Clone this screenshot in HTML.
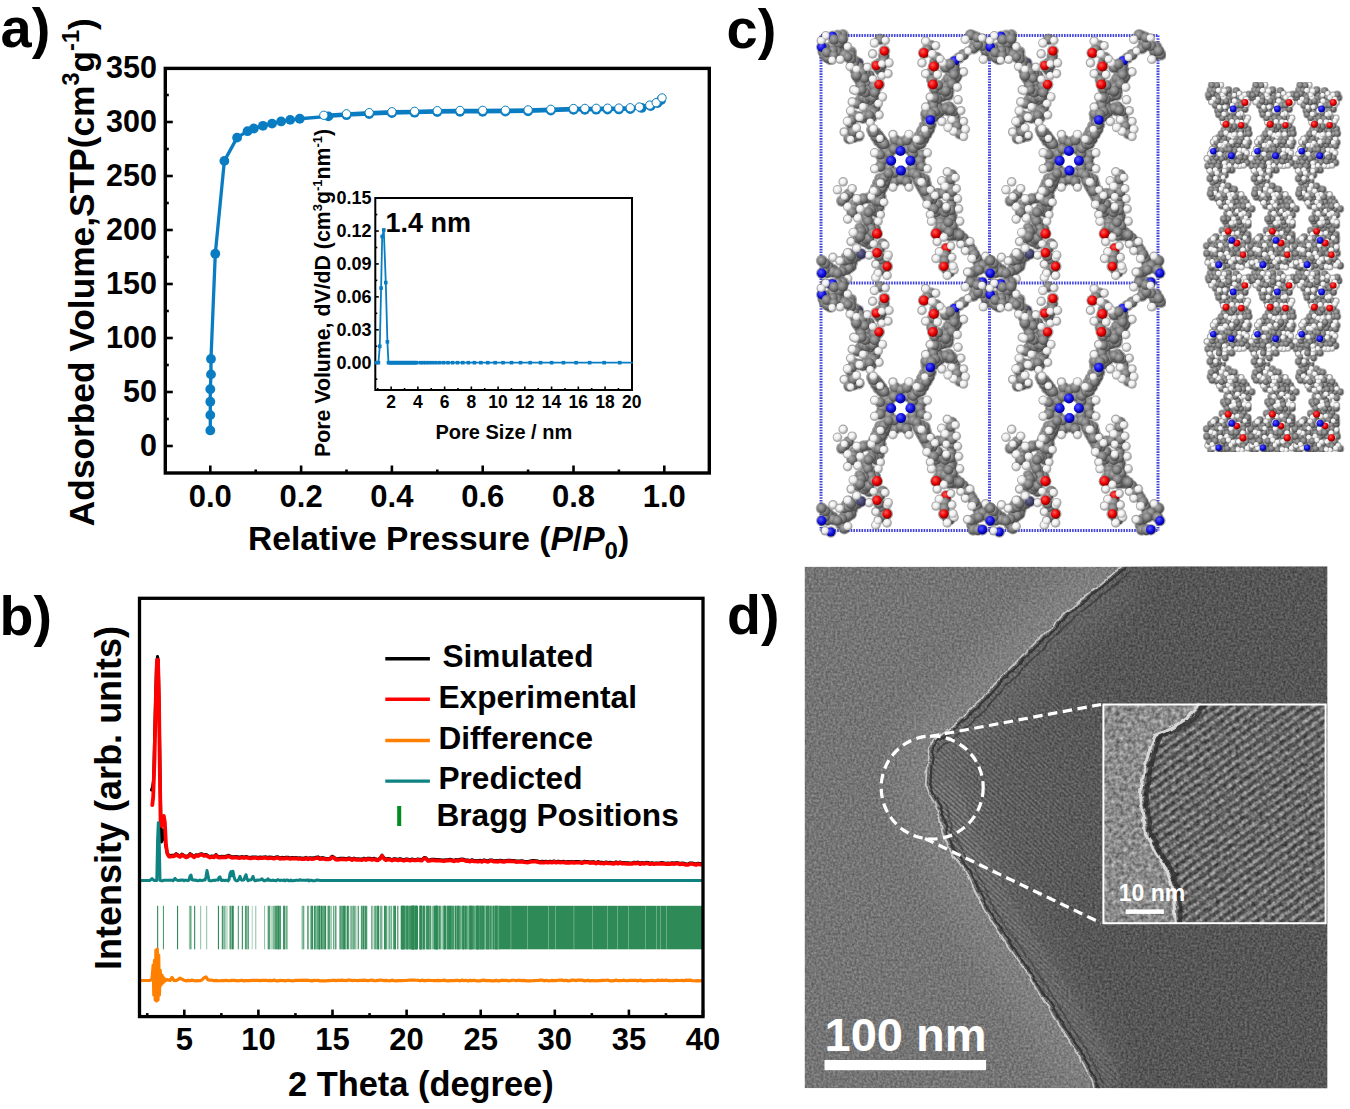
<!DOCTYPE html>
<html><head><meta charset="utf-8"><title>Figure</title>
<style>
html,body{margin:0;padding:0;background:#fff;}
body{width:1350px;height:1109px;overflow:hidden;}
svg{display:block;font-family:"Liberation Sans", sans-serif;}
</style></head>
<body>
<svg width="1350" height="1109" viewBox="0 0 1350 1109">
<rect width="1350" height="1109" fill="#fff"/>
<text x="0.5" y="47" font-size="56" font-weight="bold" text-anchor="start" fill="#000" >a)</text>
<text x="-0.5" y="635" font-size="55.5" font-weight="bold" text-anchor="start" fill="#000" >b)</text>
<text x="726.5" y="47.5" font-size="56" font-weight="bold" text-anchor="start" fill="#000" >c)</text>
<text x="727" y="634" font-size="55.5" font-weight="bold" text-anchor="start" fill="#000" >d)</text>
<line x1="210.3" y1="473" x2="210.3" y2="465.5" stroke="#000" stroke-width="2.6" />
<line x1="255.7" y1="473" x2="255.7" y2="469.5" stroke="#000" stroke-width="2.6" />
<line x1="301.1" y1="473" x2="301.1" y2="465.5" stroke="#000" stroke-width="2.6" />
<line x1="346.5" y1="473" x2="346.5" y2="469.5" stroke="#000" stroke-width="2.6" />
<line x1="391.9" y1="473" x2="391.9" y2="465.5" stroke="#000" stroke-width="2.6" />
<line x1="437.3" y1="473" x2="437.3" y2="469.5" stroke="#000" stroke-width="2.6" />
<line x1="482.7" y1="473" x2="482.7" y2="465.5" stroke="#000" stroke-width="2.6" />
<line x1="528.1" y1="473" x2="528.1" y2="469.5" stroke="#000" stroke-width="2.6" />
<line x1="573.5" y1="473" x2="573.5" y2="465.5" stroke="#000" stroke-width="2.6" />
<line x1="618.9" y1="473" x2="618.9" y2="469.5" stroke="#000" stroke-width="2.6" />
<line x1="664.3" y1="473" x2="664.3" y2="465.5" stroke="#000" stroke-width="2.6" />
<line x1="165.3" y1="446" x2="172.8" y2="446" stroke="#000" stroke-width="2.6" />
<line x1="165.3" y1="419" x2="168.8" y2="419" stroke="#000" stroke-width="2.6" />
<line x1="165.3" y1="392" x2="172.8" y2="392" stroke="#000" stroke-width="2.6" />
<line x1="165.3" y1="365" x2="168.8" y2="365" stroke="#000" stroke-width="2.6" />
<line x1="165.3" y1="338" x2="172.8" y2="338" stroke="#000" stroke-width="2.6" />
<line x1="165.3" y1="311" x2="168.8" y2="311" stroke="#000" stroke-width="2.6" />
<line x1="165.3" y1="284" x2="172.8" y2="284" stroke="#000" stroke-width="2.6" />
<line x1="165.3" y1="257" x2="168.8" y2="257" stroke="#000" stroke-width="2.6" />
<line x1="165.3" y1="230" x2="172.8" y2="230" stroke="#000" stroke-width="2.6" />
<line x1="165.3" y1="203" x2="168.8" y2="203" stroke="#000" stroke-width="2.6" />
<line x1="165.3" y1="176" x2="172.8" y2="176" stroke="#000" stroke-width="2.6" />
<line x1="165.3" y1="149" x2="168.8" y2="149" stroke="#000" stroke-width="2.6" />
<line x1="165.3" y1="122" x2="172.8" y2="122" stroke="#000" stroke-width="2.6" />
<line x1="165.3" y1="95" x2="168.8" y2="95" stroke="#000" stroke-width="2.6" />
<rect x="165.3" y="68.4" width="544.0" height="404.6" fill="none" stroke="#000" stroke-width="3.4"/>
<text x="157" y="455.8" font-size="30.5" font-weight="bold" text-anchor="end" fill="#000" >0</text>
<text x="157" y="401.8" font-size="30.5" font-weight="bold" text-anchor="end" fill="#000" >50</text>
<text x="157" y="347.8" font-size="30.5" font-weight="bold" text-anchor="end" fill="#000" >100</text>
<text x="157" y="293.8" font-size="30.5" font-weight="bold" text-anchor="end" fill="#000" >150</text>
<text x="157" y="239.8" font-size="30.5" font-weight="bold" text-anchor="end" fill="#000" >200</text>
<text x="157" y="185.8" font-size="30.5" font-weight="bold" text-anchor="end" fill="#000" >250</text>
<text x="157" y="131.8" font-size="30.5" font-weight="bold" text-anchor="end" fill="#000" >300</text>
<text x="157" y="77.8" font-size="30.5" font-weight="bold" text-anchor="end" fill="#000" >350</text>
<text x="210.3" y="507" font-size="31" font-weight="bold" text-anchor="middle" fill="#000" >0.0</text>
<text x="301.1" y="507" font-size="31" font-weight="bold" text-anchor="middle" fill="#000" >0.2</text>
<text x="391.9" y="507" font-size="31" font-weight="bold" text-anchor="middle" fill="#000" >0.4</text>
<text x="482.7" y="507" font-size="31" font-weight="bold" text-anchor="middle" fill="#000" >0.6</text>
<text x="573.5" y="507" font-size="31" font-weight="bold" text-anchor="middle" fill="#000" >0.8</text>
<text x="664.3" y="507" font-size="31" font-weight="bold" text-anchor="middle" fill="#000" >1.0</text>
<text transform="translate(93.8,272.2) rotate(-90)" x="0" y="0" font-size="35.3" font-weight="bold" text-anchor="middle">Adsorbed Volume,STP(cm<tspan font-size="23.5" dy="-15">3</tspan><tspan dy="15">g</tspan><tspan font-size="23.5" dy="-15">-1</tspan><tspan dy="15">)</tspan></text>
<text x="248" y="550" font-size="33.6" font-weight="bold">Relative Pressure (<tspan font-style="italic">P</tspan>/<tspan font-style="italic">P</tspan><tspan font-size="24" dy="9">0</tspan><tspan dy="-9">)</tspan></text>
<polyline points="210.3,430.45 210.3,415.11 210.3,401.72 210.3,389.19 210.98,374.4 210.98,358.95 215.29,253.76 224.37,160.88 237.09,137.66 247.53,131.18 253.88,128.48 262.96,125.78 272.04,123.62 281.12,121.46 290.2,119.84 299.74,118.76 328.34,116.41 346.5,115.2 369.2,114.01 391.9,113.14 414.6,112.71 437.3,112.06 460,111.85 482.7,111.74 505.4,111.63 528.1,111.31 550.8,110.66 573.5,109.9 584.85,109.8 596.2,109.69 607.55,109.58 618.9,109.47 630.25,109.15 641.6,107.97 650.68,106.11 657.49,102.98 661.12,100.05" fill="none" stroke="#0a7dc2" stroke-width="3.3" stroke-linejoin="round" stroke-linecap="round" />
<circle cx="210.3" cy="430.45" r="4.9" fill="#0a7dc2"/>
<circle cx="210.3" cy="415.11" r="4.9" fill="#0a7dc2"/>
<circle cx="210.3" cy="401.72" r="4.9" fill="#0a7dc2"/>
<circle cx="210.3" cy="389.19" r="4.9" fill="#0a7dc2"/>
<circle cx="210.98" cy="374.4" r="4.9" fill="#0a7dc2"/>
<circle cx="210.98" cy="358.95" r="4.9" fill="#0a7dc2"/>
<circle cx="215.29" cy="253.76" r="4.9" fill="#0a7dc2"/>
<circle cx="224.37" cy="160.88" r="4.9" fill="#0a7dc2"/>
<circle cx="237.09" cy="137.66" r="4.9" fill="#0a7dc2"/>
<circle cx="247.53" cy="131.18" r="4.9" fill="#0a7dc2"/>
<circle cx="253.88" cy="128.48" r="4.9" fill="#0a7dc2"/>
<circle cx="262.96" cy="125.78" r="4.9" fill="#0a7dc2"/>
<circle cx="272.04" cy="123.62" r="4.9" fill="#0a7dc2"/>
<circle cx="281.12" cy="121.46" r="4.9" fill="#0a7dc2"/>
<circle cx="290.2" cy="119.84" r="4.9" fill="#0a7dc2"/>
<circle cx="299.74" cy="118.76" r="4.9" fill="#0a7dc2"/>
<circle cx="328.34" cy="116.41" r="4.9" fill="#0a7dc2"/>
<circle cx="346.5" cy="115.2" r="4.9" fill="#0a7dc2"/>
<circle cx="369.2" cy="114.01" r="4.9" fill="#0a7dc2"/>
<circle cx="391.9" cy="113.14" r="4.9" fill="#0a7dc2"/>
<circle cx="414.6" cy="112.71" r="4.9" fill="#0a7dc2"/>
<circle cx="437.3" cy="112.06" r="4.9" fill="#0a7dc2"/>
<circle cx="460" cy="111.85" r="4.9" fill="#0a7dc2"/>
<circle cx="482.7" cy="111.74" r="4.9" fill="#0a7dc2"/>
<circle cx="505.4" cy="111.63" r="4.9" fill="#0a7dc2"/>
<circle cx="528.1" cy="111.31" r="4.9" fill="#0a7dc2"/>
<circle cx="550.8" cy="110.66" r="4.9" fill="#0a7dc2"/>
<circle cx="573.5" cy="109.9" r="4.9" fill="#0a7dc2"/>
<circle cx="584.85" cy="109.8" r="4.9" fill="#0a7dc2"/>
<circle cx="596.2" cy="109.69" r="4.9" fill="#0a7dc2"/>
<circle cx="607.55" cy="109.58" r="4.9" fill="#0a7dc2"/>
<circle cx="618.9" cy="109.47" r="4.9" fill="#0a7dc2"/>
<circle cx="630.25" cy="109.15" r="4.9" fill="#0a7dc2"/>
<circle cx="641.6" cy="107.97" r="4.9" fill="#0a7dc2"/>
<circle cx="650.68" cy="106.11" r="4.9" fill="#0a7dc2"/>
<circle cx="657.49" cy="102.98" r="4.9" fill="#0a7dc2"/>
<circle cx="661.12" cy="100.05" r="4.9" fill="#0a7dc2"/>
<polyline points="323.8,115.3 346.5,113.79 369.2,112.6 391.9,111.74 414.6,111.31 437.3,110.66 460,110.44 482.7,110.34 505.4,110.23 528.1,109.9 550.8,109.26 573.5,108.5 584.85,108.39 596.2,108.28 607.55,108.18 618.9,108.07 630.25,107.74 639.33,106.99 649.77,105.04 656.13,102.67 662.03,97.92" fill="none" stroke="#0a7dc2" stroke-width="3.3" stroke-linejoin="round" stroke-linecap="round" />
<circle cx="323.8" cy="115.3" r="4.15" fill="#fff" stroke="#0a7dc2" stroke-width="1.0"/>
<circle cx="346.5" cy="113.79" r="4.15" fill="#fff" stroke="#0a7dc2" stroke-width="1.0"/>
<circle cx="369.2" cy="112.6" r="4.15" fill="#fff" stroke="#0a7dc2" stroke-width="1.0"/>
<circle cx="391.9" cy="111.74" r="4.15" fill="#fff" stroke="#0a7dc2" stroke-width="1.0"/>
<circle cx="414.6" cy="111.31" r="4.15" fill="#fff" stroke="#0a7dc2" stroke-width="1.0"/>
<circle cx="437.3" cy="110.66" r="4.15" fill="#fff" stroke="#0a7dc2" stroke-width="1.0"/>
<circle cx="460" cy="110.44" r="4.15" fill="#fff" stroke="#0a7dc2" stroke-width="1.0"/>
<circle cx="482.7" cy="110.34" r="4.15" fill="#fff" stroke="#0a7dc2" stroke-width="1.0"/>
<circle cx="505.4" cy="110.23" r="4.15" fill="#fff" stroke="#0a7dc2" stroke-width="1.0"/>
<circle cx="528.1" cy="109.9" r="4.15" fill="#fff" stroke="#0a7dc2" stroke-width="1.0"/>
<circle cx="550.8" cy="109.26" r="4.15" fill="#fff" stroke="#0a7dc2" stroke-width="1.0"/>
<circle cx="573.5" cy="108.5" r="4.15" fill="#fff" stroke="#0a7dc2" stroke-width="1.0"/>
<circle cx="584.85" cy="108.39" r="4.15" fill="#fff" stroke="#0a7dc2" stroke-width="1.0"/>
<circle cx="596.2" cy="108.28" r="4.15" fill="#fff" stroke="#0a7dc2" stroke-width="1.0"/>
<circle cx="607.55" cy="108.18" r="4.15" fill="#fff" stroke="#0a7dc2" stroke-width="1.0"/>
<circle cx="618.9" cy="108.07" r="4.15" fill="#fff" stroke="#0a7dc2" stroke-width="1.0"/>
<circle cx="630.25" cy="107.74" r="4.15" fill="#fff" stroke="#0a7dc2" stroke-width="1.0"/>
<circle cx="639.33" cy="106.99" r="4.15" fill="#fff" stroke="#0a7dc2" stroke-width="1.0"/>
<circle cx="649.77" cy="105.04" r="4.15" fill="#fff" stroke="#0a7dc2" stroke-width="1.0"/>
<circle cx="656.13" cy="102.67" r="4.15" fill="#fff" stroke="#0a7dc2" stroke-width="1.0"/>
<circle cx="662.03" cy="97.92" r="4.15" fill="#fff" stroke="#0a7dc2" stroke-width="1.0"/>
<rect x="375.3" y="198.0" width="256.7" height="192.0" fill="#fff" stroke="none"/>
<line x1="377.77" y1="390" x2="377.77" y2="388" stroke="#000" stroke-width="1.6" />
<line x1="391.14" y1="390" x2="391.14" y2="386.5" stroke="#000" stroke-width="1.6" />
<line x1="404.51" y1="390" x2="404.51" y2="388" stroke="#000" stroke-width="1.6" />
<line x1="417.88" y1="390" x2="417.88" y2="386.5" stroke="#000" stroke-width="1.6" />
<line x1="431.25" y1="390" x2="431.25" y2="388" stroke="#000" stroke-width="1.6" />
<line x1="444.62" y1="390" x2="444.62" y2="386.5" stroke="#000" stroke-width="1.6" />
<line x1="457.99" y1="390" x2="457.99" y2="388" stroke="#000" stroke-width="1.6" />
<line x1="471.36" y1="390" x2="471.36" y2="386.5" stroke="#000" stroke-width="1.6" />
<line x1="484.73" y1="390" x2="484.73" y2="388" stroke="#000" stroke-width="1.6" />
<line x1="498.1" y1="390" x2="498.1" y2="386.5" stroke="#000" stroke-width="1.6" />
<line x1="511.47" y1="390" x2="511.47" y2="388" stroke="#000" stroke-width="1.6" />
<line x1="524.84" y1="390" x2="524.84" y2="386.5" stroke="#000" stroke-width="1.6" />
<line x1="538.21" y1="390" x2="538.21" y2="388" stroke="#000" stroke-width="1.6" />
<line x1="551.58" y1="390" x2="551.58" y2="386.5" stroke="#000" stroke-width="1.6" />
<line x1="564.95" y1="390" x2="564.95" y2="388" stroke="#000" stroke-width="1.6" />
<line x1="578.32" y1="390" x2="578.32" y2="386.5" stroke="#000" stroke-width="1.6" />
<line x1="591.69" y1="390" x2="591.69" y2="388" stroke="#000" stroke-width="1.6" />
<line x1="605.06" y1="390" x2="605.06" y2="386.5" stroke="#000" stroke-width="1.6" />
<line x1="618.43" y1="390" x2="618.43" y2="388" stroke="#000" stroke-width="1.6" />
<line x1="631.8" y1="390" x2="631.8" y2="386.5" stroke="#000" stroke-width="1.6" />
<line x1="375.3" y1="379.16" x2="377.3" y2="379.16" stroke="#000" stroke-width="1.6" />
<line x1="375.3" y1="362.7" x2="378.8" y2="362.7" stroke="#000" stroke-width="1.6" />
<line x1="375.3" y1="346.24" x2="377.3" y2="346.24" stroke="#000" stroke-width="1.6" />
<line x1="375.3" y1="329.78" x2="378.8" y2="329.78" stroke="#000" stroke-width="1.6" />
<line x1="375.3" y1="313.32" x2="377.3" y2="313.32" stroke="#000" stroke-width="1.6" />
<line x1="375.3" y1="296.86" x2="378.8" y2="296.86" stroke="#000" stroke-width="1.6" />
<line x1="375.3" y1="280.4" x2="377.3" y2="280.4" stroke="#000" stroke-width="1.6" />
<line x1="375.3" y1="263.94" x2="378.8" y2="263.94" stroke="#000" stroke-width="1.6" />
<line x1="375.3" y1="247.48" x2="377.3" y2="247.48" stroke="#000" stroke-width="1.6" />
<line x1="375.3" y1="231.02" x2="378.8" y2="231.02" stroke="#000" stroke-width="1.6" />
<line x1="375.3" y1="214.56" x2="377.3" y2="214.56" stroke="#000" stroke-width="1.6" />
<rect x="375.3" y="198.0" width="256.7" height="192.0" fill="none" stroke="#000" stroke-width="2"/>
<text x="371.5" y="368.5" font-size="18" font-weight="bold" text-anchor="end" fill="#000" >0.00</text>
<text x="371.5" y="335.58" font-size="18" font-weight="bold" text-anchor="end" fill="#000" >0.03</text>
<text x="371.5" y="302.66" font-size="18" font-weight="bold" text-anchor="end" fill="#000" >0.06</text>
<text x="371.5" y="269.74" font-size="18" font-weight="bold" text-anchor="end" fill="#000" >0.09</text>
<text x="371.5" y="236.82" font-size="18" font-weight="bold" text-anchor="end" fill="#000" >0.12</text>
<text x="371.5" y="203.91" font-size="18" font-weight="bold" text-anchor="end" fill="#000" >0.15</text>
<text x="391.14" y="407.6" font-size="17.5" font-weight="bold" text-anchor="middle" fill="#000" >2</text>
<text x="417.88" y="407.6" font-size="17.5" font-weight="bold" text-anchor="middle" fill="#000" >4</text>
<text x="444.62" y="407.6" font-size="17.5" font-weight="bold" text-anchor="middle" fill="#000" >6</text>
<text x="471.36" y="407.6" font-size="17.5" font-weight="bold" text-anchor="middle" fill="#000" >8</text>
<text x="498.1" y="407.6" font-size="17.5" font-weight="bold" text-anchor="middle" fill="#000" >10</text>
<text x="524.84" y="407.6" font-size="17.5" font-weight="bold" text-anchor="middle" fill="#000" >12</text>
<text x="551.58" y="407.6" font-size="17.5" font-weight="bold" text-anchor="middle" fill="#000" >14</text>
<text x="578.32" y="407.6" font-size="17.5" font-weight="bold" text-anchor="middle" fill="#000" >16</text>
<text x="605.06" y="407.6" font-size="17.5" font-weight="bold" text-anchor="middle" fill="#000" >18</text>
<text x="631.8" y="407.6" font-size="17.5" font-weight="bold" text-anchor="middle" fill="#000" >20</text>
<text x="435.5" y="438.9" font-size="20" font-weight="bold" text-anchor="start" fill="#000" >Pore Size / nm</text>
<text transform="translate(330,457) rotate(-90)" x="0" y="0" font-size="21.3" font-weight="bold">Pore Volume, dV/dD (cm<tspan font-size="13" dy="-8">3</tspan><tspan dy="8">g</tspan><tspan font-size="13" dy="-8">-1</tspan><tspan dy="8">nm</tspan><tspan font-size="13" dy="-8">-1</tspan><tspan dy="8">)</tspan></text>
<text x="385.5" y="231.5" font-size="27" font-weight="bold" text-anchor="start" fill="#000" >1.4 nm</text>
<polyline points="376.43,362.7 378.44,362.7 379.78,346.24 381.11,288.08 382.18,236.51 383.79,229.93 385.79,282.6 387.4,341.85 388.47,362.7 389.8,362.7 391.14,362.7 392.48,362.7 393.81,362.7 395.15,362.7 396.49,362.7 397.82,362.7 399.16,362.7 400.5,362.7 401.84,362.7 403.17,362.7 404.51,362.7 405.85,362.7 407.18,362.7 408.52,362.7 409.86,362.7 411.19,362.7 412.53,362.7 413.87,362.7 415.21,362.7 416.54,362.7 420.55,362.7 423.23,362.7 426.09,362.7 429.15,362.7 432.43,362.7 435.93,362.7 439.68,362.7 443.69,362.7 447.99,362.7 452.58,362.7 457.5,362.7 462.76,362.7 468.39,362.7 474.41,362.7 480.85,362.7 487.75,362.7 495.13,362.7 503.02,362.7 511.47,362.7 520.51,362.7 530.18,362.7 540.52,362.7 551.6,362.7 563.44,362.7 576.12,362.7 589.68,362.7 604.19,362.7 619.72,362.7 632,362.7" fill="none" stroke="#0a7dc2" stroke-width="1.8" stroke-linejoin="round" stroke-linecap="round" />
<rect x="374.63" y="360.9" width="3.6" height="3.6" fill="#0a7dc2"/>
<rect x="376.64" y="360.9" width="3.6" height="3.6" fill="#0a7dc2"/>
<rect x="377.98" y="344.44" width="3.6" height="3.6" fill="#0a7dc2"/>
<rect x="379.31" y="286.28" width="3.6" height="3.6" fill="#0a7dc2"/>
<rect x="380.38" y="234.71" width="3.6" height="3.6" fill="#0a7dc2"/>
<rect x="381.99" y="228.13" width="3.6" height="3.6" fill="#0a7dc2"/>
<rect x="383.99" y="280.8" width="3.6" height="3.6" fill="#0a7dc2"/>
<rect x="385.6" y="340.05" width="3.6" height="3.6" fill="#0a7dc2"/>
<rect x="386.67" y="360.9" width="3.6" height="3.6" fill="#0a7dc2"/>
<rect x="388" y="360.9" width="3.6" height="3.6" fill="#0a7dc2"/>
<rect x="389.34" y="360.9" width="3.6" height="3.6" fill="#0a7dc2"/>
<rect x="390.68" y="360.9" width="3.6" height="3.6" fill="#0a7dc2"/>
<rect x="392.01" y="360.9" width="3.6" height="3.6" fill="#0a7dc2"/>
<rect x="393.35" y="360.9" width="3.6" height="3.6" fill="#0a7dc2"/>
<rect x="394.69" y="360.9" width="3.6" height="3.6" fill="#0a7dc2"/>
<rect x="396.02" y="360.9" width="3.6" height="3.6" fill="#0a7dc2"/>
<rect x="397.36" y="360.9" width="3.6" height="3.6" fill="#0a7dc2"/>
<rect x="398.7" y="360.9" width="3.6" height="3.6" fill="#0a7dc2"/>
<rect x="400.04" y="360.9" width="3.6" height="3.6" fill="#0a7dc2"/>
<rect x="401.37" y="360.9" width="3.6" height="3.6" fill="#0a7dc2"/>
<rect x="402.71" y="360.9" width="3.6" height="3.6" fill="#0a7dc2"/>
<rect x="404.05" y="360.9" width="3.6" height="3.6" fill="#0a7dc2"/>
<rect x="405.38" y="360.9" width="3.6" height="3.6" fill="#0a7dc2"/>
<rect x="406.72" y="360.9" width="3.6" height="3.6" fill="#0a7dc2"/>
<rect x="408.06" y="360.9" width="3.6" height="3.6" fill="#0a7dc2"/>
<rect x="409.39" y="360.9" width="3.6" height="3.6" fill="#0a7dc2"/>
<rect x="410.73" y="360.9" width="3.6" height="3.6" fill="#0a7dc2"/>
<rect x="412.07" y="360.9" width="3.6" height="3.6" fill="#0a7dc2"/>
<rect x="413.41" y="360.9" width="3.6" height="3.6" fill="#0a7dc2"/>
<rect x="414.74" y="360.9" width="3.6" height="3.6" fill="#0a7dc2"/>
<rect x="418.75" y="360.9" width="3.6" height="3.6" fill="#0a7dc2"/>
<rect x="421.43" y="360.9" width="3.6" height="3.6" fill="#0a7dc2"/>
<rect x="424.29" y="360.9" width="3.6" height="3.6" fill="#0a7dc2"/>
<rect x="427.35" y="360.9" width="3.6" height="3.6" fill="#0a7dc2"/>
<rect x="430.63" y="360.9" width="3.6" height="3.6" fill="#0a7dc2"/>
<rect x="434.13" y="360.9" width="3.6" height="3.6" fill="#0a7dc2"/>
<rect x="437.88" y="360.9" width="3.6" height="3.6" fill="#0a7dc2"/>
<rect x="441.89" y="360.9" width="3.6" height="3.6" fill="#0a7dc2"/>
<rect x="446.19" y="360.9" width="3.6" height="3.6" fill="#0a7dc2"/>
<rect x="450.78" y="360.9" width="3.6" height="3.6" fill="#0a7dc2"/>
<rect x="455.7" y="360.9" width="3.6" height="3.6" fill="#0a7dc2"/>
<rect x="460.96" y="360.9" width="3.6" height="3.6" fill="#0a7dc2"/>
<rect x="466.59" y="360.9" width="3.6" height="3.6" fill="#0a7dc2"/>
<rect x="472.61" y="360.9" width="3.6" height="3.6" fill="#0a7dc2"/>
<rect x="479.05" y="360.9" width="3.6" height="3.6" fill="#0a7dc2"/>
<rect x="485.95" y="360.9" width="3.6" height="3.6" fill="#0a7dc2"/>
<rect x="493.33" y="360.9" width="3.6" height="3.6" fill="#0a7dc2"/>
<rect x="501.22" y="360.9" width="3.6" height="3.6" fill="#0a7dc2"/>
<rect x="509.67" y="360.9" width="3.6" height="3.6" fill="#0a7dc2"/>
<rect x="518.71" y="360.9" width="3.6" height="3.6" fill="#0a7dc2"/>
<rect x="528.38" y="360.9" width="3.6" height="3.6" fill="#0a7dc2"/>
<rect x="538.72" y="360.9" width="3.6" height="3.6" fill="#0a7dc2"/>
<rect x="549.8" y="360.9" width="3.6" height="3.6" fill="#0a7dc2"/>
<rect x="561.64" y="360.9" width="3.6" height="3.6" fill="#0a7dc2"/>
<rect x="574.32" y="360.9" width="3.6" height="3.6" fill="#0a7dc2"/>
<rect x="587.88" y="360.9" width="3.6" height="3.6" fill="#0a7dc2"/>
<rect x="602.39" y="360.9" width="3.6" height="3.6" fill="#0a7dc2"/>
<rect x="617.92" y="360.9" width="3.6" height="3.6" fill="#0a7dc2"/>
<g>
<rect x="157.1" y="905.8" width="1.1" height="43.5" fill="#2e8b57" opacity="1"/>
<rect x="162.9" y="905.8" width="1.1" height="43.5" fill="#2e8b57" opacity="0.85"/>
<rect x="177" y="905.8" width="1.1" height="43.5" fill="#2e8b57" opacity="1"/>
<rect x="188.9" y="905.8" width="1.1" height="43.5" fill="#2e8b57" opacity="0.5"/>
<rect x="190.3" y="905.8" width="1.1" height="43.5" fill="#2e8b57" opacity="1"/>
<rect x="194.1" y="905.8" width="1.1" height="43.5" fill="#2e8b57" opacity="1"/>
<rect x="200.1" y="905.8" width="1.1" height="43.5" fill="#2e8b57" opacity="0.5"/>
<rect x="206.1" y="905.8" width="1.1" height="43.5" fill="#2e8b57" opacity="0.5"/>
<rect x="217.9" y="905.8" width="1.1" height="43.5" fill="#2e8b57" opacity="1"/>
<rect x="221.8" y="905.8" width="1.1" height="43.5" fill="#2e8b57" opacity="1"/>
<rect x="223.5" y="905.8" width="1.1" height="43.5" fill="#2e8b57" opacity="1"/>
<rect x="225.2" y="905.8" width="1.1" height="43.5" fill="#2e8b57" opacity="0.5"/>
<rect x="226.6" y="905.8" width="1.1" height="43.5" fill="#2e8b57" opacity="0.35"/>
<rect x="229.1" y="905.8" width="1.1" height="43.5" fill="#2e8b57" opacity="0.5"/>
<rect x="230" y="905.8" width="1.1" height="43.5" fill="#2e8b57" opacity="0.85"/>
<rect x="231" y="905.8" width="1.1" height="43.5" fill="#2e8b57" opacity="0.5"/>
<rect x="231.9" y="905.8" width="1.1" height="43.5" fill="#2e8b57" opacity="1"/>
<rect x="232.8" y="905.8" width="1.1" height="43.5" fill="#2e8b57" opacity="0.85"/>
<rect x="237.8" y="905.8" width="1.1" height="43.5" fill="#2e8b57" opacity="0.85"/>
<rect x="241.8" y="905.8" width="1.1" height="43.5" fill="#2e8b57" opacity="1"/>
<rect x="244.9" y="905.8" width="1.1" height="43.5" fill="#2e8b57" opacity="0.85"/>
<rect x="246.3" y="905.8" width="1.1" height="43.5" fill="#2e8b57" opacity="1"/>
<rect x="247.8" y="905.8" width="1.1" height="43.5" fill="#2e8b57" opacity="0.85"/>
<rect x="251.7" y="905.8" width="1.1" height="43.5" fill="#2e8b57" opacity="0.35"/>
<rect x="255.2" y="905.8" width="1.1" height="43.5" fill="#2e8b57" opacity="0.5"/>
<rect x="264" y="905.8" width="1.1" height="43.5" fill="#2e8b57" opacity="0.5"/>
<rect x="267.7" y="905.8" width="1.1" height="43.5" fill="#2e8b57" opacity="1"/>
<rect x="268.65" y="905.8" width="1.1" height="43.5" fill="#2e8b57" opacity="0.5"/>
<rect x="269.22" y="905.8" width="1.1" height="43.5" fill="#2e8b57" opacity="0.85"/>
<rect x="271.28" y="905.8" width="1.1" height="43.5" fill="#2e8b57" opacity="0.35"/>
<rect x="271.7" y="905.8" width="1.1" height="43.5" fill="#2e8b57" opacity="0.35"/>
<rect x="273.28" y="905.8" width="1.1" height="43.5" fill="#2e8b57" opacity="0.85"/>
<rect x="274.34" y="905.8" width="1.1" height="43.5" fill="#2e8b57" opacity="0.35"/>
<rect x="274.74" y="905.8" width="1.1" height="43.5" fill="#2e8b57" opacity="1"/>
<rect x="276.22" y="905.8" width="1.1" height="43.5" fill="#2e8b57" opacity="1"/>
<rect x="276.59" y="905.8" width="1.1" height="43.5" fill="#2e8b57" opacity="1"/>
<rect x="277.83" y="905.8" width="1.1" height="43.5" fill="#2e8b57" opacity="1"/>
<rect x="278.25" y="905.8" width="1.1" height="43.5" fill="#2e8b57" opacity="1"/>
<rect x="278.71" y="905.8" width="1.1" height="43.5" fill="#2e8b57" opacity="0.85"/>
<rect x="279.93" y="905.8" width="1.1" height="43.5" fill="#2e8b57" opacity="0.85"/>
<rect x="283.16" y="905.8" width="1.1" height="43.5" fill="#2e8b57" opacity="1"/>
<rect x="283.68" y="905.8" width="1.1" height="43.5" fill="#2e8b57" opacity="1"/>
<rect x="284.4" y="905.8" width="1.1" height="43.5" fill="#2e8b57" opacity="0.85"/>
<rect x="286.34" y="905.8" width="1.1" height="43.5" fill="#2e8b57" opacity="1"/>
<rect x="301.5" y="905.8" width="1.1" height="43.5" fill="#2e8b57" opacity="0.5"/>
<rect x="302.61" y="905.8" width="1.1" height="43.5" fill="#2e8b57" opacity="0.85"/>
<rect x="303.37" y="905.8" width="1.1" height="43.5" fill="#2e8b57" opacity="0.5"/>
<rect x="307.36" y="905.8" width="1.1" height="43.5" fill="#2e8b57" opacity="1"/>
<rect x="307.65" y="905.8" width="1.1" height="43.5" fill="#2e8b57" opacity="0.35"/>
<rect x="309.86" y="905.8" width="1.1" height="43.5" fill="#2e8b57" opacity="0.35"/>
<rect x="310.45" y="905.8" width="1.1" height="43.5" fill="#2e8b57" opacity="0.35"/>
<rect x="310.86" y="905.8" width="1.1" height="43.5" fill="#2e8b57" opacity="0.5"/>
<rect x="311.23" y="905.8" width="1.1" height="43.5" fill="#2e8b57" opacity="0.85"/>
<rect x="311.85" y="905.8" width="1.1" height="43.5" fill="#2e8b57" opacity="1"/>
<rect x="313.79" y="905.8" width="1.1" height="43.5" fill="#2e8b57" opacity="0.85"/>
<rect x="314.24" y="905.8" width="1.1" height="43.5" fill="#2e8b57" opacity="1"/>
<rect x="315.37" y="905.8" width="1.1" height="43.5" fill="#2e8b57" opacity="1"/>
<rect x="316.63" y="905.8" width="1.1" height="43.5" fill="#2e8b57" opacity="0.5"/>
<rect x="317.35" y="905.8" width="1.1" height="43.5" fill="#2e8b57" opacity="1"/>
<rect x="318.39" y="905.8" width="1.1" height="43.5" fill="#2e8b57" opacity="0.85"/>
<rect x="318.71" y="905.8" width="1.1" height="43.5" fill="#2e8b57" opacity="1"/>
<rect x="319.02" y="905.8" width="1.1" height="43.5" fill="#2e8b57" opacity="1"/>
<rect x="319.5" y="905.8" width="1.1" height="43.5" fill="#2e8b57" opacity="0.85"/>
<rect x="320.89" y="905.8" width="1.1" height="43.5" fill="#2e8b57" opacity="1"/>
<rect x="321.7" y="905.8" width="1.1" height="43.5" fill="#2e8b57" opacity="0.35"/>
<rect x="322.33" y="905.8" width="1.1" height="43.5" fill="#2e8b57" opacity="1"/>
<rect x="323.46" y="905.8" width="1.1" height="43.5" fill="#2e8b57" opacity="1"/>
<rect x="324.31" y="905.8" width="1.1" height="43.5" fill="#2e8b57" opacity="0.85"/>
<rect x="324.92" y="905.8" width="1.1" height="43.5" fill="#2e8b57" opacity="1"/>
<rect x="326.75" y="905.8" width="1.1" height="43.5" fill="#2e8b57" opacity="0.5"/>
<rect x="328.2" y="905.8" width="1.1" height="43.5" fill="#2e8b57" opacity="1"/>
<rect x="328.73" y="905.8" width="1.1" height="43.5" fill="#2e8b57" opacity="0.85"/>
<rect x="329.83" y="905.8" width="1.1" height="43.5" fill="#2e8b57" opacity="0.35"/>
<rect x="330.83" y="905.8" width="1.1" height="43.5" fill="#2e8b57" opacity="0.5"/>
<rect x="333.16" y="905.8" width="1.1" height="43.5" fill="#2e8b57" opacity="0.85"/>
<rect x="334.72" y="905.8" width="1.1" height="43.5" fill="#2e8b57" opacity="0.35"/>
<rect x="335.31" y="905.8" width="1.1" height="43.5" fill="#2e8b57" opacity="1"/>
<rect x="339.48" y="905.8" width="1.1" height="43.5" fill="#2e8b57" opacity="1"/>
<rect x="339.85" y="905.8" width="1.1" height="43.5" fill="#2e8b57" opacity="0.35"/>
<rect x="340.64" y="905.8" width="1.1" height="43.5" fill="#2e8b57" opacity="1"/>
<rect x="342.31" y="905.8" width="1.1" height="43.5" fill="#2e8b57" opacity="1"/>
<rect x="342.72" y="905.8" width="1.1" height="43.5" fill="#2e8b57" opacity="1"/>
<rect x="343.64" y="905.8" width="1.1" height="43.5" fill="#2e8b57" opacity="0.85"/>
<rect x="343.93" y="905.8" width="1.1" height="43.5" fill="#2e8b57" opacity="1"/>
<rect x="345.29" y="905.8" width="1.1" height="43.5" fill="#2e8b57" opacity="1"/>
<rect x="346.98" y="905.8" width="1.1" height="43.5" fill="#2e8b57" opacity="1"/>
<rect x="348.09" y="905.8" width="1.1" height="43.5" fill="#2e8b57" opacity="0.85"/>
<rect x="350.42" y="905.8" width="1.1" height="43.5" fill="#2e8b57" opacity="0.85"/>
<rect x="351.05" y="905.8" width="1.1" height="43.5" fill="#2e8b57" opacity="0.35"/>
<rect x="352.48" y="905.8" width="1.1" height="43.5" fill="#2e8b57" opacity="1"/>
<rect x="353.64" y="905.8" width="1.1" height="43.5" fill="#2e8b57" opacity="0.85"/>
<rect x="354.75" y="905.8" width="1.1" height="43.5" fill="#2e8b57" opacity="0.5"/>
<rect x="355.61" y="905.8" width="1.1" height="43.5" fill="#2e8b57" opacity="0.35"/>
<rect x="357.69" y="905.8" width="1.1" height="43.5" fill="#2e8b57" opacity="1"/>
<rect x="360.84" y="905.8" width="1.1" height="43.5" fill="#2e8b57" opacity="0.85"/>
<rect x="361.73" y="905.8" width="1.1" height="43.5" fill="#2e8b57" opacity="0.85"/>
<rect x="363.07" y="905.8" width="1.1" height="43.5" fill="#2e8b57" opacity="1"/>
<rect x="363.39" y="905.8" width="1.1" height="43.5" fill="#2e8b57" opacity="0.85"/>
<rect x="364.84" y="905.8" width="1.1" height="43.5" fill="#2e8b57" opacity="1"/>
<rect x="366.14" y="905.8" width="1.1" height="43.5" fill="#2e8b57" opacity="1"/>
<rect x="371.36" y="905.8" width="1.1" height="43.5" fill="#2e8b57" opacity="1"/>
<rect x="373.34" y="905.8" width="1.1" height="43.5" fill="#2e8b57" opacity="0.35"/>
<rect x="373.92" y="905.8" width="1.1" height="43.5" fill="#2e8b57" opacity="0.35"/>
<rect x="374.66" y="905.8" width="1.1" height="43.5" fill="#2e8b57" opacity="1"/>
<rect x="376.01" y="905.8" width="1.1" height="43.5" fill="#2e8b57" opacity="0.35"/>
<rect x="376.29" y="905.8" width="1.1" height="43.5" fill="#2e8b57" opacity="0.5"/>
<rect x="377.16" y="905.8" width="1.1" height="43.5" fill="#2e8b57" opacity="1"/>
<rect x="377.59" y="905.8" width="1.1" height="43.5" fill="#2e8b57" opacity="0.5"/>
<rect x="377.97" y="905.8" width="1.1" height="43.5" fill="#2e8b57" opacity="1"/>
<rect x="378.28" y="905.8" width="1.1" height="43.5" fill="#2e8b57" opacity="0.5"/>
<rect x="379.99" y="905.8" width="1.1" height="43.5" fill="#2e8b57" opacity="0.5"/>
<rect x="380.38" y="905.8" width="1.1" height="43.5" fill="#2e8b57" opacity="0.35"/>
<rect x="380.91" y="905.8" width="1.1" height="43.5" fill="#2e8b57" opacity="0.5"/>
<rect x="381.66" y="905.8" width="1.1" height="43.5" fill="#2e8b57" opacity="0.35"/>
<rect x="383.96" y="905.8" width="1.1" height="43.5" fill="#2e8b57" opacity="0.85"/>
<rect x="384.29" y="905.8" width="1.1" height="43.5" fill="#2e8b57" opacity="1"/>
<rect x="385.14" y="905.8" width="1.1" height="43.5" fill="#2e8b57" opacity="1"/>
<rect x="386.19" y="905.8" width="1.1" height="43.5" fill="#2e8b57" opacity="0.85"/>
<rect x="388.58" y="905.8" width="1.1" height="43.5" fill="#2e8b57" opacity="1"/>
<rect x="390.55" y="905.8" width="1.1" height="43.5" fill="#2e8b57" opacity="1"/>
<rect x="392.79" y="905.8" width="1.1" height="43.5" fill="#2e8b57" opacity="0.5"/>
<rect x="393.37" y="905.8" width="1.1" height="43.5" fill="#2e8b57" opacity="0.85"/>
<rect x="394.15" y="905.8" width="1.1" height="43.5" fill="#2e8b57" opacity="1"/>
<rect x="394.85" y="905.8" width="1.1" height="43.5" fill="#2e8b57" opacity="1"/>
<rect x="397.25" y="905.8" width="1.1" height="43.5" fill="#2e8b57" opacity="1"/>
<rect x="400.67" y="905.8" width="1.1" height="43.5" fill="#2e8b57" opacity="1"/>
<rect x="401.08" y="905.8" width="1.1" height="43.5" fill="#2e8b57" opacity="0.85"/>
<rect x="401.52" y="905.8" width="1.1" height="43.5" fill="#2e8b57" opacity="0.5"/>
<rect x="401.73" y="905.8" width="1.1" height="43.5" fill="#2e8b57" opacity="1"/>
<rect x="401.93" y="905.8" width="1.1" height="43.5" fill="#2e8b57" opacity="1"/>
<rect x="402.28" y="905.8" width="1.1" height="43.5" fill="#2e8b57" opacity="1"/>
<rect x="402.73" y="905.8" width="1.1" height="43.5" fill="#2e8b57" opacity="0.5"/>
<rect x="402.94" y="905.8" width="1.1" height="43.5" fill="#2e8b57" opacity="0.35"/>
<rect x="403.04" y="905.8" width="1.1" height="43.5" fill="#2e8b57" opacity="0.85"/>
<rect x="403.35" y="905.8" width="1.1" height="43.5" fill="#2e8b57" opacity="0.35"/>
<rect x="403.63" y="905.8" width="1.1" height="43.5" fill="#2e8b57" opacity="1"/>
<rect x="404.05" y="905.8" width="1.1" height="43.5" fill="#2e8b57" opacity="0.85"/>
<rect x="405.33" y="905.8" width="1.1" height="43.5" fill="#2e8b57" opacity="1"/>
<rect x="405.88" y="905.8" width="1.1" height="43.5" fill="#2e8b57" opacity="0.5"/>
<rect x="406.26" y="905.8" width="1.1" height="43.5" fill="#2e8b57" opacity="1"/>
<rect x="406.73" y="905.8" width="1.1" height="43.5" fill="#2e8b57" opacity="1"/>
<rect x="407.26" y="905.8" width="1.1" height="43.5" fill="#2e8b57" opacity="0.85"/>
<rect x="407.38" y="905.8" width="1.1" height="43.5" fill="#2e8b57" opacity="0.5"/>
<rect x="408.37" y="905.8" width="1.1" height="43.5" fill="#2e8b57" opacity="1"/>
<rect x="409.05" y="905.8" width="1.1" height="43.5" fill="#2e8b57" opacity="0.85"/>
<rect x="409.95" y="905.8" width="1.1" height="43.5" fill="#2e8b57" opacity="0.85"/>
<rect x="410.66" y="905.8" width="1.1" height="43.5" fill="#2e8b57" opacity="0.85"/>
<rect x="410.95" y="905.8" width="1.1" height="43.5" fill="#2e8b57" opacity="0.35"/>
<rect x="411.25" y="905.8" width="1.1" height="43.5" fill="#2e8b57" opacity="0.85"/>
<rect x="411.39" y="905.8" width="1.1" height="43.5" fill="#2e8b57" opacity="1"/>
<rect x="411.88" y="905.8" width="1.1" height="43.5" fill="#2e8b57" opacity="1"/>
<rect x="412" y="905.8" width="1.1" height="43.5" fill="#2e8b57" opacity="0.85"/>
<rect x="412.13" y="905.8" width="1.1" height="43.5" fill="#2e8b57" opacity="1"/>
<rect x="412.32" y="905.8" width="1.1" height="43.5" fill="#2e8b57" opacity="0.85"/>
<rect x="412.49" y="905.8" width="1.1" height="43.5" fill="#2e8b57" opacity="1"/>
<rect x="412.75" y="905.8" width="1.1" height="43.5" fill="#2e8b57" opacity="1"/>
<rect x="412.87" y="905.8" width="1.1" height="43.5" fill="#2e8b57" opacity="0.85"/>
<rect x="412.97" y="905.8" width="1.1" height="43.5" fill="#2e8b57" opacity="0.5"/>
<rect x="413.13" y="905.8" width="1.1" height="43.5" fill="#2e8b57" opacity="1"/>
<rect x="413.27" y="905.8" width="1.1" height="43.5" fill="#2e8b57" opacity="0.5"/>
<rect x="413.55" y="905.8" width="1.1" height="43.5" fill="#2e8b57" opacity="0.85"/>
<rect x="413.66" y="905.8" width="1.1" height="43.5" fill="#2e8b57" opacity="0.35"/>
<rect x="414.56" y="905.8" width="1.1" height="43.5" fill="#2e8b57" opacity="1"/>
<rect x="415.02" y="905.8" width="1.1" height="43.5" fill="#2e8b57" opacity="1"/>
<rect x="415.18" y="905.8" width="1.1" height="43.5" fill="#2e8b57" opacity="0.35"/>
<rect x="415.39" y="905.8" width="1.1" height="43.5" fill="#2e8b57" opacity="1"/>
<rect x="415.66" y="905.8" width="1.1" height="43.5" fill="#2e8b57" opacity="1"/>
<rect x="415.93" y="905.8" width="1.1" height="43.5" fill="#2e8b57" opacity="0.85"/>
<rect x="416.08" y="905.8" width="1.1" height="43.5" fill="#2e8b57" opacity="1"/>
<rect x="416.91" y="905.8" width="1.1" height="43.5" fill="#2e8b57" opacity="1"/>
<rect x="418.92" y="905.8" width="1.1" height="43.5" fill="#2e8b57" opacity="0.5"/>
<rect x="419.27" y="905.8" width="1.1" height="43.5" fill="#2e8b57" opacity="0.35"/>
<rect x="419.62" y="905.8" width="1.1" height="43.5" fill="#2e8b57" opacity="1"/>
<rect x="419.75" y="905.8" width="1.1" height="43.5" fill="#2e8b57" opacity="0.5"/>
<rect x="419.9" y="905.8" width="1.1" height="43.5" fill="#2e8b57" opacity="1"/>
<rect x="420.16" y="905.8" width="1.1" height="43.5" fill="#2e8b57" opacity="0.85"/>
<rect x="420.38" y="905.8" width="1.1" height="43.5" fill="#2e8b57" opacity="0.85"/>
<rect x="421.15" y="905.8" width="1.1" height="43.5" fill="#2e8b57" opacity="1"/>
<rect x="421.32" y="905.8" width="1.1" height="43.5" fill="#2e8b57" opacity="1"/>
<rect x="421.43" y="905.8" width="1.1" height="43.5" fill="#2e8b57" opacity="0.35"/>
<rect x="422.69" y="905.8" width="1.1" height="43.5" fill="#2e8b57" opacity="0.35"/>
<rect x="423.08" y="905.8" width="1.1" height="43.5" fill="#2e8b57" opacity="1"/>
<rect x="423.24" y="905.8" width="1.1" height="43.5" fill="#2e8b57" opacity="0.35"/>
<rect x="423.64" y="905.8" width="1.1" height="43.5" fill="#2e8b57" opacity="0.5"/>
<rect x="423.75" y="905.8" width="1.1" height="43.5" fill="#2e8b57" opacity="0.85"/>
<rect x="424.14" y="905.8" width="1.1" height="43.5" fill="#2e8b57" opacity="0.5"/>
<rect x="425.72" y="905.8" width="1.1" height="43.5" fill="#2e8b57" opacity="1"/>
<rect x="426.58" y="905.8" width="1.1" height="43.5" fill="#2e8b57" opacity="0.85"/>
<rect x="427.14" y="905.8" width="1.1" height="43.5" fill="#2e8b57" opacity="0.35"/>
<rect x="427.36" y="905.8" width="1.1" height="43.5" fill="#2e8b57" opacity="1"/>
<rect x="427.63" y="905.8" width="1.1" height="43.5" fill="#2e8b57" opacity="1"/>
<rect x="427.81" y="905.8" width="1.1" height="43.5" fill="#2e8b57" opacity="0.35"/>
<rect x="428.47" y="905.8" width="1.1" height="43.5" fill="#2e8b57" opacity="0.5"/>
<rect x="428.87" y="905.8" width="1.1" height="43.5" fill="#2e8b57" opacity="0.35"/>
<rect x="429.55" y="905.8" width="1.1" height="43.5" fill="#2e8b57" opacity="1"/>
<rect x="429.8" y="905.8" width="1.1" height="43.5" fill="#2e8b57" opacity="0.35"/>
<rect x="430" y="905.8" width="1.1" height="43.5" fill="#2e8b57" opacity="0.35"/>
<rect x="430.74" y="905.8" width="1.1" height="43.5" fill="#2e8b57" opacity="0.35"/>
<rect x="432.45" y="905.8" width="1.1" height="43.5" fill="#2e8b57" opacity="1"/>
<rect x="433.29" y="905.8" width="1.1" height="43.5" fill="#2e8b57" opacity="0.35"/>
<rect x="434.02" y="905.8" width="1.1" height="43.5" fill="#2e8b57" opacity="1"/>
<rect x="434.78" y="905.8" width="1.1" height="43.5" fill="#2e8b57" opacity="1"/>
<rect x="435.39" y="905.8" width="1.1" height="43.5" fill="#2e8b57" opacity="1"/>
<rect x="435.59" y="905.8" width="1.1" height="43.5" fill="#2e8b57" opacity="1"/>
<rect x="435.97" y="905.8" width="1.1" height="43.5" fill="#2e8b57" opacity="1"/>
<rect x="436.24" y="905.8" width="1.1" height="43.5" fill="#2e8b57" opacity="0.85"/>
<rect x="436.35" y="905.8" width="1.1" height="43.5" fill="#2e8b57" opacity="1"/>
<rect x="436.46" y="905.8" width="1.1" height="43.5" fill="#2e8b57" opacity="0.5"/>
<rect x="436.69" y="905.8" width="1.1" height="43.5" fill="#2e8b57" opacity="0.5"/>
<rect x="436.91" y="905.8" width="1.1" height="43.5" fill="#2e8b57" opacity="0.35"/>
<rect x="437.46" y="905.8" width="1.1" height="43.5" fill="#2e8b57" opacity="1"/>
<rect x="438.77" y="905.8" width="1.1" height="43.5" fill="#2e8b57" opacity="1"/>
<rect x="439.09" y="905.8" width="1.1" height="43.5" fill="#2e8b57" opacity="0.35"/>
<rect x="440.26" y="905.8" width="1.1" height="43.5" fill="#2e8b57" opacity="1"/>
<rect x="442.06" y="905.8" width="1.1" height="43.5" fill="#2e8b57" opacity="0.5"/>
<rect x="443.35" y="905.8" width="1.1" height="43.5" fill="#2e8b57" opacity="0.85"/>
<rect x="443.63" y="905.8" width="1.1" height="43.5" fill="#2e8b57" opacity="1"/>
<rect x="443.82" y="905.8" width="1.1" height="43.5" fill="#2e8b57" opacity="0.5"/>
<rect x="444.02" y="905.8" width="1.1" height="43.5" fill="#2e8b57" opacity="1"/>
<rect x="444.21" y="905.8" width="1.1" height="43.5" fill="#2e8b57" opacity="0.35"/>
<rect x="444.39" y="905.8" width="1.1" height="43.5" fill="#2e8b57" opacity="0.35"/>
<rect x="444.87" y="905.8" width="1.1" height="43.5" fill="#2e8b57" opacity="1"/>
<rect x="445.86" y="905.8" width="1.1" height="43.5" fill="#2e8b57" opacity="0.35"/>
<rect x="446.66" y="905.8" width="1.1" height="43.5" fill="#2e8b57" opacity="1"/>
<rect x="447.01" y="905.8" width="1.1" height="43.5" fill="#2e8b57" opacity="0.5"/>
<rect x="447.52" y="905.8" width="1.1" height="43.5" fill="#2e8b57" opacity="0.85"/>
<rect x="448.24" y="905.8" width="1.1" height="43.5" fill="#2e8b57" opacity="1"/>
<rect x="448.37" y="905.8" width="1.1" height="43.5" fill="#2e8b57" opacity="0.85"/>
<rect x="448.89" y="905.8" width="1.1" height="43.5" fill="#2e8b57" opacity="1"/>
<rect x="449.91" y="905.8" width="1.1" height="43.5" fill="#2e8b57" opacity="1"/>
<rect x="450.6" y="905.8" width="1.1" height="43.5" fill="#2e8b57" opacity="1"/>
<rect x="451.23" y="905.8" width="1.1" height="43.5" fill="#2e8b57" opacity="0.5"/>
<rect x="451.58" y="905.8" width="1.1" height="43.5" fill="#2e8b57" opacity="0.5"/>
<rect x="451.76" y="905.8" width="1.1" height="43.5" fill="#2e8b57" opacity="0.5"/>
<rect x="452.46" y="905.8" width="1.1" height="43.5" fill="#2e8b57" opacity="1"/>
<rect x="452.71" y="905.8" width="1.1" height="43.5" fill="#2e8b57" opacity="0.5"/>
<rect x="453.43" y="905.8" width="1.1" height="43.5" fill="#2e8b57" opacity="0.85"/>
<rect x="454.9" y="905.8" width="1.1" height="43.5" fill="#2e8b57" opacity="1"/>
<rect x="455.2" y="905.8" width="1.1" height="43.5" fill="#2e8b57" opacity="0.35"/>
<rect x="455.5" y="905.8" width="1.1" height="43.5" fill="#2e8b57" opacity="1"/>
<rect x="456.72" y="905.8" width="1.1" height="43.5" fill="#2e8b57" opacity="1"/>
<rect x="457.32" y="905.8" width="1.1" height="43.5" fill="#2e8b57" opacity="0.35"/>
<rect x="457.49" y="905.8" width="1.1" height="43.5" fill="#2e8b57" opacity="1"/>
<rect x="457.64" y="905.8" width="1.1" height="43.5" fill="#2e8b57" opacity="0.85"/>
<rect x="457.81" y="905.8" width="1.1" height="43.5" fill="#2e8b57" opacity="0.85"/>
<rect x="458.81" y="905.8" width="1.1" height="43.5" fill="#2e8b57" opacity="0.85"/>
<rect x="459.54" y="905.8" width="1.1" height="43.5" fill="#2e8b57" opacity="0.35"/>
<rect x="459.7" y="905.8" width="1.1" height="43.5" fill="#2e8b57" opacity="0.35"/>
<rect x="460.48" y="905.8" width="1.1" height="43.5" fill="#2e8b57" opacity="1"/>
<rect x="462.09" y="905.8" width="1.1" height="43.5" fill="#2e8b57" opacity="1"/>
<rect x="462.6" y="905.8" width="1.1" height="43.5" fill="#2e8b57" opacity="0.5"/>
<rect x="462.87" y="905.8" width="1.1" height="43.5" fill="#2e8b57" opacity="1"/>
<rect x="463.27" y="905.8" width="1.1" height="43.5" fill="#2e8b57" opacity="0.5"/>
<rect x="463.43" y="905.8" width="1.1" height="43.5" fill="#2e8b57" opacity="0.85"/>
<rect x="463.53" y="905.8" width="1.1" height="43.5" fill="#2e8b57" opacity="1"/>
<rect x="464.99" y="905.8" width="1.1" height="43.5" fill="#2e8b57" opacity="1"/>
<rect x="465.5" y="905.8" width="1.1" height="43.5" fill="#2e8b57" opacity="0.5"/>
<rect x="465.88" y="905.8" width="1.1" height="43.5" fill="#2e8b57" opacity="0.85"/>
<rect x="467.03" y="905.8" width="1.1" height="43.5" fill="#2e8b57" opacity="0.35"/>
<rect x="467.35" y="905.8" width="1.1" height="43.5" fill="#2e8b57" opacity="0.85"/>
<rect x="468.24" y="905.8" width="1.1" height="43.5" fill="#2e8b57" opacity="0.5"/>
<rect x="469.01" y="905.8" width="1.1" height="43.5" fill="#2e8b57" opacity="0.5"/>
<rect x="469.2" y="905.8" width="1.1" height="43.5" fill="#2e8b57" opacity="0.5"/>
<rect x="469.41" y="905.8" width="1.1" height="43.5" fill="#2e8b57" opacity="1"/>
<rect x="469.64" y="905.8" width="1.1" height="43.5" fill="#2e8b57" opacity="0.35"/>
<rect x="469.85" y="905.8" width="1.1" height="43.5" fill="#2e8b57" opacity="1"/>
<rect x="470.29" y="905.8" width="1.1" height="43.5" fill="#2e8b57" opacity="0.85"/>
<rect x="470.51" y="905.8" width="1.1" height="43.5" fill="#2e8b57" opacity="1"/>
<rect x="470.81" y="905.8" width="1.1" height="43.5" fill="#2e8b57" opacity="0.5"/>
<rect x="470.97" y="905.8" width="1.1" height="43.5" fill="#2e8b57" opacity="1"/>
<rect x="471.99" y="905.8" width="1.1" height="43.5" fill="#2e8b57" opacity="0.85"/>
<rect x="472.26" y="905.8" width="1.1" height="43.5" fill="#2e8b57" opacity="0.5"/>
<rect x="472.6" y="905.8" width="1.1" height="43.5" fill="#2e8b57" opacity="1"/>
<rect x="473.03" y="905.8" width="1.1" height="43.5" fill="#2e8b57" opacity="0.35"/>
<rect x="474.04" y="905.8" width="1.1" height="43.5" fill="#2e8b57" opacity="0.5"/>
<rect x="474.35" y="905.8" width="1.1" height="43.5" fill="#2e8b57" opacity="0.85"/>
<rect x="475.41" y="905.8" width="1.1" height="43.5" fill="#2e8b57" opacity="0.5"/>
<rect x="475.78" y="905.8" width="1.1" height="43.5" fill="#2e8b57" opacity="1"/>
<rect x="476.17" y="905.8" width="1.1" height="43.5" fill="#2e8b57" opacity="1"/>
<rect x="476.55" y="905.8" width="1.1" height="43.5" fill="#2e8b57" opacity="1"/>
<rect x="476.66" y="905.8" width="1.1" height="43.5" fill="#2e8b57" opacity="0.35"/>
<rect x="476.98" y="905.8" width="1.1" height="43.5" fill="#2e8b57" opacity="1"/>
<rect x="477.16" y="905.8" width="1.1" height="43.5" fill="#2e8b57" opacity="1"/>
<rect x="477.26" y="905.8" width="1.1" height="43.5" fill="#2e8b57" opacity="0.35"/>
<rect x="477.98" y="905.8" width="1.1" height="43.5" fill="#2e8b57" opacity="0.85"/>
<rect x="478.15" y="905.8" width="1.1" height="43.5" fill="#2e8b57" opacity="0.85"/>
<rect x="478.5" y="905.8" width="1.1" height="43.5" fill="#2e8b57" opacity="1"/>
<rect x="479.1" y="905.8" width="1.1" height="43.5" fill="#2e8b57" opacity="0.35"/>
<rect x="479.51" y="905.8" width="1.1" height="43.5" fill="#2e8b57" opacity="0.35"/>
<rect x="479.76" y="905.8" width="1.1" height="43.5" fill="#2e8b57" opacity="0.85"/>
<rect x="480.14" y="905.8" width="1.1" height="43.5" fill="#2e8b57" opacity="1"/>
<rect x="480.55" y="905.8" width="1.1" height="43.5" fill="#2e8b57" opacity="0.85"/>
<rect x="481.24" y="905.8" width="1.1" height="43.5" fill="#2e8b57" opacity="1"/>
<rect x="481.39" y="905.8" width="1.1" height="43.5" fill="#2e8b57" opacity="0.5"/>
<rect x="481.8" y="905.8" width="1.1" height="43.5" fill="#2e8b57" opacity="0.5"/>
<rect x="482.01" y="905.8" width="1.1" height="43.5" fill="#2e8b57" opacity="0.5"/>
<rect x="482.24" y="905.8" width="1.1" height="43.5" fill="#2e8b57" opacity="1"/>
<rect x="482.91" y="905.8" width="1.1" height="43.5" fill="#2e8b57" opacity="1"/>
<rect x="483.28" y="905.8" width="1.1" height="43.5" fill="#2e8b57" opacity="1"/>
<rect x="483.7" y="905.8" width="1.1" height="43.5" fill="#2e8b57" opacity="0.5"/>
<rect x="484.34" y="905.8" width="1.1" height="43.5" fill="#2e8b57" opacity="0.5"/>
<rect x="485.38" y="905.8" width="1.1" height="43.5" fill="#2e8b57" opacity="0.5"/>
<rect x="485.71" y="905.8" width="1.1" height="43.5" fill="#2e8b57" opacity="0.85"/>
<rect x="486.17" y="905.8" width="1.1" height="43.5" fill="#2e8b57" opacity="1"/>
<rect x="486.54" y="905.8" width="1.1" height="43.5" fill="#2e8b57" opacity="0.5"/>
<rect x="486.92" y="905.8" width="1.1" height="43.5" fill="#2e8b57" opacity="0.85"/>
<rect x="487.47" y="905.8" width="1.1" height="43.5" fill="#2e8b57" opacity="0.5"/>
<rect x="487.8" y="905.8" width="1.1" height="43.5" fill="#2e8b57" opacity="0.85"/>
<rect x="488.2" y="905.8" width="1.1" height="43.5" fill="#2e8b57" opacity="1"/>
<rect x="488.55" y="905.8" width="1.1" height="43.5" fill="#2e8b57" opacity="0.85"/>
<rect x="489.74" y="905.8" width="1.1" height="43.5" fill="#2e8b57" opacity="1"/>
<rect x="490.3" y="905.8" width="1.1" height="43.5" fill="#2e8b57" opacity="0.85"/>
<rect x="491.21" y="905.8" width="1.1" height="43.5" fill="#2e8b57" opacity="0.85"/>
<rect x="492.4" y="905.8" width="1.1" height="43.5" fill="#2e8b57" opacity="0.5"/>
<rect x="492.62" y="905.8" width="1.1" height="43.5" fill="#2e8b57" opacity="1"/>
<rect x="493.03" y="905.8" width="1.1" height="43.5" fill="#2e8b57" opacity="1"/>
<rect x="494.24" y="905.8" width="1.1" height="43.5" fill="#2e8b57" opacity="1"/>
<rect x="495.04" y="905.8" width="1.1" height="43.5" fill="#2e8b57" opacity="0.85"/>
<rect x="495.2" y="905.8" width="1.1" height="43.5" fill="#2e8b57" opacity="0.85"/>
<rect x="495.35" y="905.8" width="1.1" height="43.5" fill="#2e8b57" opacity="0.85"/>
<rect x="495.67" y="905.8" width="1.1" height="43.5" fill="#2e8b57" opacity="1"/>
<rect x="495.8" y="905.8" width="1.1" height="43.5" fill="#2e8b57" opacity="0.5"/>
<rect x="496.01" y="905.8" width="1.1" height="43.5" fill="#2e8b57" opacity="0.5"/>
<rect x="496.14" y="905.8" width="1.1" height="43.5" fill="#2e8b57" opacity="0.35"/>
<rect x="496.66" y="905.8" width="1.1" height="43.5" fill="#2e8b57" opacity="1"/>
<rect x="497.35" y="905.8" width="1.1" height="43.5" fill="#2e8b57" opacity="0.85"/>
<rect x="498.33" y="905.8" width="1.1" height="43.5" fill="#2e8b57" opacity="0.5"/>
<rect x="498.49" y="905.8" width="1.1" height="43.5" fill="#2e8b57" opacity="0.85"/>
<rect x="499.07" y="905.8" width="1.1" height="43.5" fill="#2e8b57" opacity="1"/>
<rect x="500" y="905.8" width="203.0" height="43.5" fill="#2e8b57"/>
<rect x="510.5" y="905.8" width="0.8" height="43.5" fill="#fff" opacity="0.35"/>
<rect x="527" y="905.8" width="0.8" height="43.5" fill="#fff" opacity="0.35"/>
<rect x="548" y="905.8" width="0.8" height="43.5" fill="#fff" opacity="0.35"/>
<rect x="555" y="905.8" width="0.8" height="43.5" fill="#fff" opacity="0.35"/>
<rect x="573.5" y="905.8" width="0.8" height="43.5" fill="#fff" opacity="0.35"/>
<rect x="592" y="905.8" width="0.8" height="43.5" fill="#fff" opacity="0.35"/>
<rect x="607" y="905.8" width="0.8" height="43.5" fill="#fff" opacity="0.35"/>
<rect x="617" y="905.8" width="0.8" height="43.5" fill="#fff" opacity="0.35"/>
<rect x="628" y="905.8" width="0.8" height="43.5" fill="#fff" opacity="0.35"/>
<rect x="645" y="905.8" width="0.8" height="43.5" fill="#fff" opacity="0.35"/>
<rect x="656" y="905.8" width="0.8" height="43.5" fill="#fff" opacity="0.35"/>
<rect x="660" y="905.8" width="0.8" height="43.5" fill="#fff" opacity="0.35"/>
<rect x="666" y="905.8" width="0.8" height="43.5" fill="#fff" opacity="0.35"/>
</g>
<polyline points="151.5,790 152.5,787 153.6,780 155,720 156.5,665 157.5,656.5 158.3,660 159.3,720 160.5,800 161.4,842 162.5,838 164,830 165.5,845 167.5,854 170,856" fill="none" stroke="#000" stroke-width="3.0" stroke-linejoin="round" stroke-linecap="round" />
<polyline points="170,855.34 172,855.07 174,855.12 176,853.35 178,854.55 180,855.71 182,853.7 184,855 186,856.13 188,855.48 190,853.3 192,854.62 194,856.12 196,854.39 198,854.8 200,853.77 202,853.49 204,854.67 206,854.14 208,855.32 210,856.3 212,855.76 214,856.1 216,854.25 218,856.21 220,856.37 222,855.96 224,856.28 226,856.06 228,855.04 230,855.65 232,856.59 234,856.41 236,856.24 238,856.56 240,856.82 242,856.19 244,856.84 246,856.19 248,856.73 250,857.13 252,856.85 254,856.76 256,856.64 258,857.18 260,856.82 262,856.99 264,856.65 266,856.6 268,857.09 270,856.83 272,856.92 274,857.48 276,856.78 278,856.59 280,857.64 282,857.08 284,857.55 286,856.93 288,857.03 290,857.64 292,857.36 294,857.48 296,857.26 298,857.68 300,857.52 302,857.86 304,857.96 306,857.08 308,858.07 310,857.49 312,857.83 314,857.59 316,857.05 318,856.62 320,857.9 322,857.34 324,857.74 326,858.17 328,858.24 330,857.9 332,855.93 334,856.88 336,858.5 338,858.55 340,858.09 342,858.05 344,858.06 346,858.49 348,857.84 350,857.79 352,858.8 354,857.79 356,858.68 358,858.56 360,858.77 362,858.85 364,857.91 366,858.77 368,857.87 370,858.05 372,858.61 374,858 376,858.84 378,859.14 380,857.63 382,854.7 384,857.46 386,859.01 388,858.27 390,858.54 392,859.35 394,858.47 396,858.58 398,859.25 400,858.33 402,859 404,859.58 406,858.75 408,858.82 410,859.48 412,858.79 414,859.16 416,859.22 418,858.62 420,859.11 422,859.3 424,857.27 426,857.47 428,859.67 430,859.54 432,858.89 434,859.09 436,859.36 438,859.32 440,859.5 442,859.77 444,859.83 446,859.43 448,859.5 450,859.06 452,859.43 454,860.12 456,859.22 458,859.75 460,859 462,858.65 464,859.05 466,859.83 468,859.63 470,860.41 472,859.5 474,860.15 476,860.16 478,860.53 480,860.07 482,860.61 484,859.61 486,860.29 488,860.71 490,859.7 492,859.69 494,860.4 496,860.22 498,860.6 500,860 502,860.34 504,860.69 506,860.24 508,860.03 510,860.02 512,860.15 514,860.21 516,860.79 518,860.67 520,860.63 522,860.47 524,860.99 526,861.16 528,861.36 530,860.74 532,860.37 534,860.36 536,860.39 538,860.83 540,861.42 542,861.06 544,861.32 546,860.9 548,861.39 550,860.87 552,861.49 554,860.66 556,861.43 558,860.85 560,861.29 562,861.21 564,861.09 566,861.62 568,861.33 570,861.55 572,861.12 574,861.6 576,861.36 578,861.36 580,861.49 582,861.93 584,861.07 586,861.25 588,861.13 590,861.81 592,861.54 594,861.54 596,862.31 598,861.25 600,862.12 602,862.08 604,862.39 606,861.67 608,862.21 610,862.08 612,862.36 614,862.56 616,861.53 618,862.48 620,861.64 622,862.4 624,862.13 626,862.53 628,862.58 630,862.75 632,862.66 634,861.88 636,862.34 638,861.78 640,862.92 642,862.2 644,862.69 646,862.07 648,862.2 650,862.98 652,862.53 654,862.95 656,862.75 658,862.68 660,862.56 662,862.31 664,862.64 666,862.96 668,862.79 670,862.89 672,862.46 674,862.81 676,862.45 678,862.44 680,863.13 682,862.66 684,862.94 686,863.65 688,863.66 690,862.73 692,862.71 694,863.14 696,863.68 698,862.92 700,863.32 702,863.3" fill="none" stroke="#000" stroke-width="2.5" stroke-linejoin="round" stroke-linecap="round" />
<polyline points="152.3,805 153.2,797 154.5,760 155.8,700 157,660 158,660 159,700 159.8,770 160.6,822 161.6,826 162.8,818 163.8,816 164.8,822 166,845 167.3,853.5 169,856.5 170,856.54 172,856.27 174,856.32 176,854.55 178,855.75 180,856.91 182,854.9 184,856.2 186,857.33 188,856.68 190,854.5 192,855.82 194,857.32 196,855.59 198,856 200,854.97 202,854.69 204,855.87 206,855.34 208,856.52 210,857.5 212,856.96 214,857.3 216,855.45 218,857.41 220,857.57 222,857.16 224,857.48 226,857.26 228,856.24 230,856.85 232,857.79 234,857.61 236,857.44 238,857.76 240,858.02 242,857.39 244,858.04 246,857.39 248,857.93 250,858.33 252,858.05 254,857.96 256,857.84 258,858.38 260,858.02 262,858.19 264,857.85 266,857.8 268,858.29 270,858.03 272,858.12 274,858.68 276,857.98 278,857.79 280,858.84 282,858.28 284,858.75 286,858.13 288,858.23 290,858.84 292,858.56 294,858.68 296,858.46 298,858.88 300,858.72 302,859.06 304,859.16 306,858.28 308,859.27 310,858.69 312,859.03 314,858.79 316,858.25 318,857.82 320,859.1 322,858.54 324,858.94 326,859.37 328,859.44 330,859.1 332,857.13 334,858.08 336,859.7 338,859.75 340,859.29 342,859.25 344,859.26 346,859.69 348,859.04 350,858.99 352,860 354,858.99 356,859.88 358,859.76 360,859.97 362,860.05 364,859.11 366,859.97 368,859.07 370,859.25 372,859.81 374,859.2 376,860.04 378,860.34 380,858.83 382,855.9 384,858.66 386,860.21 388,859.47 390,859.74 392,860.55 394,859.67 396,859.78 398,860.45 400,859.53 402,860.2 404,860.78 406,859.95 408,860.02 410,860.68 412,859.99 414,860.36 416,860.42 418,859.82 420,860.31 422,860.5 424,858.47 426,858.67 428,860.87 430,860.74 432,860.09 434,860.29 436,860.56 438,860.52 440,860.7 442,860.97 444,861.03 446,860.63 448,860.7 450,860.26 452,860.63 454,861.32 456,860.42 458,860.95 460,860.2 462,859.85 464,860.25 466,861.03 468,860.83 470,861.61 472,860.7 474,861.35 476,861.36 478,861.73 480,861.27 482,861.81 484,860.81 486,861.49 488,861.91 490,860.9 492,860.89 494,861.6 496,861.42 498,861.8 500,861.2 502,861.54 504,861.89 506,861.44 508,861.23 510,861.22 512,861.35 514,861.41 516,861.99 518,861.87 520,861.83 522,861.67 524,862.19 526,862.36 528,862.56 530,861.94 532,861.57 534,861.56 536,861.59 538,862.03 540,862.62 542,862.26 544,862.52 546,862.1 548,862.59 550,862.07 552,862.69 554,861.86 556,862.63 558,862.05 560,862.49 562,862.41 564,862.29 566,862.82 568,862.53 570,862.75 572,862.32 574,862.8 576,862.56 578,862.56 580,862.69 582,863.13 584,862.27 586,862.45 588,862.33 590,863.01 592,862.74 594,862.74 596,863.51 598,862.45 600,863.32 602,863.28 604,863.59 606,862.87 608,863.41 610,863.28 612,863.56 614,863.76 616,862.73 618,863.68 620,862.84 622,863.6 624,863.33 626,863.73 628,863.78 630,863.95 632,863.86 634,863.08 636,863.54 638,862.98 640,864.12 642,863.4 644,863.89 646,863.27 648,863.4 650,864.18 652,863.73 654,864.15 656,863.95 658,863.88 660,863.76 662,863.51 664,863.84 666,864.16 668,863.99 670,864.09 672,863.66 674,864.01 676,863.65 678,863.64 680,864.33 682,863.86 684,864.14 686,864.85 688,864.86 690,863.93 692,863.91 694,864.34 696,864.88 698,864.12 700,864.52 702,864.5" fill="none" stroke="#ff0000" stroke-width="3.8" stroke-linejoin="round" stroke-linecap="round" />
<polyline points="141,880.4 150,880.4 152,878.5 154,880.4 156.8,880.4 157.6,840 158.3,822.8 159.2,840 160,880.4 161,880.67 162,880.66 163,880.68 164,880.19 165,880.18 166,880.17 167,880.15 168,880.16 169,880.34 170,880.09 171,880.14 172,880.18 173,880.78 174,879.54 175,878.46 176,879.6 177,880.12 178,880.43 179,880.55 180,880 181,880.36 182,879.94 183,879.9 184,880.78 185,880.13 186,880.35 187,880.27 188,880.77 189,879.8 190,876.27 191,875.02 192,879.62 193,880.06 194,879.98 195,880.41 196,880.08 197,880.5 198,880.67 199,880.56 200,879.91 201,880.54 202,880.61 203,880.25 204,879.94 205,880.11 206,876.81 207,870.5 208,875.27 209,880.35 210,880.81 211,880.71 212,880.72 213,880.31 214,880.27 215,880.52 216,879.98 217,879.93 218,880.09 219,877.59 220,876.9 221,880.13 222,880.55 223,880.05 224,880.43 225,880.55 226,880.3 227,880.17 228,880.88 229,879.83 230,873.69 231,871.68 232,875.81 233,871.25 234,876.82 235,879.74 236,880.67 237,880.7 238,880.47 239,878.82 240,876.3 241,879.37 242,880.26 243,880.05 244,879.78 245,876.83 246,874.71 247,878.84 248,880.63 249,880.03 250,879.95 251,879.89 252,878.6 253,876.45 254,879.53 255,880.8 256,880.64 257,880.07 258,880.25 259,880.06 260,880.04 261,879.42 262,878.78 263,880.1 264,880.66 265,880.7 266,880.18 267,880.3 268,878.74 269,880.37 270,880.19 271,880.51 272,880.54 273,879.99 274,880.61 275,880.59 276,880.77 277,880.17 278,879.76 279,880.15 280,880.5 281,880.1 282,880.37 283,880.47 284,879.94 285,880.84 286,880.06 287,880.26 288,880.05 289,880.87 290,880.72 291,880.09 292,880.78 293,880.74 294,880.57 295,880.57 296,880.22 297,880.29 298,880.34 299,880.38 300,879.68 301,880.18 302,880.19 303,880.15 304,880.29 305,880.27 306,880.4 307,880.08 308,879.9 309,880.89 310,880.37 311,880.35 312,880.52 313,880.72 314,880.74 315,880.71 316,880.3 317,879.97 318,880.26 319,880.27 320,880.4 324,880.4 328,880.4 332,880.4 336,880.4 340,880.4 344,880.4 348,880.4 352,880.4 356,880.4 360,880.4 364,880.4 368,880.4 372,880.4 376,880.4 380,880.4 384,880.4 388,880.4 392,880.4 396,880.4 400,880.4 404,880.4 408,880.4 412,880.4 416,880.4 420,880.4 424,880.4 428,880.4 432,880.4 436,880.4 440,880.4 444,880.4 448,880.4 452,880.4 456,880.4 460,880.4 464,880.4 468,880.4 472,880.4 476,880.4 480,880.4 484,880.4 488,880.4 492,880.4 496,880.4 500,880.4 504,880.4 508,880.4 512,880.4 516,880.4 520,880.4 524,880.4 528,880.4 532,880.4 536,880.4 540,880.4 544,880.4 548,880.4 552,880.4 556,880.4 560,880.4 564,880.4 568,880.4 572,880.4 576,880.4 580,880.4 584,880.4 588,880.4 592,880.4 596,880.4 600,880.4 604,880.4 608,880.4 612,880.4 616,880.4 620,880.4 624,880.4 628,880.4 632,880.4 636,880.4 640,880.4 644,880.4 648,880.4 652,880.4 656,880.4 660,880.4 664,880.4 668,880.4 672,880.4 676,880.4 680,880.4 684,880.4 688,880.4 692,880.4 696,880.4 700,880.4 702,880.4" fill="none" stroke="#0f8282" stroke-width="3.0" stroke-linejoin="round" stroke-linecap="round" />
<polyline points="141,980.5 150,980.5 152,979 153.2,965 153.8,995 154.5,960 155.2,1000 155.9,950 156.6,1001 157.3,949 158,1000 158.7,955 159.4,995 160.2,970 161,985 162,975 163,983 164,978 165,981 167,979.5 170,980.5 172,977.5 174,980.5 176,980.7 178,979.58 180,978.13 182,979.21 184,980.16 186,980.84 188,980.35 190,980.68 192,980.16 194,980.7 196,980.82 198,980.62 200,980.73 202,979.93 204,977.87 206,976.83 208,979.82 210,980.16 212,980.21 214,980.81 216,980.33 218,980.75 220,980.74 222,980.65 224,980.68 226,980.28 228,980.77 230,980.59 232,980.3 234,980.36 236,980.59 238,980.82 240,980.47 242,980.3 244,980.87 246,980.48 248,980.57 250,980.59 252,980.29 254,980.4 256,980.26 258,980.42 260,980.61 262,980.32 264,980.36 266,980.4 268,980.73 270,980.31 272,980.71 274,980.14 276,980.79 278,980.87 280,980.46 282,980.52 284,980.65 286,980.82 288,980.3 290,980.53 292,980.79 294,980.69 296,980.4 298,980.4 300,980.4 302,980.22 304,980.36 306,980.17 308,980.28 310,980.59 312,980.87 314,980.34 316,980.51 318,980.35 320,980.87 322,980.8 324,980.84 326,980.82 328,980.69 330,980.7 332,980.28 334,980.33 336,980.6 338,980.43 340,980.39 342,980.14 344,980.49 346,980.59 348,980.14 350,980.14 352,980.55 354,980.34 356,980.52 358,980.53 360,980.43 362,980.34 364,980.21 366,980.39 368,980.76 370,980.23 372,980.11 374,980.74 376,980.67 378,980.46 380,980.15 382,980.22 384,980.63 386,980.32 388,980.75 390,980.87 392,980.14 394,980.76 396,980.81 398,980.58 400,980.56 402,980.58 404,980.51 406,980.49 408,980.23 410,980.1 412,980.15 414,980.12 416,980.25 418,980.23 420,980.83 422,980.18 424,980.59 426,980.63 428,980.26 430,980.43 432,980.51 434,980.61 436,980.62 438,980.43 440,980.59 442,980.51 444,980.15 446,980.6 448,980.9 450,980.68 452,980.48 454,980.53 456,980.4 458,980.45 460,980.83 462,980.16 464,980.62 466,980.24 468,980.9 470,980.31 472,980.62 474,980.2 476,980.81 478,980.84 480,980.85 482,980.31 484,980.14 486,980.61 488,980.64 490,980.65 492,980.83 494,980.88 496,980.34 498,980.84 500,980.82 502,980.17 504,980.51 506,980.24 508,980.82 510,980.77 512,980.26 514,980.23 516,980.83 518,980.25 520,980.41 522,980.58 524,980.4 526,980.78 528,980.84 530,980.89 532,980.77 534,980.53 536,980.48 538,980.52 540,980.11 542,980.12 544,980.86 546,980.29 548,980.81 550,980.73 552,980.41 554,980.57 556,980.55 558,980.24 560,980.13 562,980.19 564,980.6 566,980.23 568,980.88 570,980.66 572,980.12 574,980.21 576,980.61 578,980.13 580,980.15 582,980.14 584,980.79 586,980.71 588,980.26 590,980.86 592,980.53 594,980.63 596,980.8 598,980.7 600,980.67 602,980.41 604,980.3 606,980.26 608,980.13 610,980.86 612,980.83 614,980.7 616,980.17 618,980.7 620,980.61 622,980.48 624,980.21 626,980.73 628,980.62 630,980.34 632,980.37 634,980.31 636,980.38 638,980.84 640,980.14 642,980.71 644,980.83 646,980.72 648,980.58 650,980.48 652,980.33 654,980.7 656,980.73 658,980.12 660,980.51 662,980.18 664,980.48 666,980.14 668,980.55 670,980.67 672,980.76 674,980.56 676,980.33 678,980.45 680,980.52 682,980.33 684,980.7 686,980.14 688,980.38 690,980.18 692,980.66 694,980.76 696,980.87 698,980.57 700,980.87 702,980.5" fill="none" stroke="#ff8000" stroke-width="3.2" stroke-linejoin="round" stroke-linecap="round" />
<line x1="147.25" y1="1016.6" x2="147.25" y2="1013.1" stroke="#000" stroke-width="2.6" />
<line x1="184.3" y1="1016.6" x2="184.3" y2="1009.6" stroke="#000" stroke-width="2.6" />
<line x1="221.35" y1="1016.6" x2="221.35" y2="1013.1" stroke="#000" stroke-width="2.6" />
<line x1="258.4" y1="1016.6" x2="258.4" y2="1009.6" stroke="#000" stroke-width="2.6" />
<line x1="295.45" y1="1016.6" x2="295.45" y2="1013.1" stroke="#000" stroke-width="2.6" />
<line x1="332.5" y1="1016.6" x2="332.5" y2="1009.6" stroke="#000" stroke-width="2.6" />
<line x1="369.55" y1="1016.6" x2="369.55" y2="1013.1" stroke="#000" stroke-width="2.6" />
<line x1="406.6" y1="1016.6" x2="406.6" y2="1009.6" stroke="#000" stroke-width="2.6" />
<line x1="443.65" y1="1016.6" x2="443.65" y2="1013.1" stroke="#000" stroke-width="2.6" />
<line x1="480.7" y1="1016.6" x2="480.7" y2="1009.6" stroke="#000" stroke-width="2.6" />
<line x1="517.75" y1="1016.6" x2="517.75" y2="1013.1" stroke="#000" stroke-width="2.6" />
<line x1="554.8" y1="1016.6" x2="554.8" y2="1009.6" stroke="#000" stroke-width="2.6" />
<line x1="591.85" y1="1016.6" x2="591.85" y2="1013.1" stroke="#000" stroke-width="2.6" />
<line x1="628.9" y1="1016.6" x2="628.9" y2="1009.6" stroke="#000" stroke-width="2.6" />
<line x1="665.95" y1="1016.6" x2="665.95" y2="1013.1" stroke="#000" stroke-width="2.6" />
<line x1="703" y1="1016.6" x2="703" y2="1009.6" stroke="#000" stroke-width="2.6" />
<rect x="139.5" y="598.3" width="563.5" height="418.30000000000007" fill="none" stroke="#000" stroke-width="3.3"/>
<text x="184.3" y="1050.3" font-size="31" font-weight="bold" text-anchor="middle" fill="#000" >5</text>
<text x="258.4" y="1050.3" font-size="31" font-weight="bold" text-anchor="middle" fill="#000" >10</text>
<text x="332.5" y="1050.3" font-size="31" font-weight="bold" text-anchor="middle" fill="#000" >15</text>
<text x="406.6" y="1050.3" font-size="31" font-weight="bold" text-anchor="middle" fill="#000" >20</text>
<text x="480.7" y="1050.3" font-size="31" font-weight="bold" text-anchor="middle" fill="#000" >25</text>
<text x="554.8" y="1050.3" font-size="31" font-weight="bold" text-anchor="middle" fill="#000" >30</text>
<text x="628.9" y="1050.3" font-size="31" font-weight="bold" text-anchor="middle" fill="#000" >35</text>
<text x="703" y="1050.3" font-size="31" font-weight="bold" text-anchor="middle" fill="#000" >40</text>
<text x="288" y="1096" font-size="34.4" font-weight="bold" text-anchor="start" fill="#000" >2 Theta (degree)</text>
<text transform="translate(121.2,797.9) rotate(-90)" x="0" y="0" font-size="36" font-weight="bold" text-anchor="middle">Intensity (arb. units)</text>
<line x1="385.3" y1="658.7" x2="429.9" y2="658.7" stroke="#000" stroke-width="3.4" />
<line x1="385.3" y1="699.2" x2="429.9" y2="699.2" stroke="#ff0000" stroke-width="3.4" />
<line x1="385.3" y1="740.5" x2="429.9" y2="740.5" stroke="#ff8000" stroke-width="3.4" />
<line x1="385.3" y1="781.1" x2="429.9" y2="781.1" stroke="#0f8282" stroke-width="3.4" />
<rect x="397.2" y="806" width="4" height="20" fill="#008c1e"/>
<text x="442.5" y="666.7" font-size="31.6" font-weight="bold" text-anchor="start" fill="#000" >Simulated</text>
<text x="438.5" y="707.5" font-size="31.6" font-weight="bold" text-anchor="start" fill="#000" >Experimental</text>
<text x="438.5" y="748.5" font-size="31.6" font-weight="bold" text-anchor="start" fill="#000" >Difference</text>
<text x="438.5" y="789.3" font-size="31.6" font-weight="bold" text-anchor="start" fill="#000" >Predicted</text>
<text x="436.5" y="825.9" font-size="31.6" font-weight="bold" text-anchor="start" fill="#000" >Bragg Positions</text>
<defs>
<radialGradient id="gC" cx="0.38" cy="0.35" r="0.65"><stop offset="0" stop-color="#ababab"/><stop offset="0.5" stop-color="#828282"/><stop offset="1" stop-color="#474747"/></radialGradient>
<radialGradient id="gH" cx="0.38" cy="0.35" r="0.65"><stop offset="0" stop-color="#ffffff"/><stop offset="0.6" stop-color="#ececec"/><stop offset="1" stop-color="#a8a8a8"/></radialGradient>
<radialGradient id="gO" cx="0.38" cy="0.35" r="0.65"><stop offset="0" stop-color="#ff5a5a"/><stop offset="0.6" stop-color="#e80000"/><stop offset="1" stop-color="#8a0000"/></radialGradient>
<radialGradient id="gD" cx="0.38" cy="0.35" r="0.65"><stop offset="0" stop-color="#6a6a9a"/><stop offset="1" stop-color="#2a2a4a"/></radialGradient>
<radialGradient id="gN" cx="0.38" cy="0.35" r="0.65"><stop offset="0" stop-color="#5a5aff"/><stop offset="0.6" stop-color="#1010e0"/><stop offset="1" stop-color="#00008a"/></radialGradient>
<clipPath id="clipC"><rect x="814" y="26" width="352" height="512"/></clipPath>
<clipPath id="clipS"><rect x="1196" y="82" width="154" height="370"/></clipPath>
</defs>
<g opacity="0.85"><line x1="821.0" y1="35.5" x2="821.0" y2="530.5" stroke="#2424d8" stroke-width="3" stroke-dasharray="1.6 1.1"/><line x1="989.5" y1="35.5" x2="989.5" y2="530.5" stroke="#2424d8" stroke-width="3" stroke-dasharray="1.6 1.1"/><line x1="1158.0" y1="35.5" x2="1158.0" y2="530.5" stroke="#2424d8" stroke-width="3" stroke-dasharray="1.6 1.1"/><line x1="821.0" y1="35.5" x2="1158.0" y2="35.5" stroke="#2424d8" stroke-width="3" stroke-dasharray="1.6 1.1"/><line x1="821.0" y1="283.0" x2="1158.0" y2="283.0" stroke="#2424d8" stroke-width="3" stroke-dasharray="1.6 1.1"/><line x1="821.0" y1="530.5" x2="1158.0" y2="530.5" stroke="#2424d8" stroke-width="3" stroke-dasharray="1.6 1.1"/></g>
<defs><g id="cellC"><g fill="#606060" opacity="0.55"><circle cx="28.9" cy="32.5" r="6"/><circle cx="-71.6" cy="-106.5" r="6"/><circle cx="-5.9" cy="20.7" r="6"/><circle cx="-21.8" cy="46.4" r="6"/><circle cx="29.3" cy="41.9" r="6"/><circle cx="-24.2" cy="-73.6" r="6"/><circle cx="22.5" cy="-21.8" r="6"/><circle cx="22.5" cy="-21.8" r="6"/><circle cx="64.4" cy="80.2" r="6"/><circle cx="-28.6" cy="-65.7" r="6"/><circle cx="-40.9" cy="-79.9" r="6"/><circle cx="26.8" cy="-35.1" r="6"/><circle cx="-23" cy="-22.8" r="6"/><circle cx="40.7" cy="47" r="6"/><circle cx="-17" cy="-17" r="6"/><circle cx="24.2" cy="-30.4" r="6"/><circle cx="20.1" cy="-20.7" r="6"/><circle cx="18.5" cy="-24.8" r="6"/><circle cx="32.7" cy="-43.6" r="6"/><circle cx="-27" cy="-28.2" r="6"/><circle cx="-35.8" cy="-69" r="6"/><circle cx="-29.4" cy="-69" r="6"/><circle cx="62.1" cy="77.4" r="6"/><circle cx="53.9" cy="-44" r="6"/><circle cx="33.9" cy="45.9" r="6"/><circle cx="45.8" cy="-51" r="6"/><circle cx="-35.3" cy="53.8" r="6"/><circle cx="48.1" cy="-72.7" r="6"/><circle cx="-73.6" cy="111.8" r="6"/><circle cx="84.2" cy="-114.2" r="6"/><circle cx="86" cy="-106" r="6"/><circle cx="26" cy="26.7" r="6"/><circle cx="16.6" cy="16.6" r="6"/><circle cx="-38.5" cy="-66.2" r="6"/><circle cx="-17.1" cy="-104.8" r="6"/><circle cx="-21.1" cy="-97.5" r="6"/><circle cx="-16.7" cy="102.2" r="6"/><circle cx="36.8" cy="32.9" r="6"/><circle cx="29.9" cy="36.2" r="6"/><circle cx="-21" cy="24.2" r="6"/><circle cx="21" cy="-29.5" r="6"/><circle cx="-16.8" cy="-14.6" r="6"/><circle cx="77.9" cy="103.4" r="6"/><circle cx="-32.4" cy="-67" r="6"/><circle cx="-34" cy="-47.5" r="6"/><circle cx="76.6" cy="-119.6" r="6"/><circle cx="-40.9" cy="-60.1" r="6"/><circle cx="-23.9" cy="35.6" r="6"/><circle cx="-42.7" cy="-82.6" r="6"/><circle cx="-46.6" cy="43.6" r="6"/><circle cx="-25.9" cy="-53.2" r="6"/><circle cx="-19.6" cy="23.1" r="6"/><circle cx="-5.9" cy="-20.7" r="6"/><circle cx="23" cy="-28" r="6"/><circle cx="-35.2" cy="-65" r="6"/><circle cx="23" cy="23.8" r="6"/><circle cx="7.1" cy="11.8" r="6"/><circle cx="50.8" cy="40.3" r="6"/><circle cx="86.5" cy="-109.9" r="6"/><circle cx="13.6" cy="-16.8" r="6"/><circle cx="-12.4" cy="-12.4" r="6"/><circle cx="17.4" cy="-16.2" r="6"/><circle cx="87.5" cy="102.8" r="6"/><circle cx="44.1" cy="-65.1" r="6"/><circle cx="-28.3" cy="-56.9" r="6"/><circle cx="26" cy="-39" r="6"/><circle cx="71.1" cy="116.9" r="6"/><circle cx="44.5" cy="-52.8" r="6"/><circle cx="-49.1" cy="-32.9" r="6"/><circle cx="-60.1" cy="116.3" r="6"/><circle cx="40.2" cy="52.1" r="6"/><circle cx="-27.4" cy="63.9" r="6"/><circle cx="23.5" cy="-34.2" r="6"/><circle cx="-24" cy="34.6" r="6"/><circle cx="-23" cy="-24" r="6"/><circle cx="-21" cy="18" r="6"/><circle cx="53.1" cy="-95.7" r="6"/><circle cx="-16.1" cy="23.4" r="6"/><circle cx="15.6" cy="-15.2" r="6"/><circle cx="22" cy="28.5" r="6"/><circle cx="50.9" cy="54.9" r="6"/><circle cx="37.4" cy="54.3" r="6"/><circle cx="-38.6" cy="-66.9" r="6"/><circle cx="25.5" cy="32.6" r="6"/><circle cx="48.6" cy="23.4" r="6"/><circle cx="45.2" cy="27.9" r="6"/><circle cx="30" cy="-36" r="6"/><circle cx="-20.6" cy="25.4" r="6"/><circle cx="34.1" cy="-98.8" r="6"/><circle cx="73.9" cy="110.7" r="6"/><circle cx="26.8" cy="-35.1" r="6"/><circle cx="25.5" cy="-42.9" r="6"/><circle cx="-28.9" cy="-69.1" r="6"/><circle cx="31.9" cy="37.8" r="6"/><circle cx="-20" cy="-21.1" r="6"/><circle cx="-35.3" cy="72.9" r="6"/><circle cx="-68" cy="109" r="6"/><circle cx="-72.5" cy="-111.5" r="6"/><circle cx="45.8" cy="108.4" r="6"/><circle cx="48.6" cy="52.6" r="6"/><circle cx="-52.2" cy="33.5" r="6"/><circle cx="-48.8" cy="101.6" r="6"/><circle cx="-43.2" cy="-92.5" r="6"/><circle cx="62.5" cy="-106" r="6"/><circle cx="47.7" cy="-69.1" r="6"/><circle cx="-27.4" cy="44.6" r="6"/><circle cx="-61.2" cy="-113.3" r="6"/><circle cx="-30.8" cy="-60.5" r="6"/><circle cx="16" cy="18" r="6"/><circle cx="35.5" cy="-67.3" r="6"/><circle cx="-22.9" cy="31.2" r="6"/><circle cx="-61.6" cy="-121.9" r="6"/><circle cx="26.5" cy="-28.8" r="6"/><circle cx="21.8" cy="-25.6" r="6"/><circle cx="39.6" cy="57.2" r="6"/><circle cx="-49.9" cy="105.6" r="6"/><circle cx="-23" cy="22.8" r="6"/><circle cx="-21.2" cy="38.3" r="6"/><circle cx="87.8" cy="-110.1" r="6"/><circle cx="-18.5" cy="0" r="6"/><circle cx="-24" cy="31.4" r="6"/><circle cx="27.5" cy="34.1" r="6"/><circle cx="-18.6" cy="-18.4" r="6"/><circle cx="-53.3" cy="102.8" r="6"/><circle cx="43.6" cy="56.6" r="6"/><circle cx="49.9" cy="-86.7" r="6"/><circle cx="25" cy="33.8" r="6"/><circle cx="29" cy="36.8" r="6"/><circle cx="17.9" cy="17.6" r="6"/><circle cx="-25.7" cy="68.4" r="6"/><circle cx="26.6" cy="-29" r="6"/><circle cx="72.2" cy="121.4" r="6"/><circle cx="-34.1" cy="76.3" r="6"/><circle cx="-55.6" cy="36.9" r="6"/><circle cx="-70.2" cy="108.4" r="6"/><circle cx="20.5" cy="25.9" r="6"/><circle cx="25.4" cy="-26.6" r="6"/><circle cx="-22" cy="26.6" r="6"/><circle cx="50.4" cy="-51.5" r="6"/><circle cx="11.8" cy="7.1" r="6"/><circle cx="-59.9" cy="-107.4" r="6"/><circle cx="32.8" cy="-51.8" r="6"/><circle cx="-54.5" cy="96.6" r="6"/><circle cx="40.9" cy="-51.9" r="6"/><circle cx="-30.2" cy="62.2" r="6"/><circle cx="-43.8" cy="95.4" r="6"/><circle cx="7.1" cy="-11.8" r="6"/><circle cx="-19" cy="-19.8" r="6"/><circle cx="24.2" cy="-30.4" r="6"/><circle cx="-19" cy="-19.8" r="6"/><circle cx="11.1" cy="-13.5" r="6"/><circle cx="36.4" cy="-55.1" r="6"/><circle cx="-17.7" cy="23.8" r="6"/><circle cx="-25.9" cy="34.1" r="6"/><circle cx="-20" cy="21.9" r="6"/><circle cx="-29.9" cy="-50.4" r="6"/><circle cx="53.5" cy="-80.8" r="6"/><circle cx="14.7" cy="-15.3" r="6"/><circle cx="-72.5" cy="105.6" r="6"/><circle cx="-48.6" cy="-98.8" r="6"/><circle cx="85.8" cy="105.6" r="6"/><circle cx="-32.4" cy="66.1" r="6"/><circle cx="-20" cy="-19.9" r="6"/><circle cx="24.7" cy="-26.1" r="6"/><circle cx="-18.9" cy="103.9" r="6"/><circle cx="48.6" cy="111.3" r="6"/><circle cx="41.8" cy="-69.6" r="6"/><circle cx="-31.9" cy="83.1" r="6"/><circle cx="-38.1" cy="-62.9" r="6"/><circle cx="30.1" cy="-85.3" r="6"/><circle cx="85.1" cy="-110.1" r="6"/><circle cx="-42.1" cy="40.8" r="6"/><circle cx="91.4" cy="-106" r="6"/><circle cx="28.8" cy="-36.2" r="6"/><circle cx="68.9" cy="86.4" r="6"/><circle cx="-27" cy="32.2" r="6"/><circle cx="50.8" cy="35.7" r="6"/><circle cx="24.5" cy="28.9" r="6"/><circle cx="26" cy="31.5" r="6"/><circle cx="-19.6" cy="-18.5" r="6"/><circle cx="-29.2" cy="-43.5" r="6"/><circle cx="30.5" cy="39.4" r="6"/><circle cx="-39.8" cy="79.1" r="6"/><circle cx="27.4" cy="29.9" r="6"/><circle cx="-54.4" cy="109" r="6"/><circle cx="-21" cy="30.5" r="6"/><circle cx="-20.7" cy="24.7" r="6"/><circle cx="-27" cy="32.2" r="6"/><circle cx="-65.3" cy="-117.8" r="6"/><circle cx="-68" cy="111.3" r="6"/><circle cx="-33.7" cy="-43.1" r="6"/><circle cx="-34.4" cy="-61.7" r="6"/><circle cx="38.2" cy="-66" r="6"/><circle cx="24.1" cy="-30.2" r="6"/><circle cx="47.2" cy="-50.3" r="6"/><circle cx="22.4" cy="-23.4" r="6"/><circle cx="76.8" cy="100.5" r="6"/><circle cx="25.5" cy="-32.8" r="6"/><circle cx="-31.9" cy="-85.3" r="6"/><circle cx="-19.5" cy="98.9" r="6"/><circle cx="81.8" cy="107.3" r="6"/><circle cx="19.5" cy="22.1" r="6"/><circle cx="-22" cy="-22.6" r="6"/><circle cx="19" cy="23.2" r="6"/><circle cx="72.9" cy="-124.6" r="6"/><circle cx="-23" cy="35.2" r="6"/><circle cx="-33.2" cy="37.5" r="6"/><circle cx="-75.9" cy="109" r="6"/><circle cx="-38.9" cy="-69.4" r="6"/><circle cx="-24" cy="51.5" r="6"/><circle cx="23.4" cy="22.5" r="6"/><circle cx="-18.6" cy="20.7" r="6"/><circle cx="57.1" cy="-87.1" r="6"/><circle cx="39.6" cy="61.7" r="6"/><circle cx="48.1" cy="-53.7" r="6"/><circle cx="-49.9" cy="-108.8" r="6"/><circle cx="-22.9" cy="27" r="6"/><circle cx="32.8" cy="40.3" r="6"/><circle cx="28.9" cy="-49.3" r="6"/><circle cx="75.6" cy="97.7" r="6"/><circle cx="-70.7" cy="-101.5" r="6"/><circle cx="49.8" cy="63.9" r="6"/><circle cx="-42.7" cy="-97.9" r="5.9"/><circle cx="-64.4" cy="-113.3" r="6"/><circle cx="0" cy="18.5" r="6"/><circle cx="-26.5" cy="-70.9" r="6"/><circle cx="-22" cy="-23.9" r="6"/><circle cx="-23" cy="-25.2" r="6"/><circle cx="-21" cy="-121.4" r="6"/><circle cx="38.9" cy="-48.9" r="6"/><circle cx="-25" cy="27.5" r="6"/><circle cx="52" cy="60.5" r="6"/><circle cx="22.6" cy="-23.6" r="6"/><circle cx="-47.1" cy="-23.6" r="6"/><circle cx="30.6" cy="44.8" r="6"/><circle cx="47.7" cy="-77.2" r="6"/><circle cx="-21.7" cy="27.1" r="6"/><circle cx="76.8" cy="121.4" r="6"/><circle cx="33.6" cy="46.8" r="6"/><circle cx="35.1" cy="51.5" r="6"/><circle cx="-40" cy="-84.4" r="6"/><circle cx="48.6" cy="-92.5" r="6"/><circle cx="-49.9" cy="-25.6" r="6"/><circle cx="29.8" cy="40.8" r="6"/><circle cx="-19.5" cy="-17.1" r="6"/><circle cx="-75.9" cy="102.8" r="6"/><circle cx="66.6" cy="83.1" r="6"/><circle cx="-37.6" cy="77.4" r="6"/><circle cx="80.6" cy="-115.1" r="6"/><circle cx="25" cy="-26.5" r="6"/><circle cx="28.9" cy="30.1" r="6"/><circle cx="21" cy="24.8" r="6"/><circle cx="-43.8" cy="-57.3" r="6"/><circle cx="-26.9" cy="50.4" r="6"/><circle cx="45" cy="-78.1" r="6"/><circle cx="-21" cy="30.5" r="6"/><circle cx="-34.1" cy="57.1" r="6"/><circle cx="-26" cy="-26.9" r="6"/><circle cx="-55.6" cy="104.5" r="6"/><circle cx="-26" cy="36.1" r="6"/><circle cx="89.2" cy="100" r="6"/><circle cx="-40.9" cy="-93.4" r="6"/><circle cx="40.9" cy="-64.6" r="6"/><circle cx="-20.9" cy="28.5" r="6"/><circle cx="-58" cy="-125.9" r="6"/><circle cx="-18.6" cy="26.9" r="6"/><circle cx="53.7" cy="74.6" r="6"/><circle cx="-31.9" cy="71.8" r="6"/><circle cx="-68.9" cy="-114.7" r="6"/><circle cx="28.4" cy="33.6" r="6"/><circle cx="-23.1" cy="34.2" r="6"/><circle cx="-41.8" cy="-87.1" r="6"/><circle cx="-35.4" cy="-71.1" r="6"/><circle cx="36.8" cy="-51.9" r="6"/><circle cx="-23" cy="22.8" r="6"/><circle cx="54.9" cy="-89.4" r="6"/><circle cx="55.4" cy="71.8" r="6"/><circle cx="-31.6" cy="-63.8" r="6"/><circle cx="-16.2" cy="-14.2" r="6"/><circle cx="37.4" cy="69.5" r="6"/><circle cx="46.3" cy="31.8" r="6"/><circle cx="-22" cy="26.6" r="6"/><circle cx="-25" cy="27.5" r="6"/><circle cx="55.3" cy="-38.8" r="6"/><circle cx="16.6" cy="-20" r="6"/><circle cx="52.6" cy="-49.2" r="6"/><circle cx="30.1" cy="-115.1" r="6"/><circle cx="-22" cy="-22.6" r="6"/><circle cx="-23" cy="-25.2" r="6"/><circle cx="-29.7" cy="49.3" r="6"/><circle cx="41.8" cy="-51.4" r="6"/><circle cx="20" cy="21" r="6"/><circle cx="-77.7" cy="-109.4" r="6"/><circle cx="39.1" cy="-70.9" r="6"/><circle cx="-35.5" cy="-87.1" r="6"/><circle cx="23.5" cy="-34.2" r="6"/><circle cx="33.7" cy="-71.8" r="6"/><circle cx="26.5" cy="-111.5" r="6"/><circle cx="20.7" cy="-5.9" r="6"/><circle cx="-42.1" cy="72.3" r="6"/><circle cx="47.5" cy="56" r="6"/><circle cx="-46.3" cy="-99.7" r="6"/><circle cx="-40" cy="-75.4" r="6"/><circle cx="-18.4" cy="19.7" r="6"/><circle cx="-19.9" cy="-18.5" r="6"/><circle cx="-17" cy="21" r="6"/><circle cx="-40.9" cy="-83.5" r="6"/><circle cx="20.5" cy="-23.2" r="6"/><circle cx="-47" cy="-45.1" r="6"/><circle cx="77.9" cy="106.2" r="6"/><circle cx="-26" cy="36.1" r="6"/><circle cx="37.3" cy="-51.6" r="6"/><circle cx="22.4" cy="-21.6" r="6"/><circle cx="42.7" cy="-74.5" r="6"/><circle cx="-36.4" cy="80.8" r="6"/><circle cx="-37.3" cy="-81.7" r="6"/><circle cx="21.4" cy="21" r="6"/><circle cx="-36.9" cy="63.9" r="6"/><circle cx="-47.7" cy="47.5" r="6"/><circle cx="70" cy="112.4" r="6"/><circle cx="36.4" cy="-61.5" r="6"/><circle cx="-27.6" cy="-28" r="6"/><circle cx="-33" cy="60.5" r="6"/><circle cx="-29.2" cy="-71.8" r="6"/><circle cx="-53.1" cy="-107.4" r="6"/><circle cx="31.7" cy="33.5" r="6"/><circle cx="50.3" cy="72.4" r="6"/><circle cx="-47.7" cy="97.7" r="6"/><circle cx="-75.9" cy="-112.6" r="6"/><circle cx="31.9" cy="-58.3" r="6"/><circle cx="21" cy="-29.5" r="6"/><circle cx="-59" cy="-117.8" r="6"/><circle cx="27.4" cy="-31.1" r="6"/><circle cx="-18.4" cy="109" r="6"/><circle cx="24.9" cy="22.7" r="6"/><circle cx="38.4" cy="-49.1" r="6"/><circle cx="27" cy="35.2" r="6"/><circle cx="22.5" cy="25" r="6"/><circle cx="-26" cy="-28.1" r="6"/><circle cx="32" cy="42" r="6"/><circle cx="-34.6" cy="-83.5" r="6"/><circle cx="-76.1" cy="-105.1" r="6"/><circle cx="36.4" cy="44.5" r="6"/><circle cx="47.5" cy="67.3" r="6"/><circle cx="74.2" cy="-117.8" r="6"/><circle cx="-32.5" cy="51.5" r="6"/><circle cx="47.2" cy="-81.7" r="6"/><circle cx="19.8" cy="16.5" r="6"/><circle cx="49.8" cy="58.2" r="6"/><circle cx="-15" cy="20" r="6"/><circle cx="-62.1" cy="-117.8" r="6"/><circle cx="20.4" cy="-23.1" r="6"/><circle cx="52" cy="69.6" r="6"/><circle cx="-63.2" cy="-125.2" r="6"/><circle cx="87" cy="-113.8" r="6"/><circle cx="-18.4" cy="83.1" r="6"/><circle cx="18.5" cy="0" r="6"/><circle cx="21.8" cy="-25.6" r="6"/><circle cx="18.6" cy="-18.5" r="6"/><circle cx="50.2" cy="44.8" r="6"/><circle cx="-38.2" cy="-85.3" r="6"/><circle cx="-47.2" cy="-96.1" r="6"/><circle cx="-22.7" cy="-19.9" r="6"/><circle cx="-23" cy="29" r="6"/><circle cx="74.7" cy="-114.2" r="6"/><circle cx="-38.7" cy="74.1" r="6"/><circle cx="27.2" cy="-43.8" r="6"/><circle cx="32.2" cy="36.9" r="6"/><circle cx="-29.6" cy="67.8" r="6"/><circle cx="-11.8" cy="7.1" r="6"/><circle cx="-38.1" cy="-42.7" r="6"/><circle cx="35.7" cy="45.9" r="6"/><circle cx="37.9" cy="49.2" r="6"/><circle cx="-50.3" cy="-37" r="6"/><circle cx="-36.1" cy="-45.1" r="6"/><circle cx="12.4" cy="12.4" r="6"/><circle cx="-7.1" cy="11.8" r="6"/><circle cx="52.2" cy="-84.4" r="6"/><circle cx="-52.1" cy="107.3" r="6"/><circle cx="50.9" cy="70.7" r="6"/><circle cx="55.3" cy="-84" r="6"/><circle cx="25.9" cy="-32.9" r="6"/><circle cx="-38.2" cy="-76.3" r="6"/><circle cx="-23" cy="-22.8" r="6"/><circle cx="44.1" cy="51.5" r="6"/><circle cx="-59" cy="40.3" r="6"/><circle cx="32.3" cy="-55.1" r="6"/><circle cx="-25.1" cy="38" r="6"/><circle cx="26.9" cy="31" r="6"/><circle cx="25.5" cy="30.2" r="6"/><circle cx="23.8" cy="18.8" r="6"/><circle cx="-63.5" cy="-108.8" r="6"/><circle cx="81.8" cy="104.5" r="6"/><circle cx="-29.2" cy="-66.2" r="6"/><circle cx="19.9" cy="18.4" r="6"/><circle cx="77.9" cy="109" r="6"/><circle cx="25" cy="-46.8" r="6"/><circle cx="-0" cy="-18.5" r="6"/><circle cx="-26" cy="-65.4" r="6"/><circle cx="-56.7" cy="100" r="6"/><circle cx="28.9" cy="37" r="6"/><circle cx="-39.1" cy="-88.9" r="6"/><circle cx="24.6" cy="-30.5" r="6"/><circle cx="-20.6" cy="28.9" r="6"/><circle cx="-19" cy="25.8" r="6"/><circle cx="-15.8" cy="-13.2" r="6"/><circle cx="88" cy="109" r="6"/><circle cx="44.7" cy="91" r="6"/><circle cx="23.5" cy="31.1" r="6"/><circle cx="-73.4" cy="-103.3" r="6"/><circle cx="-79.2" cy="-113.7" r="5.8"/><circle cx="27.1" cy="-35.2" r="6"/><circle cx="23" cy="26.2" r="6"/><circle cx="-24" cy="-25.4" r="6"/><circle cx="-36.4" cy="69.5" r="6"/><circle cx="-26.1" cy="35.1" r="6"/><circle cx="-23" cy="35.2" r="6"/><circle cx="54.2" cy="74.1" r="6"/><circle cx="-68" cy="-110.2" r="6"/><circle cx="-45.9" cy="-90.7" r="6"/><circle cx="-52.2" cy="93.2" r="6"/><circle cx="-18.6" cy="-17.1" r="6"/><circle cx="58" cy="-102.9" r="6"/><circle cx="-25.1" cy="32.8" r="6"/><circle cx="-48.6" cy="-41.1" r="6"/><circle cx="57.1" cy="-30.6" r="6"/><circle cx="-16.1" cy="107.3" r="6"/><circle cx="53.5" cy="-99.7" r="5.8"/><circle cx="-14.6" cy="-9.4" r="6"/><circle cx="-11.8" cy="-7.1" r="6"/><circle cx="-13.9" cy="16.6" r="6"/><circle cx="-68.4" cy="-124.5" r="5.8"/><circle cx="50.8" cy="14.3" r="6"/><circle cx="31.4" cy="-89.8" r="6"/><circle cx="-20" cy="21.9" r="6"/><circle cx="-16.1" cy="21.6" r="6"/><circle cx="-49.9" cy="-105.2" r="6"/><circle cx="82" cy="-114.9" r="6"/><circle cx="-37.5" cy="38" r="6"/><circle cx="-21" cy="-20" r="6"/><circle cx="-25" cy="-25.5" r="6"/><circle cx="-25" cy="-25.5" r="6"/><circle cx="52.6" cy="-91.6" r="6"/><circle cx="-27.6" cy="-48.4" r="6"/><circle cx="17.4" cy="-18" r="6"/><circle cx="-25.3" cy="-25.4" r="6"/><circle cx="-25" cy="33.8" r="6"/><circle cx="45.2" cy="87.6" r="6"/><circle cx="47.2" cy="-65.5" r="6"/><circle cx="-29" cy="37" r="6"/><circle cx="-45.1" cy="-26.8" r="6"/><circle cx="-49.9" cy="-101.5" r="6"/><circle cx="-24" cy="-25.4" r="6"/><circle cx="58.2" cy="75.7" r="6"/><circle cx="56.2" cy="-34.7" r="6"/><circle cx="-24.2" cy="39.2" r="6"/><circle cx="36.8" cy="43.6" r="6"/><circle cx="21.5" cy="23.6" r="6"/><circle cx="-40.9" cy="67.3" r="6"/><circle cx="-22.3" cy="39.7" r="6"/><circle cx="-42.2" cy="-24.8" r="6"/><circle cx="-22.7" cy="29.5" r="6"/><circle cx="-52.2" cy="98.8" r="6"/><circle cx="49.7" cy="27.3" r="6"/><circle cx="71.1" cy="89.8" r="6"/><circle cx="-16.6" cy="16.6" r="6"/><circle cx="36" cy="-46.3" r="6"/><circle cx="-39.8" cy="70.7" r="6"/><circle cx="44.1" cy="94.4" r="6"/><circle cx="59" cy="-27" r="6"/><circle cx="11.8" cy="-7.1" r="6"/><circle cx="31" cy="-80.8" r="6"/><circle cx="-18.4" cy="26.7" r="6"/><circle cx="50.8" cy="31.2" r="6"/><circle cx="-35.3" cy="78.6" r="6"/><circle cx="45.4" cy="-51.2" r="6"/><circle cx="-7.1" cy="-11.8" r="6"/><circle cx="-42.6" cy="-43.9" r="6"/><circle cx="-20.7" cy="31" r="6"/><circle cx="-31.9" cy="-72.7" r="6"/><circle cx="89.2" cy="-109.9" r="6"/><circle cx="-31.9" cy="77.4" r="6"/><circle cx="-34.6" cy="-77.2" r="6"/><circle cx="22.5" cy="27.4" r="6"/><circle cx="-20.2" cy="35.9" r="6"/><circle cx="-56.7" cy="120.3" r="6"/><circle cx="-25.2" cy="-24" r="6"/><circle cx="31.2" cy="39.1" r="6"/><circle cx="22.9" cy="23.6" r="6"/><circle cx="35.5" cy="-103.3" r="6"/><circle cx="49.7" cy="18.8" r="6"/><circle cx="45.4" cy="-73.6" r="6"/><circle cx="19.2" cy="-20.9" r="6"/><circle cx="-35.5" cy="-71.8" r="6"/><circle cx="12.4" cy="-12.4" r="6"/><circle cx="-23.9" cy="-22.7" r="6"/><circle cx="-28.4" cy="-63" r="6"/><circle cx="-16.4" cy="21.2" r="6"/><circle cx="-39.8" cy="93.2" r="5.9"/><circle cx="39.6" cy="66.2" r="6"/><circle cx="-25" cy="40" r="6"/><circle cx="72.4" cy="-112.4" r="6"/><circle cx="5.9" cy="20.7" r="6"/><circle cx="-19" cy="25.8" r="6"/><circle cx="-74.3" cy="-108.3" r="6"/><circle cx="44.5" cy="-68.7" r="6"/><circle cx="-21.2" cy="36.3" r="6"/><circle cx="-17.6" cy="-17" r="6"/><circle cx="44.9" cy="-52.6" r="6"/><circle cx="-17.4" cy="17.3" r="6"/><circle cx="49.7" cy="49.3" r="6"/><circle cx="-51.9" cy="-22.4" r="6"/><circle cx="-19.5" cy="27.3" r="6"/><circle cx="16" cy="-20" r="6"/><circle cx="-47.9" cy="-28.8" r="6"/><circle cx="-19.5" cy="41.4" r="6"/><circle cx="5.9" cy="-20.7" r="6"/><circle cx="-21" cy="-90.8" r="6"/><circle cx="16.6" cy="-16.6" r="6"/><circle cx="-25" cy="-28" r="6"/><circle cx="-58.9" cy="110.7" r="6"/><circle cx="51.4" cy="74.6" r="6"/><circle cx="-24.3" cy="-25.2" r="6"/><circle cx="-67.1" cy="-105.2" r="6"/><circle cx="-43.2" cy="77.4" r="6"/><circle cx="34.4" cy="-49.1" r="6"/><circle cx="-39.9" cy="-74.7" r="6"/><circle cx="77" cy="-116" r="6"/><circle cx="52" cy="65" r="6"/><circle cx="-50" cy="95.4" r="6"/><circle cx="-21.8" cy="95.5" r="6"/><circle cx="28.5" cy="37.9" r="6"/><circle cx="-24" cy="31.4" r="6"/><circle cx="-32.1" cy="-69.9" r="6"/><circle cx="-21.2" cy="87.6" r="6"/><circle cx="-35.6" cy="-68.2" r="6"/><circle cx="-24" cy="-24.1" r="6"/><circle cx="-19.7" cy="22.3" r="6"/><circle cx="69.7" cy="-125.9" r="6"/><circle cx="17.4" cy="18.8" r="6"/><circle cx="30.5" cy="-46.6" r="6"/><circle cx="27.5" cy="-31.2" r="6"/><circle cx="-29" cy="-31" r="6"/><circle cx="48.6" cy="75.2" r="6"/><circle cx="15.9" cy="14.3" r="6"/><circle cx="73.4" cy="93.7" r="6"/><circle cx="-56.2" cy="-106" r="6"/><circle cx="18.5" cy="-24.8" r="6"/><circle cx="20.7" cy="5.9" r="6"/><circle cx="58.7" cy="74.1" r="6"/><circle cx="-20.7" cy="-5.9" r="6"/><circle cx="-12.4" cy="12.4" r="6"/><circle cx="32.9" cy="48.1" r="6"/><circle cx="45" cy="-70" r="6"/><circle cx="33.7" cy="-62.8" r="6"/><circle cx="-20.7" cy="5.9" r="6"/><circle cx="50.4" cy="-81.3" r="6"/><circle cx="-17.5" cy="-99.8" r="6"/><circle cx="-21" cy="-22.5" r="6"/><circle cx="-27.9" cy="72.3" r="6"/><circle cx="45.2" cy="48.1" r="6"/><circle cx="-19.2" cy="-95.3" r="6"/><circle cx="43.5" cy="100" r="6"/><circle cx="-16.6" cy="-16.6" r="6"/><circle cx="43.6" cy="66.7" r="6"/><circle cx="-26.9" cy="-74.5" r="6"/><circle cx="-23.9" cy="-24" r="6"/><circle cx="-48.8" cy="51.5" r="6"/><circle cx="53.1" cy="-86.2" r="6"/><circle cx="20.6" cy="-25.1" r="6"/><circle cx="-36.4" cy="-82.6" r="6"/><circle cx="49.9" cy="-50.5" r="6"/><circle cx="47.5" cy="61.6" r="6"/><circle cx="-26.2" cy="-68.2" r="6"/><circle cx="17.5" cy="20.6" r="6"/><circle cx="-44.5" cy="-85.3" r="6"/><circle cx="-39.1" cy="-70.9" r="6"/><circle cx="27.5" cy="31.7" r="6"/><circle cx="-63.5" cy="112.4" r="6"/><circle cx="37.3" cy="-75.4" r="6"/><circle cx="-24.3" cy="-24" r="6"/><circle cx="-41" cy="75.7" r="6"/><circle cx="26.5" cy="36.4" r="6"/><circle cx="21.6" cy="-25.4" r="6"/><circle cx="41.8" cy="32.4" r="6"/><circle cx="44.5" cy="-93.4" r="6"/><circle cx="26.1" cy="-28.7" r="6"/><circle cx="-22.2" cy="40.7" r="6"/><circle cx="27.5" cy="-31.2" r="6"/><circle cx="-79.2" cy="112.4" r="5.8"/><circle cx="31.9" cy="-76.3" r="6"/><circle cx="29.4" cy="35.9" r="6"/><circle cx="-21" cy="-22.5" r="6"/><circle cx="76.1" cy="-123.2" r="6"/><circle cx="20" cy="-17" r="6"/><circle cx="-24.9" cy="-24.1" r="6"/><circle cx="-79.2" cy="100" r="6"/><circle cx="-27" cy="-28.2" r="6"/><circle cx="24" cy="30" r="6"/><circle cx="19.2" cy="-20.9" r="6"/><circle cx="28.3" cy="-31.5" r="6"/><circle cx="25" cy="-26.5" r="6"/><circle cx="26.4" cy="-37.5" r="6"/><circle cx="49" cy="-96.6" r="6"/><circle cx="-31.6" cy="-45.5" r="6"/><circle cx="28" cy="39" r="6"/><circle cx="50.8" cy="-76.8" r="6"/><circle cx="-24" cy="92.1" r="6"/><circle cx="-66.8" cy="-121.2" r="6"/><circle cx="-53.1" cy="-103.8" r="6"/><circle cx="48.1" cy="71.2" r="6"/><circle cx="28.4" cy="-36" r="6"/><circle cx="-22.9" cy="-93" r="6"/><circle cx="-58.5" cy="-121.9" r="6"/><circle cx="29.4" cy="-40.8" r="5.8"/><circle cx="22.9" cy="-107.8" r="6"/><circle cx="42.9" cy="105.6" r="6"/><circle cx="35.1" cy="72.9" r="6"/><circle cx="-70.2" cy="123.7" r="5.8"/><circle cx="-24.7" cy="-95.2" r="6"/><circle cx="-16.6" cy="-109.7" r="6"/><circle cx="32.8" cy="-94.3" r="6"/><circle cx="90.3" cy="112.4" r="5.8"/><circle cx="26" cy="43.6" r="4.8"/><circle cx="-22" cy="-76.3" r="6"/><circle cx="33.9" cy="34.6" r="4.8"/><circle cx="-24" cy="72.9" r="6"/><circle cx="71.1" cy="97.7" r="4.8"/><circle cx="24.7" cy="-87.1" r="4.8"/><circle cx="40.7" cy="20" r="4.8"/><circle cx="59.9" cy="83.1" r="4.8"/><circle cx="-50.3" cy="-50" r="4.8"/><circle cx="-19.3" cy="-85.3" r="4.8"/><circle cx="54.2" cy="16.6" r="4.8"/><circle cx="-15.7" cy="-120.5" r="4.8"/><circle cx="84.6" cy="95.5" r="4.8"/><circle cx="-41.4" cy="-25.6" r="4.8"/><circle cx="-13.9" cy="105.6" r="6"/><circle cx="46.3" cy="11" r="4.8"/><circle cx="-47.2" cy="-70.9" r="4.8"/><circle cx="-13" cy="-87.1" r="4.8"/><circle cx="-41.4" cy="-43.5" r="4.8"/><circle cx="-21.9" cy="-45.9" r="4.8"/><circle cx="-79.7" cy="-120" r="4.8"/><circle cx="-56.8" cy="-28.8" r="4.8"/><circle cx="-28.3" cy="-106.9" r="4.8"/><circle cx="-28.3" cy="-81.7" r="4.8"/><circle cx="64.3" cy="-121.4" r="4.8"/><circle cx="56.5" cy="38" r="4.8"/><circle cx="81.3" cy="121.4" r="5.8"/><circle cx="64.4" cy="89.8" r="4.8"/><circle cx="-22.7" cy="-57.3" r="4.8"/><circle cx="52.6" cy="-29.7" r="4.8"/><circle cx="-30.8" cy="-38.6" r="4.8"/><circle cx="57.6" cy="48.1" r="4.8"/><circle cx="-50.8" cy="-94.3" r="4.8"/><circle cx="-25.1" cy="116.9" r="4.8"/><circle cx="-53.3" cy="92.1" r="4.8"/><circle cx="-50.3" cy="-21.5" r="4.8"/><circle cx="-49.9" cy="80.8" r="4.8"/><circle cx="-22.9" cy="60.5" r="4.8"/><circle cx="66.6" cy="111.3" r="4.8"/><circle cx="-63.5" cy="29" r="4.8"/><circle cx="58.9" cy="-103.3" r="4.8"/><circle cx="56.2" cy="-73.6" r="4.8"/><circle cx="-75.2" cy="-125" r="4.8"/><circle cx="-44.3" cy="38" r="4.8"/><circle cx="-13.9" cy="114.6" r="4.8"/><circle cx="36.4" cy="-86.2" r="4.8"/><circle cx="-26.5" cy="-117.8" r="4.8"/><circle cx="-13.9" cy="96.6" r="4.8"/><circle cx="-53.3" cy="118" r="4.8"/><circle cx="53.1" cy="109" r="4.8"/><circle cx="-44.3" cy="87.6" r="4.8"/><circle cx="-60.8" cy="-101.5" r="4.8"/><circle cx="35.1" cy="97.7" r="4.8"/><circle cx="-29.7" cy="35.8" r="4.8"/><circle cx="62.5" cy="-39.3" r="4.8"/><circle cx="44.1" cy="25.6" r="4.8"/><circle cx="-56.7" cy="35.8" r="4.8"/><circle cx="62.5" cy="-24.3" r="4.8"/><circle cx="-21" cy="-22.4" r="4.8"/><circle cx="47.2" cy="-33.3" r="4.8"/><circle cx="-48.7" cy="-58.9" r="4.8"/><circle cx="-22.9" cy="112.4" r="4.8"/><circle cx="-45.4" cy="-70.2" r="4.8"/><circle cx="8" cy="-26.3" r="4.8"/><circle cx="-44.6" cy="-32.9" r="4.8"/><circle cx="8" cy="26.3" r="4.8"/><circle cx="41.8" cy="-97.9" r="4.8"/><circle cx="50.8" cy="96.6" r="4.8"/><circle cx="34.6" cy="-115.1" r="4.8"/><circle cx="31" cy="-106.9" r="4.8"/><circle cx="81" cy="-122.8" r="4.8"/><circle cx="62.5" cy="-88.9" r="4.8"/><circle cx="-27.4" cy="30.1" r="4.8"/><circle cx="-18.6" cy="-63.8" r="4.8"/><circle cx="-53.3" cy="45.9" r="4.8"/><circle cx="-48.8" cy="27.9" r="4.8"/><circle cx="-25.1" cy="103.4" r="4.8"/><circle cx="-12" cy="-97.9" r="4.8"/><circle cx="57.1" cy="-61" r="4.8"/><circle cx="39.1" cy="-101.5" r="4.8"/><circle cx="46.3" cy="114.6" r="4.8"/><circle cx="-40.9" cy="48.1" r="4.8"/><circle cx="40.9" cy="-39.3" r="4.8"/><circle cx="42.9" cy="76.3" r="4.8"/><circle cx="68.9" cy="80.8" r="4.8"/><circle cx="30.6" cy="60.5" r="4.8"/><circle cx="-61.2" cy="100" r="4.8"/><circle cx="-53.3" cy="58.3" r="4.8"/><circle cx="26.3" cy="8" r="4.8"/><circle cx="67" cy="-109.7" r="4.8"/><circle cx="24.7" cy="-53.7" r="4.8"/><circle cx="24.7" cy="-119.6" r="4.8"/><circle cx="58.7" cy="60.5" r="4.8"/><circle cx="45.2" cy="45.9" r="4.8"/><circle cx="-8" cy="-26.3" r="4.8"/><circle cx="82.4" cy="-101.5" r="4.8"/><circle cx="52" cy="105.6" r="4.8"/><circle cx="49.7" cy="85.3" r="4.8"/><circle cx="-44.5" cy="-91.6" r="4.8"/><circle cx="23.8" cy="-31.5" r="4.8"/><circle cx="-12.8" cy="94.4" r="4.8"/><circle cx="29.2" cy="-63.7" r="4.8"/><circle cx="-19.3" cy="-97" r="4.8"/><circle cx="-20.6" cy="22.2" r="4.8"/><circle cx="-26.3" cy="8" r="4.8"/><circle cx="-38.1" cy="-54" r="4.8"/><circle cx="29.4" cy="29" r="4.8"/><circle cx="21" cy="-97.9" r="4.8"/><circle cx="-8" cy="26.3" r="4.8"/><circle cx="-27.6" cy="-32.1" r="4.8"/><circle cx="55.3" cy="27.9" r="4.8"/><circle cx="-27.4" cy="83.1" r="4.8"/><circle cx="20.4" cy="21.1" r="4.8"/><circle cx="29.4" cy="53.8" r="4.8"/><circle cx="36.2" cy="80.8" r="4.8"/><circle cx="-20.6" cy="53.8" r="4.8"/><circle cx="-16.1" cy="84.2" r="4.8"/><circle cx="15.6" cy="-21.6" r="4.8"/><circle cx="64.3" cy="-31.5" r="4.8"/><circle cx="-17.3" cy="41.4" r="4.8"/><circle cx="50.8" cy="-41.1" r="4.8"/><circle cx="-75.9" cy="122.5" r="4.8"/><circle cx="-31.9" cy="94.4" r="4.8"/><circle cx="-47.7" cy="71.8" r="4.8"/><circle cx="-43.2" cy="57.2" r="4.8"/><circle cx="26.3" cy="-8" r="4.8"/><circle cx="-57.8" cy="21.1" r="4.8"/><circle cx="45.2" cy="35.8" r="4.8"/><circle cx="-68.9" cy="-100.6" r="4.8"/><circle cx="-68" cy="96.6" r="4.8"/><circle cx="-53.5" cy="-39.4" r="4.8"/><circle cx="-33.7" cy="-93.4" r="4.8"/><circle cx="-53.5" cy="-114.2" r="4.8"/><circle cx="59.8" cy="-50.1" r="4.8"/><circle cx="-26.3" cy="-8" r="4.8"/><circle cx="38.4" cy="91" r="4.8"/></g><circle cx="28.9" cy="32.5" r="4.9" fill="url(#gC)"/><circle cx="-71.6" cy="-106.5" r="4.8" fill="url(#gC)"/><circle cx="-5.9" cy="20.7" r="4.7" fill="url(#gC)"/><circle cx="-21.8" cy="46.4" r="4.8" fill="url(#gC)"/><circle cx="29.3" cy="41.9" r="5" fill="url(#gC)"/><circle cx="-24.2" cy="-73.6" r="4.7" fill="url(#gC)"/><circle cx="22.5" cy="-21.8" r="5.2" fill="url(#gC)"/><circle cx="22.5" cy="-21.8" r="5.1" fill="url(#gC)"/><circle cx="64.4" cy="80.2" r="4.9" fill="url(#gC)"/><circle cx="-28.6" cy="-65.7" r="4.6" fill="url(#gC)"/><circle cx="-40.9" cy="-79.9" r="5.1" fill="url(#gC)"/><circle cx="26.8" cy="-35.1" r="5.1" fill="url(#gC)"/><circle cx="-23" cy="-22.8" r="5" fill="url(#gC)"/><circle cx="40.7" cy="47" r="4.6" fill="url(#gC)"/><circle cx="-17" cy="-17" r="5.2" fill="url(#gC)"/><circle cx="24.2" cy="-30.4" r="5" fill="url(#gC)"/><circle cx="20.1" cy="-20.7" r="4.8" fill="url(#gC)"/><circle cx="18.5" cy="-24.8" r="4.7" fill="url(#gC)"/><circle cx="32.7" cy="-43.6" r="5.1" fill="url(#gC)"/><circle cx="-27" cy="-28.2" r="4.8" fill="url(#gC)"/><circle cx="-35.8" cy="-69" r="5.1" fill="url(#gC)"/><circle cx="-29.4" cy="-69" r="4.8" fill="url(#gC)"/><circle cx="62.1" cy="77.4" r="5.1" fill="url(#gC)"/><circle cx="53.9" cy="-44" r="4.7" fill="url(#gC)"/><circle cx="33.9" cy="45.9" r="4.9" fill="url(#gC)"/><circle cx="45.8" cy="-51" r="4.9" fill="url(#gC)"/><circle cx="-35.3" cy="53.8" r="5.2" fill="url(#gC)"/><circle cx="48.1" cy="-72.7" r="4.8" fill="url(#gC)"/><circle cx="-73.6" cy="111.8" r="5.1" fill="url(#gC)"/><circle cx="84.2" cy="-114.2" r="4.7" fill="url(#gC)"/><circle cx="86" cy="-106" r="5.2" fill="url(#gC)"/><circle cx="26" cy="26.7" r="4.7" fill="url(#gC)"/><circle cx="16.6" cy="16.6" r="5.1" fill="url(#gC)"/><circle cx="-38.5" cy="-66.2" r="4.8" fill="url(#gC)"/><circle cx="-17.1" cy="-104.8" r="5.1" fill="url(#gC)"/><circle cx="-21.1" cy="-97.5" r="4.9" fill="url(#gC)"/><circle cx="-16.7" cy="102.2" r="5.1" fill="url(#gC)"/><circle cx="36.8" cy="32.9" r="5.2" fill="url(#gC)"/><circle cx="29.9" cy="36.2" r="5.1" fill="url(#gC)"/><circle cx="-21" cy="24.2" r="4.9" fill="url(#gC)"/><circle cx="21" cy="-29.5" r="4.8" fill="url(#gC)"/><circle cx="-16.8" cy="-14.6" r="5.2" fill="url(#gC)"/><circle cx="77.9" cy="103.4" r="4.8" fill="url(#gC)"/><circle cx="-32.4" cy="-67" r="5.2" fill="url(#gC)"/><circle cx="-34" cy="-47.5" r="5.2" fill="url(#gC)"/><circle cx="76.6" cy="-119.6" r="4.7" fill="url(#gC)"/><circle cx="-40.9" cy="-60.1" r="5.2" fill="url(#gC)"/><circle cx="-23.9" cy="35.6" r="5.2" fill="url(#gC)"/><circle cx="-42.7" cy="-82.6" r="4.8" fill="url(#gC)"/><circle cx="-46.6" cy="43.6" r="4.8" fill="url(#gC)"/><circle cx="-25.9" cy="-53.2" r="5.2" fill="url(#gC)"/><circle cx="-19.6" cy="23.1" r="4.8" fill="url(#gC)"/><circle cx="-5.9" cy="-20.7" r="5.1" fill="url(#gC)"/><circle cx="23" cy="-28" r="5.2" fill="url(#gC)"/><circle cx="-35.2" cy="-65" r="4.6" fill="url(#gC)"/><circle cx="23" cy="23.8" r="4.6" fill="url(#gC)"/><circle cx="7.1" cy="11.8" r="4.8" fill="url(#gC)"/><circle cx="50.8" cy="40.3" r="4.8" fill="url(#gC)"/><circle cx="86.5" cy="-109.9" r="4.8" fill="url(#gC)"/><circle cx="13.6" cy="-16.8" r="5.1" fill="url(#gC)"/><circle cx="-12.4" cy="-12.4" r="5.2" fill="url(#gC)"/><circle cx="17.4" cy="-16.2" r="5" fill="url(#gC)"/><circle cx="87.5" cy="102.8" r="4.8" fill="url(#gC)"/><circle cx="44.1" cy="-65.1" r="4.8" fill="url(#gC)"/><circle cx="-28.3" cy="-56.9" r="5.2" fill="url(#gC)"/><circle cx="26" cy="-39" r="4.6" fill="url(#gC)"/><circle cx="71.1" cy="116.9" r="5.1" fill="url(#gC)"/><circle cx="44.5" cy="-52.8" r="4.7" fill="url(#gC)"/><circle cx="-49.1" cy="-32.9" r="4.6" fill="url(#gC)"/><circle cx="-60.1" cy="116.3" r="4.6" fill="url(#gC)"/><circle cx="40.2" cy="52.1" r="5" fill="url(#gC)"/><circle cx="-27.4" cy="63.9" r="5" fill="url(#gC)"/><circle cx="23.5" cy="-34.2" r="4.6" fill="url(#gC)"/><circle cx="-24" cy="34.6" r="4.6" fill="url(#gC)"/><circle cx="-23" cy="-24" r="4.9" fill="url(#gC)"/><circle cx="-21" cy="18" r="4.9" fill="url(#gC)"/><circle cx="53.1" cy="-95.7" r="5.2" fill="url(#gC)"/><circle cx="-16.1" cy="23.4" r="4.9" fill="url(#gC)"/><circle cx="15.6" cy="-15.2" r="5.1" fill="url(#gC)"/><circle cx="22" cy="28.5" r="5" fill="url(#gC)"/><circle cx="50.9" cy="54.9" r="4.8" fill="url(#gC)"/><circle cx="37.4" cy="54.3" r="4.9" fill="url(#gC)"/><circle cx="-38.6" cy="-66.9" r="4.9" fill="url(#gC)"/><circle cx="25.5" cy="32.6" r="4.6" fill="url(#gC)"/><circle cx="48.6" cy="23.4" r="5" fill="url(#gC)"/><circle cx="45.2" cy="27.9" r="4.8" fill="url(#gC)"/><circle cx="30" cy="-36" r="4.8" fill="url(#gC)"/><circle cx="-20.6" cy="25.4" r="4.7" fill="url(#gC)"/><circle cx="34.1" cy="-98.8" r="4.9" fill="url(#gC)"/><circle cx="73.9" cy="110.7" r="5.2" fill="url(#gC)"/><circle cx="26.8" cy="-35.1" r="5.2" fill="url(#gC)"/><circle cx="25.5" cy="-42.9" r="4.6" fill="url(#gC)"/><circle cx="-28.9" cy="-69.1" r="5" fill="url(#gC)"/><circle cx="31.9" cy="37.8" r="5.2" fill="url(#gC)"/><circle cx="-20" cy="-21.1" r="5.1" fill="url(#gC)"/><circle cx="-35.3" cy="72.9" r="4.7" fill="url(#gC)"/><circle cx="-68" cy="109" r="5.1" fill="url(#gC)"/><circle cx="-72.5" cy="-111.5" r="5.2" fill="url(#gC)"/><circle cx="45.8" cy="108.4" r="5" fill="url(#gC)"/><circle cx="48.6" cy="52.6" r="5.1" fill="url(#gC)"/><circle cx="-52.2" cy="33.5" r="4.8" fill="url(#gC)"/><circle cx="-48.8" cy="101.6" r="4.7" fill="url(#gC)"/><circle cx="-43.2" cy="-92.5" r="4.6" fill="url(#gC)"/><circle cx="62.5" cy="-106" r="5.1" fill="url(#gC)"/><circle cx="47.7" cy="-69.1" r="4.7" fill="url(#gC)"/><circle cx="-27.4" cy="44.6" r="4.9" fill="url(#gC)"/><circle cx="-61.2" cy="-113.3" r="4.7" fill="url(#gC)"/><circle cx="-30.8" cy="-60.5" r="4.7" fill="url(#gC)"/><circle cx="16" cy="18" r="4.7" fill="url(#gC)"/><circle cx="35.5" cy="-67.3" r="4.8" fill="url(#gC)"/><circle cx="-22.9" cy="31.2" r="5" fill="url(#gC)"/><circle cx="-61.6" cy="-121.9" r="5.1" fill="url(#gC)"/><circle cx="26.5" cy="-28.8" r="4.8" fill="url(#gC)"/><circle cx="21.8" cy="-25.6" r="4.9" fill="url(#gC)"/><circle cx="39.6" cy="57.2" r="4.8" fill="url(#gC)"/><circle cx="-49.9" cy="105.6" r="5" fill="url(#gC)"/><circle cx="-23" cy="22.8" r="4.9" fill="url(#gC)"/><circle cx="-21.2" cy="38.3" r="5" fill="url(#gC)"/><circle cx="87.8" cy="-110.1" r="4.8" fill="url(#gC)"/><circle cx="-18.5" cy="0" r="5.1" fill="url(#gC)"/><circle cx="-24" cy="31.4" r="5.2" fill="url(#gC)"/><circle cx="27.5" cy="34.1" r="5.1" fill="url(#gC)"/><circle cx="-18.6" cy="-18.4" r="5.2" fill="url(#gC)"/><circle cx="-53.3" cy="102.8" r="5.2" fill="url(#gC)"/><circle cx="43.6" cy="56.6" r="5.1" fill="url(#gC)"/><circle cx="49.9" cy="-86.7" r="5.2" fill="url(#gC)"/><circle cx="25" cy="33.8" r="4.8" fill="url(#gC)"/><circle cx="29" cy="36.8" r="5.2" fill="url(#gC)"/><circle cx="17.9" cy="17.6" r="4.9" fill="url(#gC)"/><circle cx="-25.7" cy="68.4" r="5" fill="url(#gC)"/><circle cx="26.6" cy="-29" r="4.6" fill="url(#gC)"/><circle cx="72.2" cy="121.4" r="5" fill="url(#gC)"/><circle cx="-34.1" cy="76.3" r="4.9" fill="url(#gC)"/><circle cx="-55.6" cy="36.9" r="4.9" fill="url(#gC)"/><circle cx="-70.2" cy="108.4" r="4.8" fill="url(#gC)"/><circle cx="20.5" cy="25.9" r="4.9" fill="url(#gC)"/><circle cx="25.4" cy="-26.6" r="5.1" fill="url(#gC)"/><circle cx="-22" cy="26.6" r="5.1" fill="url(#gC)"/><circle cx="50.4" cy="-51.5" r="4.8" fill="url(#gC)"/><circle cx="11.8" cy="7.1" r="5" fill="url(#gC)"/><circle cx="-59.9" cy="-107.4" r="4.8" fill="url(#gC)"/><circle cx="32.8" cy="-51.8" r="5" fill="url(#gC)"/><circle cx="-54.5" cy="96.6" r="4.7" fill="url(#gC)"/><circle cx="40.9" cy="-51.9" r="5.2" fill="url(#gC)"/><circle cx="-30.2" cy="62.2" r="4.7" fill="url(#gC)"/><circle cx="-43.8" cy="95.4" r="5" fill="url(#gC)"/><circle cx="7.1" cy="-11.8" r="4.7" fill="url(#gC)"/><circle cx="-19" cy="-19.8" r="5.2" fill="url(#gC)"/><circle cx="24.2" cy="-30.4" r="5" fill="url(#gC)"/><circle cx="-19" cy="-19.8" r="4.7" fill="url(#gC)"/><circle cx="11.1" cy="-13.5" r="5.1" fill="url(#gC)"/><circle cx="36.4" cy="-55.1" r="4.8" fill="url(#gC)"/><circle cx="-17.7" cy="23.8" r="4.7" fill="url(#gC)"/><circle cx="-25.9" cy="34.1" r="4.7" fill="url(#gC)"/><circle cx="-20" cy="21.9" r="5" fill="url(#gC)"/><circle cx="-29.9" cy="-50.4" r="4.8" fill="url(#gC)"/><circle cx="53.5" cy="-80.8" r="5" fill="url(#gC)"/><circle cx="14.7" cy="-15.3" r="5.2" fill="url(#gC)"/><circle cx="-72.5" cy="105.6" r="4.9" fill="url(#gC)"/><circle cx="-48.6" cy="-98.8" r="5.1" fill="url(#gC)"/><circle cx="85.8" cy="105.6" r="5.1" fill="url(#gC)"/><circle cx="-32.4" cy="66.1" r="5.2" fill="url(#gC)"/><circle cx="-20" cy="-19.9" r="4.8" fill="url(#gC)"/><circle cx="24.7" cy="-26.1" r="4.8" fill="url(#gC)"/><circle cx="-18.9" cy="103.9" r="4.8" fill="url(#gC)"/><circle cx="48.6" cy="111.3" r="5" fill="url(#gC)"/><circle cx="41.8" cy="-69.6" r="4.9" fill="url(#gC)"/><circle cx="-31.9" cy="83.1" r="5" fill="url(#gC)"/><circle cx="-38.1" cy="-62.9" r="4.7" fill="url(#gC)"/><circle cx="30.1" cy="-85.3" r="4.7" fill="url(#gC)"/><circle cx="85.1" cy="-110.1" r="5.2" fill="url(#gC)"/><circle cx="-42.1" cy="40.8" r="5.2" fill="url(#gC)"/><circle cx="91.4" cy="-106" r="4.7" fill="url(#gC)"/><circle cx="28.8" cy="-36.2" r="4.8" fill="url(#gC)"/><circle cx="68.9" cy="86.4" r="5" fill="url(#gC)"/><circle cx="-27" cy="32.2" r="5.1" fill="url(#gC)"/><circle cx="50.8" cy="35.7" r="4.9" fill="url(#gC)"/><circle cx="24.5" cy="28.9" r="5.2" fill="url(#gC)"/><circle cx="26" cy="31.5" r="5.1" fill="url(#gC)"/><circle cx="-19.6" cy="-18.5" r="5.2" fill="url(#gC)"/><circle cx="-29.2" cy="-43.5" r="4.7" fill="url(#gC)"/><circle cx="30.5" cy="39.4" r="4.6" fill="url(#gC)"/><circle cx="-39.8" cy="79.1" r="4.9" fill="url(#gC)"/><circle cx="27.4" cy="29.9" r="5.2" fill="url(#gC)"/><circle cx="-54.4" cy="109" r="5" fill="url(#gC)"/><circle cx="-21" cy="30.5" r="4.7" fill="url(#gC)"/><circle cx="-20.7" cy="24.7" r="5.1" fill="url(#gC)"/><circle cx="-27" cy="32.2" r="4.9" fill="url(#gC)"/><circle cx="-65.3" cy="-117.8" r="4.7" fill="url(#gC)"/><circle cx="-68" cy="111.3" r="5" fill="url(#gC)"/><circle cx="-33.7" cy="-43.1" r="5" fill="url(#gC)"/><circle cx="-34.4" cy="-61.7" r="4.7" fill="url(#gC)"/><circle cx="38.2" cy="-66" r="4.8" fill="url(#gC)"/><circle cx="24.1" cy="-30.2" r="5.2" fill="url(#gC)"/><circle cx="47.2" cy="-50.3" r="4.9" fill="url(#gC)"/><circle cx="22.4" cy="-23.4" r="5.1" fill="url(#gC)"/><circle cx="76.8" cy="100.5" r="5" fill="url(#gC)"/><circle cx="25.5" cy="-32.8" r="5.2" fill="url(#gC)"/><circle cx="-31.9" cy="-85.3" r="5.2" fill="url(#gC)"/><circle cx="-19.5" cy="98.9" r="4.9" fill="url(#gC)"/><circle cx="81.8" cy="107.3" r="4.7" fill="url(#gC)"/><circle cx="19.5" cy="22.1" r="5.2" fill="url(#gC)"/><circle cx="-22" cy="-22.6" r="4.8" fill="url(#gC)"/><circle cx="19" cy="23.2" r="5" fill="url(#gC)"/><circle cx="72.9" cy="-124.6" r="4.8" fill="url(#gC)"/><circle cx="-23" cy="35.2" r="4.9" fill="url(#gC)"/><circle cx="-33.2" cy="37.5" r="4.8" fill="url(#gC)"/><circle cx="-75.9" cy="109" r="4.7" fill="url(#gC)"/><circle cx="-38.9" cy="-69.4" r="4.7" fill="url(#gC)"/><circle cx="-24" cy="51.5" r="5" fill="url(#gC)"/><circle cx="23.4" cy="22.5" r="5" fill="url(#gC)"/><circle cx="-18.6" cy="20.7" r="4.7" fill="url(#gC)"/><circle cx="57.1" cy="-87.1" r="4.6" fill="url(#gC)"/><circle cx="39.6" cy="61.7" r="5.1" fill="url(#gC)"/><circle cx="48.1" cy="-53.7" r="5" fill="url(#gC)"/><circle cx="-49.9" cy="-108.8" r="4.6" fill="url(#gC)"/><circle cx="-22.9" cy="27" r="4.8" fill="url(#gC)"/><circle cx="32.8" cy="40.3" r="4.7" fill="url(#gC)"/><circle cx="28.9" cy="-49.3" r="5.1" fill="url(#gC)"/><circle cx="75.6" cy="97.7" r="5.2" fill="url(#gC)"/><circle cx="-70.7" cy="-101.5" r="4.9" fill="url(#gC)"/><circle cx="49.8" cy="63.9" r="4.6" fill="url(#gC)"/><circle cx="-42.7" cy="-97.9" r="4.7" fill="url(#gD)"/><circle cx="-64.4" cy="-113.3" r="5" fill="url(#gC)"/><circle cx="0" cy="18.5" r="5" fill="url(#gC)"/><circle cx="-26.5" cy="-70.9" r="4.7" fill="url(#gC)"/><circle cx="-22" cy="-23.9" r="5" fill="url(#gC)"/><circle cx="-23" cy="-25.2" r="5.1" fill="url(#gC)"/><circle cx="-21" cy="-121.4" r="4.8" fill="url(#gC)"/><circle cx="38.9" cy="-48.9" r="4.7" fill="url(#gC)"/><circle cx="-25" cy="27.5" r="4.8" fill="url(#gC)"/><circle cx="52" cy="60.5" r="4.8" fill="url(#gC)"/><circle cx="22.6" cy="-23.6" r="5.1" fill="url(#gC)"/><circle cx="-47.1" cy="-23.6" r="5" fill="url(#gC)"/><circle cx="30.6" cy="44.8" r="5.2" fill="url(#gC)"/><circle cx="47.7" cy="-77.2" r="4.6" fill="url(#gC)"/><circle cx="-21.7" cy="27.1" r="5.2" fill="url(#gC)"/><circle cx="76.8" cy="121.4" r="5.2" fill="url(#gC)"/><circle cx="33.6" cy="46.8" r="5" fill="url(#gC)"/><circle cx="35.1" cy="51.5" r="5" fill="url(#gC)"/><circle cx="-40" cy="-84.4" r="4.8" fill="url(#gC)"/><circle cx="48.6" cy="-92.5" r="4.6" fill="url(#gC)"/><circle cx="-49.9" cy="-25.6" r="5" fill="url(#gC)"/><circle cx="29.8" cy="40.8" r="4.6" fill="url(#gC)"/><circle cx="-19.5" cy="-17.1" r="4.9" fill="url(#gC)"/><circle cx="-75.9" cy="102.8" r="5.2" fill="url(#gC)"/><circle cx="66.6" cy="83.1" r="4.6" fill="url(#gC)"/><circle cx="-37.6" cy="77.4" r="4.8" fill="url(#gC)"/><circle cx="80.6" cy="-115.1" r="5.1" fill="url(#gC)"/><circle cx="25" cy="-26.5" r="4.8" fill="url(#gC)"/><circle cx="28.9" cy="30.1" r="4.8" fill="url(#gC)"/><circle cx="21" cy="24.8" r="5.2" fill="url(#gC)"/><circle cx="-43.8" cy="-57.3" r="4.9" fill="url(#gC)"/><circle cx="-26.9" cy="50.4" r="4.8" fill="url(#gC)"/><circle cx="45" cy="-78.1" r="4.9" fill="url(#gC)"/><circle cx="-21" cy="30.5" r="5" fill="url(#gC)"/><circle cx="-34.1" cy="57.1" r="5.1" fill="url(#gC)"/><circle cx="-26" cy="-26.9" r="5.1" fill="url(#gC)"/><circle cx="-55.6" cy="104.5" r="5.2" fill="url(#gC)"/><circle cx="-26" cy="36.1" r="4.9" fill="url(#gC)"/><circle cx="89.2" cy="100" r="5.1" fill="url(#gC)"/><circle cx="-40.9" cy="-93.4" r="4.9" fill="url(#gC)"/><circle cx="40.9" cy="-64.6" r="5.2" fill="url(#gC)"/><circle cx="-20.9" cy="28.5" r="5" fill="url(#gC)"/><circle cx="-58" cy="-125.9" r="4.6" fill="url(#gC)"/><circle cx="-18.6" cy="26.9" r="4.7" fill="url(#gC)"/><circle cx="53.7" cy="74.6" r="4.8" fill="url(#gC)"/><circle cx="-31.9" cy="71.8" r="5.1" fill="url(#gC)"/><circle cx="-68.9" cy="-114.7" r="4.9" fill="url(#gC)"/><circle cx="28.4" cy="33.6" r="4.8" fill="url(#gC)"/><circle cx="-23.1" cy="34.2" r="5.2" fill="url(#gC)"/><circle cx="-41.8" cy="-87.1" r="5" fill="url(#gC)"/><circle cx="-35.4" cy="-71.1" r="4.9" fill="url(#gC)"/><circle cx="36.8" cy="-51.9" r="4.8" fill="url(#gC)"/><circle cx="-23" cy="22.8" r="4.6" fill="url(#gC)"/><circle cx="54.9" cy="-89.4" r="5" fill="url(#gC)"/><circle cx="55.4" cy="71.8" r="5" fill="url(#gC)"/><circle cx="-31.6" cy="-63.8" r="4.8" fill="url(#gC)"/><circle cx="-16.2" cy="-14.2" r="4.7" fill="url(#gC)"/><circle cx="37.4" cy="69.5" r="4.7" fill="url(#gC)"/><circle cx="46.3" cy="31.8" r="4.6" fill="url(#gC)"/><circle cx="-22" cy="26.6" r="4.7" fill="url(#gC)"/><circle cx="-25" cy="27.5" r="4.8" fill="url(#gC)"/><circle cx="55.3" cy="-38.8" r="4.7" fill="url(#gC)"/><circle cx="16.6" cy="-20" r="4.8" fill="url(#gC)"/><circle cx="52.6" cy="-49.2" r="4.7" fill="url(#gC)"/><circle cx="30.1" cy="-115.1" r="4.8" fill="url(#gC)"/><circle cx="-22" cy="-22.6" r="4.7" fill="url(#gC)"/><circle cx="-23" cy="-25.2" r="4.6" fill="url(#gC)"/><circle cx="-29.7" cy="49.3" r="4.9" fill="url(#gC)"/><circle cx="41.8" cy="-51.4" r="4.6" fill="url(#gC)"/><circle cx="20" cy="21" r="4.7" fill="url(#gC)"/><circle cx="-77.7" cy="-109.4" r="5.2" fill="url(#gC)"/><circle cx="39.1" cy="-70.9" r="5.1" fill="url(#gC)"/><circle cx="-35.5" cy="-87.1" r="5.1" fill="url(#gC)"/><circle cx="23.5" cy="-34.2" r="4.6" fill="url(#gC)"/><circle cx="33.7" cy="-71.8" r="4.7" fill="url(#gC)"/><circle cx="26.5" cy="-111.5" r="4.6" fill="url(#gC)"/><circle cx="20.7" cy="-5.9" r="5" fill="url(#gC)"/><circle cx="-42.1" cy="72.3" r="5" fill="url(#gC)"/><circle cx="47.5" cy="56" r="4.8" fill="url(#gC)"/><circle cx="-46.3" cy="-99.7" r="4.9" fill="url(#gC)"/><circle cx="-40" cy="-75.4" r="5.2" fill="url(#gC)"/><circle cx="-18.4" cy="19.7" r="4.9" fill="url(#gC)"/><circle cx="-19.9" cy="-18.5" r="5.1" fill="url(#gC)"/><circle cx="-17" cy="21" r="5.2" fill="url(#gC)"/><circle cx="-40.9" cy="-83.5" r="5.1" fill="url(#gC)"/><circle cx="20.5" cy="-23.2" r="4.6" fill="url(#gC)"/><circle cx="-47" cy="-45.1" r="4.9" fill="url(#gC)"/><circle cx="77.9" cy="106.2" r="5.2" fill="url(#gC)"/><circle cx="-26" cy="36.1" r="5.2" fill="url(#gC)"/><circle cx="37.3" cy="-51.6" r="5.1" fill="url(#gC)"/><circle cx="22.4" cy="-21.6" r="4.9" fill="url(#gC)"/><circle cx="42.7" cy="-74.5" r="4.6" fill="url(#gC)"/><circle cx="-36.4" cy="80.8" r="5.1" fill="url(#gC)"/><circle cx="-37.3" cy="-81.7" r="5" fill="url(#gC)"/><circle cx="21.4" cy="21" r="5.2" fill="url(#gC)"/><circle cx="-36.9" cy="63.9" r="4.6" fill="url(#gC)"/><circle cx="-47.7" cy="47.5" r="5" fill="url(#gC)"/><circle cx="70" cy="112.4" r="4.8" fill="url(#gC)"/><circle cx="36.4" cy="-61.5" r="4.9" fill="url(#gC)"/><circle cx="-27.6" cy="-28" r="5.1" fill="url(#gC)"/><circle cx="-33" cy="60.5" r="4.9" fill="url(#gC)"/><circle cx="-29.2" cy="-71.8" r="5.2" fill="url(#gC)"/><circle cx="-53.1" cy="-107.4" r="5.2" fill="url(#gC)"/><circle cx="31.7" cy="33.5" r="4.7" fill="url(#gC)"/><circle cx="50.3" cy="72.4" r="5.1" fill="url(#gC)"/><circle cx="-47.7" cy="97.7" r="5.1" fill="url(#gC)"/><circle cx="-75.9" cy="-112.6" r="4.9" fill="url(#gC)"/><circle cx="31.9" cy="-58.3" r="4.9" fill="url(#gC)"/><circle cx="21" cy="-29.5" r="5.1" fill="url(#gC)"/><circle cx="-59" cy="-117.8" r="4.9" fill="url(#gC)"/><circle cx="27.4" cy="-31.1" r="4.8" fill="url(#gC)"/><circle cx="-18.4" cy="109" r="5" fill="url(#gC)"/><circle cx="24.9" cy="22.7" r="4.6" fill="url(#gC)"/><circle cx="38.4" cy="-49.1" r="5.2" fill="url(#gC)"/><circle cx="27" cy="35.2" r="4.9" fill="url(#gC)"/><circle cx="22.5" cy="25" r="4.9" fill="url(#gC)"/><circle cx="-26" cy="-28.1" r="4.8" fill="url(#gC)"/><circle cx="32" cy="42" r="4.6" fill="url(#gC)"/><circle cx="-34.6" cy="-83.5" r="4.6" fill="url(#gC)"/><circle cx="-76.1" cy="-105.1" r="4.8" fill="url(#gC)"/><circle cx="36.4" cy="44.5" r="4.9" fill="url(#gC)"/><circle cx="47.5" cy="67.3" r="4.8" fill="url(#gC)"/><circle cx="74.2" cy="-117.8" r="4.8" fill="url(#gC)"/><circle cx="-32.5" cy="51.5" r="5" fill="url(#gC)"/><circle cx="47.2" cy="-81.7" r="4.7" fill="url(#gC)"/><circle cx="19.8" cy="16.5" r="4.9" fill="url(#gC)"/><circle cx="49.8" cy="58.2" r="5" fill="url(#gC)"/><circle cx="-15" cy="20" r="4.6" fill="url(#gC)"/><circle cx="-62.1" cy="-117.8" r="5.2" fill="url(#gC)"/><circle cx="20.4" cy="-23.1" r="5.1" fill="url(#gC)"/><circle cx="52" cy="69.6" r="5.2" fill="url(#gC)"/><circle cx="-63.2" cy="-125.2" r="4.7" fill="url(#gC)"/><circle cx="87" cy="-113.8" r="4.7" fill="url(#gC)"/><circle cx="-18.4" cy="83.1" r="5.2" fill="url(#gC)"/><circle cx="18.5" cy="0" r="5.1" fill="url(#gC)"/><circle cx="21.8" cy="-25.6" r="4.7" fill="url(#gC)"/><circle cx="18.6" cy="-18.5" r="4.7" fill="url(#gC)"/><circle cx="50.2" cy="44.8" r="4.7" fill="url(#gC)"/><circle cx="-38.2" cy="-85.3" r="4.8" fill="url(#gC)"/><circle cx="-47.2" cy="-96.1" r="4.8" fill="url(#gC)"/><circle cx="-22.7" cy="-19.9" r="4.7" fill="url(#gC)"/><circle cx="-23" cy="29" r="4.6" fill="url(#gC)"/><circle cx="74.7" cy="-114.2" r="4.8" fill="url(#gC)"/><circle cx="-38.7" cy="74.1" r="4.9" fill="url(#gC)"/><circle cx="27.2" cy="-43.8" r="4.8" fill="url(#gC)"/><circle cx="32.2" cy="36.9" r="4.7" fill="url(#gC)"/><circle cx="-29.6" cy="67.8" r="4.6" fill="url(#gC)"/><circle cx="-11.8" cy="7.1" r="4.9" fill="url(#gC)"/><circle cx="-38.1" cy="-42.7" r="4.9" fill="url(#gC)"/><circle cx="35.7" cy="45.9" r="5.2" fill="url(#gC)"/><circle cx="37.9" cy="49.2" r="4.8" fill="url(#gC)"/><circle cx="-50.3" cy="-37" r="4.7" fill="url(#gC)"/><circle cx="-36.1" cy="-45.1" r="4.9" fill="url(#gC)"/><circle cx="12.4" cy="12.4" r="5.1" fill="url(#gC)"/><circle cx="-7.1" cy="11.8" r="5.2" fill="url(#gC)"/><circle cx="52.2" cy="-84.4" r="4.6" fill="url(#gC)"/><circle cx="-52.1" cy="107.3" r="4.9" fill="url(#gC)"/><circle cx="50.9" cy="70.7" r="4.6" fill="url(#gC)"/><circle cx="55.3" cy="-84" r="5.2" fill="url(#gC)"/><circle cx="25.9" cy="-32.9" r="5.2" fill="url(#gC)"/><circle cx="-38.2" cy="-76.3" r="4.6" fill="url(#gC)"/><circle cx="-23" cy="-22.8" r="5.2" fill="url(#gC)"/><circle cx="44.1" cy="51.5" r="5.1" fill="url(#gC)"/><circle cx="-59" cy="40.3" r="4.7" fill="url(#gC)"/><circle cx="32.3" cy="-55.1" r="4.8" fill="url(#gC)"/><circle cx="-25.1" cy="38" r="5.2" fill="url(#gC)"/><circle cx="26.9" cy="31" r="5.2" fill="url(#gC)"/><circle cx="25.5" cy="30.2" r="4.7" fill="url(#gC)"/><circle cx="23.8" cy="18.8" r="4.8" fill="url(#gC)"/><circle cx="-63.5" cy="-108.8" r="4.9" fill="url(#gC)"/><circle cx="81.8" cy="104.5" r="5" fill="url(#gC)"/><circle cx="-29.2" cy="-66.2" r="4.6" fill="url(#gC)"/><circle cx="19.9" cy="18.4" r="5" fill="url(#gC)"/><circle cx="77.9" cy="109" r="4.9" fill="url(#gC)"/><circle cx="25" cy="-46.8" r="4.9" fill="url(#gC)"/><circle cx="-0" cy="-18.5" r="4.7" fill="url(#gC)"/><circle cx="-26" cy="-65.4" r="5" fill="url(#gC)"/><circle cx="-56.7" cy="100" r="4.9" fill="url(#gC)"/><circle cx="28.9" cy="37" r="4.8" fill="url(#gC)"/><circle cx="-39.1" cy="-88.9" r="5.2" fill="url(#gC)"/><circle cx="24.6" cy="-30.5" r="5.2" fill="url(#gC)"/><circle cx="-20.6" cy="28.9" r="5" fill="url(#gC)"/><circle cx="-19" cy="25.8" r="5.2" fill="url(#gC)"/><circle cx="-15.8" cy="-13.2" r="4.8" fill="url(#gC)"/><circle cx="88" cy="109" r="5.1" fill="url(#gC)"/><circle cx="44.7" cy="91" r="5.1" fill="url(#gC)"/><circle cx="23.5" cy="31.1" r="5.1" fill="url(#gC)"/><circle cx="-73.4" cy="-103.3" r="5.2" fill="url(#gC)"/><circle cx="-79.2" cy="-113.7" r="4.8" fill="url(#gN)"/><circle cx="27.1" cy="-35.2" r="4.7" fill="url(#gC)"/><circle cx="23" cy="26.2" r="4.7" fill="url(#gC)"/><circle cx="-24" cy="-25.4" r="5.1" fill="url(#gC)"/><circle cx="-36.4" cy="69.5" r="4.7" fill="url(#gC)"/><circle cx="-26.1" cy="35.1" r="5" fill="url(#gC)"/><circle cx="-23" cy="35.2" r="4.6" fill="url(#gC)"/><circle cx="54.2" cy="74.1" r="4.8" fill="url(#gC)"/><circle cx="-68" cy="-110.2" r="4.8" fill="url(#gC)"/><circle cx="-45.9" cy="-90.7" r="4.8" fill="url(#gC)"/><circle cx="-52.2" cy="93.2" r="5" fill="url(#gC)"/><circle cx="-18.6" cy="-17.1" r="4.8" fill="url(#gC)"/><circle cx="58" cy="-102.9" r="4.6" fill="url(#gC)"/><circle cx="-25.1" cy="32.8" r="4.6" fill="url(#gC)"/><circle cx="-48.6" cy="-41.1" r="4.7" fill="url(#gC)"/><circle cx="57.1" cy="-30.6" r="5.1" fill="url(#gC)"/><circle cx="-16.1" cy="107.3" r="5.2" fill="url(#gC)"/><circle cx="53.5" cy="-99.7" r="4.9" fill="url(#gN)"/><circle cx="-14.6" cy="-9.4" r="4.7" fill="url(#gC)"/><circle cx="-11.8" cy="-7.1" r="4.6" fill="url(#gC)"/><circle cx="-13.9" cy="16.6" r="4.8" fill="url(#gC)"/><circle cx="-68.4" cy="-124.5" r="4.6" fill="url(#gN)"/><circle cx="50.8" cy="14.3" r="5" fill="url(#gC)"/><circle cx="31.4" cy="-89.8" r="4.8" fill="url(#gC)"/><circle cx="-20" cy="21.9" r="4.7" fill="url(#gC)"/><circle cx="-16.1" cy="21.6" r="4.7" fill="url(#gC)"/><circle cx="-49.9" cy="-105.2" r="4.7" fill="url(#gC)"/><circle cx="82" cy="-114.9" r="4.9" fill="url(#gC)"/><circle cx="-37.5" cy="38" r="4.9" fill="url(#gC)"/><circle cx="-21" cy="-20" r="4.9" fill="url(#gC)"/><circle cx="-25" cy="-25.5" r="4.7" fill="url(#gC)"/><circle cx="-25" cy="-25.5" r="4.7" fill="url(#gC)"/><circle cx="52.6" cy="-91.6" r="5.2" fill="url(#gC)"/><circle cx="-27.6" cy="-48.4" r="5.2" fill="url(#gC)"/><circle cx="17.4" cy="-18" r="4.7" fill="url(#gC)"/><circle cx="-25.3" cy="-25.4" r="5" fill="url(#gC)"/><circle cx="-25" cy="33.8" r="4.7" fill="url(#gC)"/><circle cx="45.2" cy="87.6" r="4.9" fill="url(#gO)"/><circle cx="47.2" cy="-65.5" r="4.7" fill="url(#gC)"/><circle cx="-29" cy="37" r="4.9" fill="url(#gC)"/><circle cx="-45.1" cy="-26.8" r="4.7" fill="url(#gC)"/><circle cx="-49.9" cy="-101.5" r="5" fill="url(#gC)"/><circle cx="-24" cy="-25.4" r="4.8" fill="url(#gC)"/><circle cx="58.2" cy="75.7" r="4.8" fill="url(#gC)"/><circle cx="56.2" cy="-34.7" r="5" fill="url(#gC)"/><circle cx="-24.2" cy="39.2" r="5" fill="url(#gC)"/><circle cx="36.8" cy="43.6" r="4.8" fill="url(#gC)"/><circle cx="21.5" cy="23.6" r="5" fill="url(#gC)"/><circle cx="-40.9" cy="67.3" r="4.6" fill="url(#gC)"/><circle cx="-22.3" cy="39.7" r="5" fill="url(#gC)"/><circle cx="-42.2" cy="-24.8" r="4.6" fill="url(#gC)"/><circle cx="-22.7" cy="29.5" r="4.8" fill="url(#gC)"/><circle cx="-52.2" cy="98.8" r="5" fill="url(#gC)"/><circle cx="49.7" cy="27.3" r="5.2" fill="url(#gC)"/><circle cx="71.1" cy="89.8" r="4.9" fill="url(#gC)"/><circle cx="-16.6" cy="16.6" r="4.8" fill="url(#gC)"/><circle cx="36" cy="-46.3" r="4.7" fill="url(#gC)"/><circle cx="-39.8" cy="70.7" r="5.2" fill="url(#gC)"/><circle cx="44.1" cy="94.4" r="5.1" fill="url(#gC)"/><circle cx="59" cy="-27" r="4.7" fill="url(#gC)"/><circle cx="11.8" cy="-7.1" r="5" fill="url(#gC)"/><circle cx="31" cy="-80.8" r="4.9" fill="url(#gC)"/><circle cx="-18.4" cy="26.7" r="4.7" fill="url(#gC)"/><circle cx="50.8" cy="31.2" r="5.1" fill="url(#gC)"/><circle cx="-35.3" cy="78.6" r="4.6" fill="url(#gC)"/><circle cx="45.4" cy="-51.2" r="4.6" fill="url(#gC)"/><circle cx="-7.1" cy="-11.8" r="5" fill="url(#gC)"/><circle cx="-42.6" cy="-43.9" r="5.1" fill="url(#gC)"/><circle cx="-20.7" cy="31" r="5.2" fill="url(#gC)"/><circle cx="-31.9" cy="-72.7" r="5.1" fill="url(#gC)"/><circle cx="89.2" cy="-109.9" r="5.2" fill="url(#gC)"/><circle cx="-31.9" cy="77.4" r="5" fill="url(#gC)"/><circle cx="-34.6" cy="-77.2" r="4.7" fill="url(#gC)"/><circle cx="22.5" cy="27.4" r="4.6" fill="url(#gC)"/><circle cx="-20.2" cy="35.9" r="4.7" fill="url(#gC)"/><circle cx="-56.7" cy="120.3" r="4.9" fill="url(#gC)"/><circle cx="-25.2" cy="-24" r="4.9" fill="url(#gC)"/><circle cx="31.2" cy="39.1" r="5" fill="url(#gC)"/><circle cx="22.9" cy="23.6" r="4.6" fill="url(#gC)"/><circle cx="35.5" cy="-103.3" r="4.7" fill="url(#gC)"/><circle cx="49.7" cy="18.8" r="4.6" fill="url(#gC)"/><circle cx="45.4" cy="-73.6" r="5.1" fill="url(#gC)"/><circle cx="19.2" cy="-20.9" r="4.9" fill="url(#gC)"/><circle cx="-35.5" cy="-71.8" r="4.7" fill="url(#gC)"/><circle cx="12.4" cy="-12.4" r="5" fill="url(#gC)"/><circle cx="-23.9" cy="-22.7" r="4.7" fill="url(#gC)"/><circle cx="-28.4" cy="-63" r="4.6" fill="url(#gC)"/><circle cx="-16.4" cy="21.2" r="5.2" fill="url(#gC)"/><circle cx="-39.8" cy="93.2" r="4.9" fill="url(#gD)"/><circle cx="39.6" cy="66.2" r="5.1" fill="url(#gC)"/><circle cx="-25" cy="40" r="5.2" fill="url(#gC)"/><circle cx="72.4" cy="-112.4" r="4.9" fill="url(#gC)"/><circle cx="5.9" cy="20.7" r="5" fill="url(#gC)"/><circle cx="-19" cy="25.8" r="4.9" fill="url(#gC)"/><circle cx="-74.3" cy="-108.3" r="5.1" fill="url(#gC)"/><circle cx="44.5" cy="-68.7" r="4.9" fill="url(#gC)"/><circle cx="-21.2" cy="36.3" r="4.7" fill="url(#gC)"/><circle cx="-17.6" cy="-17" r="5.1" fill="url(#gC)"/><circle cx="44.9" cy="-52.6" r="4.6" fill="url(#gC)"/><circle cx="-17.4" cy="17.3" r="5.2" fill="url(#gC)"/><circle cx="49.7" cy="49.3" r="5.1" fill="url(#gC)"/><circle cx="-51.9" cy="-22.4" r="5.1" fill="url(#gC)"/><circle cx="-19.5" cy="27.3" r="5.2" fill="url(#gC)"/><circle cx="16" cy="-20" r="5" fill="url(#gC)"/><circle cx="-47.9" cy="-28.8" r="5.2" fill="url(#gC)"/><circle cx="-19.5" cy="41.4" r="4.9" fill="url(#gC)"/><circle cx="5.9" cy="-20.7" r="5.2" fill="url(#gC)"/><circle cx="-21" cy="-90.8" r="4.9" fill="url(#gC)"/><circle cx="16.6" cy="-16.6" r="4.7" fill="url(#gC)"/><circle cx="-25" cy="-28" r="4.8" fill="url(#gC)"/><circle cx="-58.9" cy="110.7" r="4.8" fill="url(#gC)"/><circle cx="51.4" cy="74.6" r="5.1" fill="url(#gC)"/><circle cx="-24.3" cy="-25.2" r="5.2" fill="url(#gC)"/><circle cx="-67.1" cy="-105.2" r="4.7" fill="url(#gC)"/><circle cx="-43.2" cy="77.4" r="4.9" fill="url(#gC)"/><circle cx="34.4" cy="-49.1" r="5" fill="url(#gC)"/><circle cx="-39.9" cy="-74.7" r="5.2" fill="url(#gC)"/><circle cx="77" cy="-116" r="5.1" fill="url(#gC)"/><circle cx="52" cy="65" r="4.7" fill="url(#gC)"/><circle cx="-50" cy="95.4" r="5.2" fill="url(#gC)"/><circle cx="-21.8" cy="95.5" r="5" fill="url(#gC)"/><circle cx="28.5" cy="37.9" r="4.6" fill="url(#gC)"/><circle cx="-24" cy="31.4" r="4.8" fill="url(#gC)"/><circle cx="-32.1" cy="-69.9" r="5" fill="url(#gC)"/><circle cx="-21.2" cy="87.6" r="4.9" fill="url(#gC)"/><circle cx="-35.6" cy="-68.2" r="4.8" fill="url(#gC)"/><circle cx="-24" cy="-24.1" r="4.8" fill="url(#gC)"/><circle cx="-19.7" cy="22.3" r="4.8" fill="url(#gC)"/><circle cx="69.7" cy="-125.9" r="5" fill="url(#gC)"/><circle cx="17.4" cy="18.8" r="4.9" fill="url(#gC)"/><circle cx="30.5" cy="-46.6" r="5.2" fill="url(#gC)"/><circle cx="27.5" cy="-31.2" r="5" fill="url(#gC)"/><circle cx="-29" cy="-31" r="4.7" fill="url(#gC)"/><circle cx="48.6" cy="75.2" r="4.7" fill="url(#gC)"/><circle cx="15.9" cy="14.3" r="4.7" fill="url(#gC)"/><circle cx="73.4" cy="93.7" r="5.2" fill="url(#gC)"/><circle cx="-56.2" cy="-106" r="5.1" fill="url(#gC)"/><circle cx="18.5" cy="-24.8" r="4.9" fill="url(#gC)"/><circle cx="20.7" cy="5.9" r="4.7" fill="url(#gC)"/><circle cx="58.7" cy="74.1" r="5" fill="url(#gC)"/><circle cx="-20.7" cy="-5.9" r="4.7" fill="url(#gC)"/><circle cx="-12.4" cy="12.4" r="5" fill="url(#gC)"/><circle cx="32.9" cy="48.1" r="5.2" fill="url(#gC)"/><circle cx="45" cy="-70" r="5.1" fill="url(#gC)"/><circle cx="33.7" cy="-62.8" r="4.7" fill="url(#gC)"/><circle cx="-20.7" cy="5.9" r="5.1" fill="url(#gC)"/><circle cx="50.4" cy="-81.3" r="4.7" fill="url(#gC)"/><circle cx="-17.5" cy="-99.8" r="5.1" fill="url(#gC)"/><circle cx="-21" cy="-22.5" r="4.7" fill="url(#gC)"/><circle cx="-27.9" cy="72.3" r="5.1" fill="url(#gC)"/><circle cx="45.2" cy="48.1" r="4.8" fill="url(#gC)"/><circle cx="-19.2" cy="-95.3" r="4.8" fill="url(#gC)"/><circle cx="43.5" cy="100" r="5" fill="url(#gC)"/><circle cx="-16.6" cy="-16.6" r="4.9" fill="url(#gC)"/><circle cx="43.6" cy="66.7" r="4.9" fill="url(#gC)"/><circle cx="-26.9" cy="-74.5" r="5.2" fill="url(#gC)"/><circle cx="-23.9" cy="-24" r="5" fill="url(#gC)"/><circle cx="-48.8" cy="51.5" r="5.1" fill="url(#gC)"/><circle cx="53.1" cy="-86.2" r="5.1" fill="url(#gC)"/><circle cx="20.6" cy="-25.1" r="4.9" fill="url(#gC)"/><circle cx="-36.4" cy="-82.6" r="4.8" fill="url(#gC)"/><circle cx="49.9" cy="-50.5" r="4.7" fill="url(#gC)"/><circle cx="47.5" cy="61.6" r="4.9" fill="url(#gC)"/><circle cx="-26.2" cy="-68.2" r="5" fill="url(#gC)"/><circle cx="17.5" cy="20.6" r="4.9" fill="url(#gC)"/><circle cx="-44.5" cy="-85.3" r="5.2" fill="url(#gC)"/><circle cx="-39.1" cy="-70.9" r="4.7" fill="url(#gC)"/><circle cx="27.5" cy="31.7" r="5.2" fill="url(#gC)"/><circle cx="-63.5" cy="112.4" r="5" fill="url(#gC)"/><circle cx="37.3" cy="-75.4" r="4.7" fill="url(#gC)"/><circle cx="-24.3" cy="-24" r="5.2" fill="url(#gC)"/><circle cx="-41" cy="75.7" r="5.2" fill="url(#gC)"/><circle cx="26.5" cy="36.4" r="4.7" fill="url(#gC)"/><circle cx="21.6" cy="-25.4" r="5" fill="url(#gC)"/><circle cx="41.8" cy="32.4" r="4.8" fill="url(#gC)"/><circle cx="44.5" cy="-93.4" r="5" fill="url(#gC)"/><circle cx="26.1" cy="-28.7" r="4.7" fill="url(#gC)"/><circle cx="-22.2" cy="40.7" r="4.7" fill="url(#gC)"/><circle cx="27.5" cy="-31.2" r="5.1" fill="url(#gC)"/><circle cx="-79.2" cy="112.4" r="4.7" fill="url(#gN)"/><circle cx="31.9" cy="-76.3" r="5" fill="url(#gO)"/><circle cx="29.4" cy="35.9" r="4.8" fill="url(#gC)"/><circle cx="-21" cy="-22.5" r="4.7" fill="url(#gC)"/><circle cx="76.1" cy="-123.2" r="4.8" fill="url(#gC)"/><circle cx="20" cy="-17" r="4.9" fill="url(#gC)"/><circle cx="-24.9" cy="-24.1" r="4.7" fill="url(#gC)"/><circle cx="-79.2" cy="100" r="4.8" fill="url(#gC)"/><circle cx="-27" cy="-28.2" r="4.8" fill="url(#gC)"/><circle cx="24" cy="30" r="5.1" fill="url(#gC)"/><circle cx="19.2" cy="-20.9" r="5" fill="url(#gC)"/><circle cx="28.3" cy="-31.5" r="5.1" fill="url(#gC)"/><circle cx="25" cy="-26.5" r="4.6" fill="url(#gC)"/><circle cx="26.4" cy="-37.5" r="4.8" fill="url(#gC)"/><circle cx="49" cy="-96.6" r="5.2" fill="url(#gC)"/><circle cx="-31.6" cy="-45.5" r="4.9" fill="url(#gC)"/><circle cx="28" cy="39" r="4.9" fill="url(#gC)"/><circle cx="50.8" cy="-76.8" r="5.1" fill="url(#gC)"/><circle cx="-24" cy="92.1" r="4.8" fill="url(#gO)"/><circle cx="-66.8" cy="-121.2" r="5" fill="url(#gC)"/><circle cx="-53.1" cy="-103.8" r="4.7" fill="url(#gC)"/><circle cx="48.1" cy="71.2" r="5" fill="url(#gC)"/><circle cx="28.4" cy="-36" r="4.8" fill="url(#gC)"/><circle cx="-22.9" cy="-93" r="4.8" fill="url(#gC)"/><circle cx="-58.5" cy="-121.9" r="5.2" fill="url(#gC)"/><circle cx="29.4" cy="-40.8" r="4.8" fill="url(#gN)"/><circle cx="22.9" cy="-107.8" r="5.1" fill="url(#gO)"/><circle cx="42.9" cy="105.6" r="4.7" fill="url(#gO)"/><circle cx="35.1" cy="72.9" r="5.1" fill="url(#gO)"/><circle cx="-70.2" cy="123.7" r="4.5" fill="url(#gN)"/><circle cx="-24.7" cy="-95.2" r="4.7" fill="url(#gO)"/><circle cx="-16.6" cy="-109.7" r="4.7" fill="url(#gO)"/><circle cx="32.8" cy="-94.3" r="5.1" fill="url(#gO)"/><circle cx="90.3" cy="112.4" r="4.6" fill="url(#gN)"/><circle cx="26" cy="43.6" r="3.9" fill="url(#gH)"/><circle cx="-22" cy="-76.3" r="4.7" fill="url(#gO)"/><circle cx="33.9" cy="34.6" r="3.8" fill="url(#gH)"/><circle cx="-24" cy="72.9" r="5.1" fill="url(#gO)"/><circle cx="71.1" cy="97.7" r="4" fill="url(#gH)"/><circle cx="24.7" cy="-87.1" r="3.8" fill="url(#gH)"/><circle cx="40.7" cy="20" r="3.7" fill="url(#gH)"/><circle cx="59.9" cy="83.1" r="3.5" fill="url(#gH)"/><circle cx="-50.3" cy="-50" r="3.8" fill="url(#gH)"/><circle cx="-19.3" cy="-85.3" r="3.5" fill="url(#gH)"/><circle cx="54.2" cy="16.6" r="3.7" fill="url(#gH)"/><circle cx="-15.7" cy="-120.5" r="3.6" fill="url(#gH)"/><circle cx="84.6" cy="95.5" r="3.6" fill="url(#gH)"/><circle cx="-41.4" cy="-25.6" r="3.5" fill="url(#gH)"/><circle cx="-13.9" cy="105.6" r="4.7" fill="url(#gO)"/><circle cx="46.3" cy="11" r="3.6" fill="url(#gH)"/><circle cx="-47.2" cy="-70.9" r="3.6" fill="url(#gH)"/><circle cx="-13" cy="-87.1" r="3.6" fill="url(#gH)"/><circle cx="-41.4" cy="-43.5" r="4" fill="url(#gH)"/><circle cx="-21.9" cy="-45.9" r="3.7" fill="url(#gH)"/><circle cx="-79.7" cy="-120" r="3.7" fill="url(#gH)"/><circle cx="-56.8" cy="-28.8" r="3.5" fill="url(#gH)"/><circle cx="-28.3" cy="-106.9" r="3.6" fill="url(#gH)"/><circle cx="-28.3" cy="-81.7" r="3.7" fill="url(#gH)"/><circle cx="64.3" cy="-121.4" r="3.9" fill="url(#gH)"/><circle cx="56.5" cy="38" r="3.8" fill="url(#gH)"/><circle cx="81.3" cy="121.4" r="4.8" fill="url(#gN)"/><circle cx="64.4" cy="89.8" r="3.6" fill="url(#gH)"/><circle cx="-22.7" cy="-57.3" r="3.8" fill="url(#gH)"/><circle cx="52.6" cy="-29.7" r="3.9" fill="url(#gH)"/><circle cx="-30.8" cy="-38.6" r="3.7" fill="url(#gH)"/><circle cx="57.6" cy="48.1" r="3.7" fill="url(#gH)"/><circle cx="-50.8" cy="-94.3" r="3.8" fill="url(#gH)"/><circle cx="-25.1" cy="116.9" r="3.9" fill="url(#gH)"/><circle cx="-53.3" cy="92.1" r="3.9" fill="url(#gH)"/><circle cx="-50.3" cy="-21.5" r="3.6" fill="url(#gH)"/><circle cx="-49.9" cy="80.8" r="3.5" fill="url(#gH)"/><circle cx="-22.9" cy="60.5" r="3.8" fill="url(#gH)"/><circle cx="66.6" cy="111.3" r="3.6" fill="url(#gH)"/><circle cx="-63.5" cy="29" r="3.9" fill="url(#gH)"/><circle cx="58.9" cy="-103.3" r="3.8" fill="url(#gH)"/><circle cx="56.2" cy="-73.6" r="3.9" fill="url(#gH)"/><circle cx="-75.2" cy="-125" r="3.7" fill="url(#gH)"/><circle cx="-44.3" cy="38" r="3.9" fill="url(#gH)"/><circle cx="-13.9" cy="114.6" r="3.9" fill="url(#gH)"/><circle cx="36.4" cy="-86.2" r="3.9" fill="url(#gH)"/><circle cx="-26.5" cy="-117.8" r="4" fill="url(#gH)"/><circle cx="-13.9" cy="96.6" r="3.7" fill="url(#gH)"/><circle cx="-53.3" cy="118" r="3.9" fill="url(#gH)"/><circle cx="53.1" cy="109" r="3.8" fill="url(#gH)"/><circle cx="-44.3" cy="87.6" r="3.8" fill="url(#gH)"/><circle cx="-60.8" cy="-101.5" r="3.7" fill="url(#gH)"/><circle cx="35.1" cy="97.7" r="3.8" fill="url(#gH)"/><circle cx="-29.7" cy="35.8" r="3.8" fill="url(#gH)"/><circle cx="62.5" cy="-39.3" r="3.6" fill="url(#gH)"/><circle cx="44.1" cy="25.6" r="3.9" fill="url(#gH)"/><circle cx="-56.7" cy="35.8" r="3.5" fill="url(#gH)"/><circle cx="62.5" cy="-24.3" r="3.7" fill="url(#gH)"/><circle cx="-21" cy="-22.4" r="3.6" fill="url(#gH)"/><circle cx="47.2" cy="-33.3" r="4" fill="url(#gH)"/><circle cx="-48.7" cy="-58.9" r="3.6" fill="url(#gH)"/><circle cx="-22.9" cy="112.4" r="3.6" fill="url(#gH)"/><circle cx="-45.4" cy="-70.2" r="3.7" fill="url(#gH)"/><circle cx="8" cy="-26.3" r="3.9" fill="url(#gH)"/><circle cx="-44.6" cy="-32.9" r="4" fill="url(#gH)"/><circle cx="8" cy="26.3" r="3.6" fill="url(#gH)"/><circle cx="41.8" cy="-97.9" r="3.8" fill="url(#gH)"/><circle cx="50.8" cy="96.6" r="3.7" fill="url(#gH)"/><circle cx="34.6" cy="-115.1" r="3.7" fill="url(#gH)"/><circle cx="31" cy="-106.9" r="3.9" fill="url(#gH)"/><circle cx="81" cy="-122.8" r="3.7" fill="url(#gH)"/><circle cx="62.5" cy="-88.9" r="3.7" fill="url(#gH)"/><circle cx="-27.4" cy="30.1" r="3.8" fill="url(#gH)"/><circle cx="-18.6" cy="-63.8" r="3.9" fill="url(#gH)"/><circle cx="-53.3" cy="45.9" r="3.9" fill="url(#gH)"/><circle cx="-48.8" cy="27.9" r="3.7" fill="url(#gH)"/><circle cx="-25.1" cy="103.4" r="3.5" fill="url(#gH)"/><circle cx="-12" cy="-97.9" r="3.9" fill="url(#gH)"/><circle cx="57.1" cy="-61" r="3.8" fill="url(#gH)"/><circle cx="39.1" cy="-101.5" r="3.7" fill="url(#gH)"/><circle cx="46.3" cy="114.6" r="3.9" fill="url(#gH)"/><circle cx="-40.9" cy="48.1" r="3.8" fill="url(#gH)"/><circle cx="40.9" cy="-39.3" r="3.7" fill="url(#gH)"/><circle cx="42.9" cy="76.3" r="3.8" fill="url(#gH)"/><circle cx="68.9" cy="80.8" r="3.7" fill="url(#gH)"/><circle cx="30.6" cy="60.5" r="3.9" fill="url(#gH)"/><circle cx="-61.2" cy="100" r="3.6" fill="url(#gH)"/><circle cx="-53.3" cy="58.3" r="3.8" fill="url(#gH)"/><circle cx="26.3" cy="8" r="3.7" fill="url(#gH)"/><circle cx="67" cy="-109.7" r="3.5" fill="url(#gH)"/><circle cx="24.7" cy="-53.7" r="3.7" fill="url(#gH)"/><circle cx="24.7" cy="-119.6" r="3.8" fill="url(#gH)"/><circle cx="58.7" cy="60.5" r="3.7" fill="url(#gH)"/><circle cx="45.2" cy="45.9" r="3.7" fill="url(#gH)"/><circle cx="-8" cy="-26.3" r="3.5" fill="url(#gH)"/><circle cx="82.4" cy="-101.5" r="4" fill="url(#gH)"/><circle cx="52" cy="105.6" r="3.9" fill="url(#gH)"/><circle cx="49.7" cy="85.3" r="3.6" fill="url(#gH)"/><circle cx="-44.5" cy="-91.6" r="3.6" fill="url(#gH)"/><circle cx="23.8" cy="-31.5" r="3.6" fill="url(#gH)"/><circle cx="-12.8" cy="94.4" r="3.9" fill="url(#gH)"/><circle cx="29.2" cy="-63.7" r="3.5" fill="url(#gH)"/><circle cx="-19.3" cy="-97" r="3.6" fill="url(#gH)"/><circle cx="-20.6" cy="22.2" r="3.7" fill="url(#gH)"/><circle cx="-26.3" cy="8" r="3.8" fill="url(#gH)"/><circle cx="-38.1" cy="-54" r="3.7" fill="url(#gH)"/><circle cx="29.4" cy="29" r="3.6" fill="url(#gH)"/><circle cx="21" cy="-97.9" r="3.6" fill="url(#gH)"/><circle cx="-8" cy="26.3" r="3.8" fill="url(#gH)"/><circle cx="-27.6" cy="-32.1" r="3.8" fill="url(#gH)"/><circle cx="55.3" cy="27.9" r="3.7" fill="url(#gH)"/><circle cx="-27.4" cy="83.1" r="3.6" fill="url(#gH)"/><circle cx="20.4" cy="21.1" r="4" fill="url(#gH)"/><circle cx="29.4" cy="53.8" r="3.7" fill="url(#gH)"/><circle cx="36.2" cy="80.8" r="3.6" fill="url(#gH)"/><circle cx="-20.6" cy="53.8" r="3.7" fill="url(#gH)"/><circle cx="-16.1" cy="84.2" r="3.7" fill="url(#gH)"/><circle cx="15.6" cy="-21.6" r="3.7" fill="url(#gH)"/><circle cx="64.3" cy="-31.5" r="4" fill="url(#gH)"/><circle cx="-17.3" cy="41.4" r="3.7" fill="url(#gH)"/><circle cx="50.8" cy="-41.1" r="3.6" fill="url(#gH)"/><circle cx="-75.9" cy="122.5" r="3.6" fill="url(#gH)"/><circle cx="-31.9" cy="94.4" r="3.6" fill="url(#gH)"/><circle cx="-47.7" cy="71.8" r="4" fill="url(#gH)"/><circle cx="-43.2" cy="57.2" r="3.9" fill="url(#gH)"/><circle cx="26.3" cy="-8" r="3.9" fill="url(#gH)"/><circle cx="-57.8" cy="21.1" r="3.7" fill="url(#gH)"/><circle cx="45.2" cy="35.8" r="3.6" fill="url(#gH)"/><circle cx="-68.9" cy="-100.6" r="3.6" fill="url(#gH)"/><circle cx="-68" cy="96.6" r="3.6" fill="url(#gH)"/><circle cx="-53.5" cy="-39.4" r="4" fill="url(#gH)"/><circle cx="-33.7" cy="-93.4" r="3.7" fill="url(#gH)"/><circle cx="-53.5" cy="-114.2" r="3.7" fill="url(#gH)"/><circle cx="59.8" cy="-50.1" r="3.5" fill="url(#gH)"/><circle cx="-26.3" cy="-8" r="3.9" fill="url(#gH)"/><circle cx="38.4" cy="91" r="3.9" fill="url(#gH)"/><path d="M0,-7 L2.5,-2.5 L7,0 L2.5,2.5 L0,7 L-2.5,2.5 L-7,0 L-2.5,-2.5Z" fill="#fff"/><circle cx="-0.5" cy="-9.8" r="5" fill="url(#gN)"/><circle cx="-9.8" cy="0" r="5" fill="url(#gN)"/><circle cx="9.4" cy="0" r="5" fill="url(#gN)"/><circle cx="0" cy="9.8" r="5" fill="url(#gN)"/></g><g id="colS"><g fill="#5a5a5a" opacity="0.55"><circle cx="39.7" cy="199.1" r="4.1"/><circle cx="11.7" cy="437.2" r="4.1"/><circle cx="32.7" cy="225.5" r="4.1"/><circle cx="24.3" cy="139.1" r="4.1"/><circle cx="7.9" cy="85.2" r="4.1"/><circle cx="23.5" cy="345.2" r="4.1"/><circle cx="12.7" cy="325.3" r="4.1"/><circle cx="19.2" cy="450" r="4.1"/><circle cx="44.4" cy="325.6" r="4.1"/><circle cx="22.7" cy="427.9" r="4.1"/><circle cx="8.3" cy="436.7" r="4.1"/><circle cx="22.3" cy="301.9" r="4.1"/><circle cx="42.1" cy="385.5" r="4.1"/><circle cx="36.2" cy="308.9" r="4.1"/><circle cx="28.2" cy="209.9" r="4.1"/><circle cx="24.6" cy="416.5" r="4.1"/><circle cx="23.8" cy="352.7" r="4.1"/><circle cx="18.5" cy="301" r="4.1"/><circle cx="28.9" cy="154" r="4.1"/><circle cx="18.6" cy="325" r="4.1"/><circle cx="40" cy="118.3" r="4.1"/><circle cx="34.6" cy="97.3" r="4.1"/><circle cx="21.5" cy="125.5" r="4.1"/><circle cx="4.2" cy="349" r="4.1"/><circle cx="40.8" cy="308.8" r="4.1"/><circle cx="2.8" cy="246.1" r="4.1"/><circle cx="14" cy="110.5" r="4.1"/><circle cx="6.6" cy="90.4" r="4.1"/><circle cx="21.6" cy="420.8" r="4.1"/><circle cx="43.6" cy="432.8" r="4.1"/><circle cx="23.4" cy="265.6" r="4.1"/><circle cx="18.3" cy="364.5" r="4.1"/><circle cx="8.3" cy="253.7" r="4.1"/><circle cx="37.7" cy="233.1" r="4.1"/><circle cx="23.2" cy="290.1" r="4.1"/><circle cx="29" cy="408.4" r="4.1"/><circle cx="37" cy="336.9" r="4.1"/><circle cx="33.5" cy="288.3" r="4.1"/><circle cx="34.8" cy="285.4" r="4.1"/><circle cx="44.1" cy="214.9" r="4.1"/><circle cx="6.6" cy="273.4" r="4.1"/><circle cx="4.2" cy="166" r="4.1"/><circle cx="27.7" cy="129.4" r="4.1"/><circle cx="11.3" cy="258" r="4.1"/><circle cx="46.2" cy="280.7" r="4.1"/><circle cx="34.8" cy="230.6" r="4.1"/><circle cx="11" cy="329.2" r="4.1"/><circle cx="6.6" cy="161.5" r="4.1"/><circle cx="11.8" cy="94.5" r="4.1"/><circle cx="34.8" cy="102.4" r="4.1"/><circle cx="13.2" cy="198.2" r="4.1"/><circle cx="23.5" cy="162.2" r="4.1"/><circle cx="23.2" cy="296.8" r="4.1"/><circle cx="19" cy="432.9" r="4.1"/><circle cx="16" cy="266.1" r="4.1"/><circle cx="16.3" cy="165.2" r="4.1"/><circle cx="24.1" cy="312.7" r="4.1"/><circle cx="10.8" cy="424.9" r="4.1"/><circle cx="25.5" cy="95.1" r="4.1"/><circle cx="8.3" cy="356.6" r="4.1"/><circle cx="24" cy="241.8" r="4.1"/><circle cx="14.6" cy="280.5" r="4.1"/><circle cx="39.8" cy="412.9" r="4.1"/><circle cx="37" cy="225.7" r="4.1"/><circle cx="38.4" cy="146.1" r="4.1"/><circle cx="33.8" cy="145" r="4.1"/><circle cx="27.9" cy="423.8" r="4.1"/><circle cx="7" cy="241.3" r="4.1"/><circle cx="25.9" cy="230.2" r="4.1"/><circle cx="43.8" cy="408.2" r="4.1"/><circle cx="39.7" cy="263" r="4.1"/><circle cx="44.4" cy="142.6" r="4.1"/><circle cx="15" cy="114.4" r="4.1"/><circle cx="35.9" cy="117.8" r="4.1"/><circle cx="20.3" cy="153.6" r="4.1"/><circle cx="27.9" cy="240.8" r="4.1"/><circle cx="20.3" cy="313.4" r="4.1"/><circle cx="11" cy="187" r="4.1"/><circle cx="4.7" cy="278.1" r="4.1"/><circle cx="6.6" cy="344.5" r="4.1"/><circle cx="16.3" cy="348.2" r="4.1"/><circle cx="43.8" cy="423.9" r="4.1"/><circle cx="40.8" cy="292.2" r="4.1"/><circle cx="42.4" cy="209" r="4.1"/><circle cx="10.5" cy="90.4" r="4.1"/><circle cx="20.4" cy="378" r="4.1"/><circle cx="23.3" cy="433.2" r="4.1"/><circle cx="28.2" cy="392.9" r="4.1"/><circle cx="9.2" cy="365.6" r="4.1"/><circle cx="34.2" cy="377.9" r="4.1"/><circle cx="24.4" cy="90.2" r="4.1"/><circle cx="22" cy="444.2" r="4.1"/><circle cx="22.2" cy="283.9" r="4.1"/><circle cx="14.9" cy="320.9" r="4.1"/><circle cx="41.4" cy="133.7" r="4.1"/><circle cx="22" cy="261.2" r="4.1"/><circle cx="11.7" cy="105.3" r="4.1"/><circle cx="27.8" cy="169.9" r="4.1"/><circle cx="40.8" cy="109.2" r="4.1"/><circle cx="35" cy="436.8" r="4.1"/><circle cx="40.3" cy="283.9" r="4.1"/><circle cx="17.8" cy="205.7" r="4.1"/><circle cx="24.4" cy="273.2" r="4.1"/><circle cx="5.5" cy="97.2" r="4.1"/><circle cx="16.1" cy="258.8" r="4.1"/><circle cx="34.8" cy="413.6" r="4.1"/><circle cx="22.3" cy="118.9" r="4.1"/><circle cx="40.7" cy="157.7" r="4.1"/><circle cx="43.1" cy="345.8" r="4.1"/><circle cx="38.4" cy="329.1" r="4.1"/><circle cx="28.9" cy="337" r="4.1"/><circle cx="10.2" cy="345.1" r="4.1"/><circle cx="38.8" cy="402.1" r="4.1"/><circle cx="17.7" cy="102.2" r="4.1"/><circle cx="24.2" cy="392.5" r="4.1"/><circle cx="18.1" cy="261.1" r="4.1"/><circle cx="32.7" cy="139.2" r="4.1"/><circle cx="15.6" cy="362" r="4.1"/><circle cx="21.5" cy="110.1" r="4.1"/><circle cx="20" cy="138.7" r="4.1"/><circle cx="37" cy="408.7" r="4.1"/><circle cx="13" cy="149" r="4.1"/><circle cx="13.9" cy="368.8" r="4.1"/><circle cx="36.2" cy="340.5" r="4.1"/><circle cx="21.5" cy="197.4" r="4.1"/><circle cx="32.3" cy="91" r="4.1"/><circle cx="21.3" cy="156.9" r="4.1"/><circle cx="31.1" cy="206.8" r="4.1"/><circle cx="35.2" cy="221.8" r="4.1"/><circle cx="34.5" cy="129.3" r="4.1"/><circle cx="10.8" cy="241.9" r="4.1"/><circle cx="9.2" cy="246.1" r="4.1"/><circle cx="20.3" cy="130.4" r="4.1"/><circle cx="36.7" cy="445.1" r="4.1"/><circle cx="8.3" cy="197.1" r="4.1"/><circle cx="6.3" cy="361.7" r="4.1"/><circle cx="34.2" cy="194.9" r="4.1"/><circle cx="35" cy="429.8" r="4.1"/><circle cx="32.7" cy="201.9" r="4.1"/><circle cx="14.7" cy="162.4" r="4.1"/><circle cx="6.6" cy="376.8" r="4.1"/><circle cx="24.6" cy="98.8" r="4.1"/><circle cx="16.5" cy="109.6" r="4.1"/><circle cx="28.8" cy="345.3" r="4.1"/><circle cx="29.5" cy="267.1" r="4.1"/><circle cx="15" cy="170.2" r="4.1"/><circle cx="37" cy="130.9" r="4.1"/><circle cx="39.8" cy="229.9" r="4.1"/><circle cx="8.3" cy="93.8" r="4.1"/><circle cx="19.8" cy="258.1" r="4.1"/><circle cx="27.9" cy="249.8" r="4.1"/><circle cx="23.1" cy="213.9" r="4.1"/><circle cx="20.2" cy="202.3" r="4.1"/><circle cx="30.1" cy="435.8" r="4.1"/><circle cx="15.9" cy="432.6" r="4.1"/><circle cx="29.5" cy="450.1" r="4.1"/><circle cx="18.3" cy="181.5" r="4.1"/><circle cx="23.2" cy="107.1" r="4.1"/><circle cx="27" cy="189.1" r="4.1"/><circle cx="36.2" cy="197.8" r="4.1"/><circle cx="46.2" cy="97.7" r="4.1"/><circle cx="27.3" cy="437.2" r="4.1"/><circle cx="12.6" cy="340.8" r="4.1"/><circle cx="44.8" cy="277.7" r="4.1"/><circle cx="8.3" cy="380.1" r="4.1"/><circle cx="31.2" cy="411.8" r="4.1"/><circle cx="14.9" cy="137.9" r="4.1"/><circle cx="38" cy="160.9" r="4.1"/><circle cx="15.6" cy="179" r="4.1"/><circle cx="8.4" cy="158" r="4.1"/><circle cx="28.7" cy="203" r="4.1"/><circle cx="23.2" cy="113.8" r="4.1"/><circle cx="8.4" cy="341" r="4.1"/><circle cx="7.9" cy="268.2" r="4.1"/><circle cx="3" cy="253.5" r="4.1"/><circle cx="30.8" cy="421.4" r="4.1"/><circle cx="18.5" cy="230.7" r="4.1"/><circle cx="33.5" cy="217.5" r="4.1"/><circle cx="30.1" cy="156.9" r="4.1"/><circle cx="17.7" cy="158.8" r="4.1"/><circle cx="9.2" cy="429.1" r="4.1"/><circle cx="25.6" cy="102" r="4.1"/><circle cx="44.7" cy="436.4" r="4.1"/><circle cx="5.5" cy="280.2" r="4.1"/><circle cx="38.9" cy="242.1" r="4.1"/><circle cx="13.2" cy="381.2" r="4.1"/><circle cx="43.1" cy="162.8" r="4.1"/><circle cx="9.2" cy="182.6" r="4.1"/><circle cx="30" cy="295.9" r="4.1"/><circle cx="38.5" cy="384.4" r="4.1"/><circle cx="11.9" cy="237.2" r="4.1"/><circle cx="11.7" cy="288.3" r="4.1"/><circle cx="37.2" cy="288.1" r="4.1"/><circle cx="47.8" cy="448.8" r="4.1"/><circle cx="13.8" cy="284.2" r="4.1"/><circle cx="38.9" cy="425.1" r="4.1"/><circle cx="24" cy="369.3" r="4.1"/><circle cx="19" cy="249.9" r="4.1"/><circle cx="31.2" cy="228.8" r="4.1"/><circle cx="25.9" cy="413.2" r="4.1"/><circle cx="7.5" cy="189.8" r="4.1"/><circle cx="11.9" cy="363.8" r="4.1"/><circle cx="10.2" cy="162.1" r="4.1"/><circle cx="28.2" cy="144.9" r="4.1"/><circle cx="9.4" cy="337.6" r="4.1"/><circle cx="16.5" cy="292.6" r="4.1"/><circle cx="18.5" cy="413.7" r="4.1"/><circle cx="17.6" cy="198.9" r="4.1"/><circle cx="13.9" cy="185.8" r="4.1"/><circle cx="7.9" cy="349.7" r="4.1"/><circle cx="34.5" cy="312.3" r="4.1"/><circle cx="43.9" cy="237.9" r="4.1"/><circle cx="21.3" cy="339.9" r="4.1"/><circle cx="37.7" cy="416.1" r="4.1"/><circle cx="30.8" cy="245.9" r="4.1"/><circle cx="23.4" cy="120.9" r="4.1"/><circle cx="12" cy="189.7" r="4.1"/><circle cx="43.8" cy="240.9" r="4.1"/><circle cx="23.1" cy="396.9" r="4.1"/><circle cx="17.7" cy="341.8" r="4.1"/><circle cx="13" cy="261.7" r="4.1"/><circle cx="30.8" cy="428.9" r="4.1"/><circle cx="15.9" cy="249.6" r="4.1"/><circle cx="44.7" cy="253.4" r="4.1"/><circle cx="13.2" cy="268.5" r="4.1"/><circle cx="36.2" cy="380.8" r="4.1"/><circle cx="23.4" cy="225.4" r="4.1"/><circle cx="5.4" cy="259.1" r="4.1"/><circle cx="39.7" cy="382.1" r="4.1"/><circle cx="37.3" cy="322.1" r="4.1"/><circle cx="26.5" cy="301.1" r="4.1"/><circle cx="12" cy="372.7" r="4.1"/><circle cx="36.4" cy="420.2" r="4.1"/><circle cx="27.9" cy="432.8" r="4.1"/><circle cx="39.7" cy="428.7" r="4.1"/><circle cx="38.4" cy="258.8" r="4.1"/><circle cx="37" cy="313.9" r="4.1"/><circle cx="42.4" cy="392" r="4.1"/><circle cx="17.1" cy="175.1" r="4.1"/><circle cx="14.6" cy="97.5" r="4.1"/><circle cx="39.4" cy="389.2" r="4.1"/><circle cx="30.7" cy="443.8" r="4.1"/><circle cx="30.7" cy="151.1" r="4.1"/><circle cx="16.1" cy="441.8" r="4.1"/><circle cx="23.8" cy="169.7" r="4.1"/><circle cx="18.6" cy="142" r="4.1"/><circle cx="11" cy="370" r="4.1"/><circle cx="47.8" cy="209" r="4.1"/><circle cx="24" cy="424.8" r="4.1"/><circle cx="20.2" cy="385.3" r="4.1"/><circle cx="22.7" cy="412.5" r="4.1"/><circle cx="19.2" cy="267" r="4.1"/><circle cx="34.7" cy="206.4" r="4.1"/><circle cx="17.9" cy="150.2" r="4.1"/><circle cx="27" cy="372.1" r="4.1"/><circle cx="25.6" cy="285" r="4.1"/><circle cx="30.8" cy="238.4" r="4.1"/><circle cx="30.3" cy="189.6" r="4.1"/><circle cx="21.5" cy="308.5" r="4.1"/><circle cx="29.3" cy="97" r="4.1"/><circle cx="13.2" cy="245.3" r="4.1"/><circle cx="38.5" cy="201.4" r="4.1"/><circle cx="12.6" cy="157.8" r="4.1"/><circle cx="35.6" cy="324.7" r="4.1"/><circle cx="40" cy="301.3" r="4.1"/><circle cx="43.9" cy="129.4" r="4.1"/><circle cx="24.2" cy="209.5" r="4.1"/><circle cx="22.8" cy="149.6" r="4.1"/><circle cx="15" cy="242.5" r="4.1"/><circle cx="38.8" cy="219.1" r="4.1"/><circle cx="13.8" cy="349.3" r="4.1"/><circle cx="8.3" cy="276.8" r="4.1"/><circle cx="19.7" cy="425.2" r="4.1"/><circle cx="43.8" cy="225.2" r="4.1"/><circle cx="3" cy="436.5" r="4.1"/><circle cx="24.7" cy="328.3" r="4.1"/><circle cx="25.7" cy="308.9" r="4.1"/><circle cx="36.2" cy="125.9" r="4.1"/><circle cx="4.7" cy="95.1" r="4.1"/><circle cx="21.1" cy="276.3" r="4.1"/><circle cx="22.7" cy="229.5" r="4.1"/><circle cx="10.5" cy="273.4" r="4.1"/><circle cx="21.5" cy="293.1" r="4.1"/><circle cx="36.7" cy="262.1" r="4.1"/><circle cx="30.1" cy="252.8" r="4.1"/><circle cx="13.8" cy="166.3" r="4.1"/><circle cx="40.3" cy="100.9" r="4.1"/><circle cx="43.9" cy="420.9" r="4.1"/><circle cx="31.4" cy="141.4" r="4.1"/><circle cx="13" cy="444.7" r="4.1"/><circle cx="27.8" cy="352.9" r="4.1"/><circle cx="14" cy="293.5" r="4.1"/><circle cx="7.9" cy="166.7" r="4.1"/><circle cx="6.3" cy="178.7" r="4.1"/><circle cx="31.6" cy="213.5" r="4.1"/><circle cx="43.9" cy="312.4" r="4.1"/><circle cx="22.8" cy="332.6" r="4.1"/><circle cx="29" cy="225.4" r="4.1"/><circle cx="20.4" cy="195" r="4.1"/><circle cx="31.2" cy="197" r="4.1"/><circle cx="43.1" cy="146" r="4.1"/><circle cx="28.4" cy="194.4" r="3.5"/><circle cx="41.9" cy="217.9" r="3.5"/><circle cx="30.7" cy="260.8" r="4.1"/><circle cx="37.3" cy="139.1" r="4.1"/><circle cx="7" cy="267.1" r="4.1"/><circle cx="19.7" cy="242.2" r="4.1"/><circle cx="47.8" cy="265.8" r="4.1"/><circle cx="34.5" cy="258.6" r="3.5"/><circle cx="30.1" cy="339.9" r="4.1"/><circle cx="14.7" cy="345.4" r="4.1"/><circle cx="25.4" cy="348.4" r="3.5"/><circle cx="30.2" cy="222" r="3.5"/><circle cx="11.7" cy="254.2" r="4.1"/><circle cx="44.8" cy="94.7" r="4.1"/><circle cx="11.1" cy="193" r="3.5"/><circle cx="43.6" cy="234.7" r="4.1"/><circle cx="41.9" cy="400.9" r="3.5"/><circle cx="17.1" cy="358.1" r="4.1"/><circle cx="38.4" cy="441.8" r="4.1"/><circle cx="23.4" cy="303.9" r="4.1"/><circle cx="27.3" cy="254.2" r="4.1"/><circle cx="19.8" cy="402.1" r="4.1"/><circle cx="34.5" cy="424" r="3.5"/><circle cx="30" cy="112.9" r="4.1"/><circle cx="37.4" cy="122.3" r="3.5"/><circle cx="6.9" cy="249" r="3.5"/><circle cx="11.8" cy="277.5" r="4.1"/><circle cx="36.8" cy="294.1" r="4.1"/><circle cx="42.3" cy="441.9" r="4.1"/><circle cx="43.6" cy="417.7" r="4.1"/><circle cx="47.8" cy="392" r="4.1"/><circle cx="21.5" cy="380.4" r="4.1"/><circle cx="22.7" cy="244.9" r="4.1"/><circle cx="28.8" cy="162.3" r="4.1"/><circle cx="25.6" cy="213.4" r="3.5"/><circle cx="35.5" cy="165.8" r="3.5"/><circle cx="3.8" cy="445.5" r="3.5"/><circle cx="7.5" cy="372.8" r="4.1"/><circle cx="26.9" cy="156.9" r="3.5"/><circle cx="36.8" cy="397.5" r="3.5"/><circle cx="35.9" cy="300.8" r="4.1"/><circle cx="25.6" cy="396.4" r="3.5"/><circle cx="16.8" cy="85" r="3.5"/><circle cx="19.3" cy="122.3" r="3.5"/><circle cx="35" cy="246.8" r="4.1"/><circle cx="30.1" cy="126.7" r="4.1"/><circle cx="23.3" cy="250.2" r="4.1"/><circle cx="25.5" cy="278.1" r="4.1"/><circle cx="13" cy="332" r="4.1"/><circle cx="28.7" cy="319.8" r="3.5"/><circle cx="37" cy="153.9" r="4.1"/><circle cx="13.2" cy="85.5" r="4.1"/><circle cx="31.1" cy="389.8" r="4.1"/><circle cx="20.4" cy="353.8" r="3.5"/><circle cx="37.5" cy="280.6" r="3.5"/><circle cx="21.4" cy="404.4" r="4.1"/><circle cx="24.7" cy="145.3" r="4.1"/><circle cx="32.7" cy="384.9" r="4.1"/><circle cx="33.5" cy="400.5" r="4.1"/><circle cx="39.6" cy="348.2" r="3.5"/><circle cx="40.5" cy="277.9" r="3.5"/><circle cx="34.6" cy="280.3" r="4.1"/><circle cx="7" cy="450.1" r="4.1"/><circle cx="17.5" cy="317.2" r="4.1"/><circle cx="24.6" cy="233.5" r="4.1"/><circle cx="29.3" cy="280" r="4.1"/><circle cx="16.4" cy="437.3" r="3.5"/><circle cx="32.4" cy="249.5" r="4.1"/><circle cx="32.4" cy="432.5" r="4.1"/><circle cx="36.8" cy="111.1" r="4.1"/><circle cx="34.1" cy="344.6" r="4.1"/><circle cx="33.5" cy="211" r="3.5"/><circle cx="30.7" cy="334.1" r="4.1"/><circle cx="21.4" cy="221.4" r="4.1"/><circle cx="23.9" cy="338" r="4.1"/><circle cx="20" cy="321.7" r="4.1"/><circle cx="27.7" cy="312.4" r="4.1"/><circle cx="24.1" cy="219" r="4.1"/><circle cx="33.5" cy="105.3" r="4.1"/><circle cx="26.3" cy="422" r="3.5"/><circle cx="24.2" cy="202" r="3.5"/><circle cx="41.4" cy="316.7" r="4.1"/><circle cx="40.8" cy="125.8" r="4.1"/><circle cx="21.9" cy="315.9" r="3.5"/><circle cx="42.3" cy="258.9" r="4.1"/><circle cx="13.8" cy="101.2" r="4.1"/><circle cx="33.8" cy="328" r="4.1"/><circle cx="9.2" cy="142.1" r="3.5"/><circle cx="42.4" cy="99" r="3.5"/><circle cx="39.7" cy="245.7" r="4.1"/><circle cx="22.2" cy="100.9" r="4.1"/><circle cx="37.5" cy="210.1" r="4.1"/><circle cx="5.4" cy="442.1" r="4.1"/><circle cx="24.3" cy="322.1" r="4.1"/><circle cx="25.6" cy="149.7" r="4.1"/><circle cx="31.8" cy="302" r="4.1"/><circle cx="30.2" cy="95" r="3.5"/><circle cx="28.1" cy="105" r="3.5"/><circle cx="28.7" cy="386" r="4.1"/><circle cx="34.6" cy="154.4" r="3.5"/><circle cx="8.3" cy="173.6" r="4.1"/><circle cx="21.1" cy="174.9" r="4.1"/><circle cx="36.2" cy="157.5" r="4.1"/><circle cx="11.3" cy="352.7" r="3.5"/><circle cx="37.2" cy="194.4" r="3.5"/><circle cx="18.1" cy="444.1" r="4.1"/><circle cx="12.9" cy="355.9" r="3.5"/><circle cx="31.2" cy="380" r="4.1"/><circle cx="37" cy="113.6" r="3.5"/><circle cx="19.8" cy="219.1" r="4.1"/><circle cx="25.6" cy="332.7" r="4.1"/><circle cx="11" cy="146.2" r="4.1"/><circle cx="25.7" cy="125.9" r="4.1"/><circle cx="8.1" cy="261.4" r="3.5"/><circle cx="15" cy="353.2" r="4.1"/><circle cx="26.5" cy="118.1" r="4.1"/><circle cx="22.6" cy="436.2" r="3.5"/><circle cx="24.1" cy="402" r="4.1"/><circle cx="30.2" cy="293.4" r="3.5"/><circle cx="9.4" cy="154.6" r="4.1"/><circle cx="36.4" cy="237.2" r="4.1"/><circle cx="19.1" cy="360.5" r="3.5"/><circle cx="44.8" cy="133.6" r="4.1"/><circle cx="35" cy="253.8" r="4.1"/><circle cx="24.6" cy="281.8" r="4.1"/><circle cx="18.5" cy="118" r="4.1"/><circle cx="15" cy="297.4" r="4.1"/><circle cx="11.3" cy="441" r="4.1"/><circle cx="34.6" cy="337.4" r="3.5"/><circle cx="20.9" cy="349.7" r="3.5"/><circle cx="17.5" cy="134.2" r="4.1"/><circle cx="28.2" cy="327.9" r="4.1"/><circle cx="15" cy="425.5" r="4.1"/><circle cx="43.6" cy="249.8" r="4.1"/><circle cx="37.2" cy="105.1" r="4.1"/><circle cx="40.7" cy="340.7" r="4.1"/><circle cx="40.5" cy="94.9" r="3.5"/><circle cx="43.8" cy="301" r="3.5"/><circle cx="24.2" cy="385" r="3.5"/><circle cx="31.8" cy="119" r="4.1"/><circle cx="21.1" cy="93.3" r="4.1"/><circle cx="44.8" cy="316.6" r="4.1"/><circle cx="28.4" cy="416.5" r="3.5"/><circle cx="9.7" cy="99" r="3.5"/><circle cx="42.9" cy="322" r="3.5"/><circle cx="41.2" cy="437.4" r="3.5"/><circle cx="32.2" cy="165.5" r="3.5"/><circle cx="17.9" cy="333.2" r="4.1"/><circle cx="38" cy="343.9" r="4.1"/><circle cx="14.6" cy="378.2" r="3.5"/><circle cx="41" cy="142.3" r="3.5"/><circle cx="43.1" cy="329" r="4.1"/><circle cx="22.6" cy="253.2" r="3.5"/><circle cx="18.8" cy="185.4" r="3.5"/><circle cx="17.8" cy="388.7" r="4.1"/><circle cx="39.7" cy="333.4" r="3.5"/><circle cx="20.8" cy="107" r="3.5"/><circle cx="42.1" cy="202.5" r="4.1"/><circle cx="28.1" cy="288" r="3.5"/><circle cx="32.7" cy="408.5" r="4.1"/><circle cx="42.3" cy="287.9" r="3.5"/><circle cx="42.9" cy="139" r="3.5"/><circle cx="30.1" cy="309.7" r="4.1"/><circle cx="34.1" cy="161.6" r="4.1"/><circle cx="35.6" cy="333" r="3.5"/><circle cx="37.2" cy="377.4" r="3.5"/><circle cx="42.3" cy="303.9" r="3.5"/><circle cx="16" cy="328.3" r="3.5"/><circle cx="39.4" cy="206.2" r="4.1"/><circle cx="24.1" cy="129.7" r="4.1"/><circle cx="29.7" cy="219" r="3.5"/><circle cx="20.3" cy="336.6" r="4.1"/><circle cx="34.6" cy="297.3" r="3.5"/><circle cx="18.8" cy="368.4" r="3.5"/><circle cx="21.1" cy="357.9" r="4.1"/><circle cx="37.5" cy="393.1" r="4.1"/><circle cx="24" cy="186.3" r="4.1"/><circle cx="20.1" cy="234" r="3.5"/><circle cx="21.6" cy="237.8" r="4.1"/><circle cx="17.7" cy="285.2" r="4.1"/><circle cx="19.8" cy="441.1" r="4.1"/><circle cx="16" cy="449.1" r="4.1"/><circle cx="15.4" cy="385.6" r="3.5"/><circle cx="11.9" cy="420.2" r="4.1"/><circle cx="23.4" cy="448.6" r="4.1"/><circle cx="31.4" cy="324.4" r="4.1"/><circle cx="35.2" cy="404.8" r="4.1"/><circle cx="11.9" cy="180.8" r="4.1"/><circle cx="34" cy="266.6" r="3.5"/><circle cx="13.2" cy="428.3" r="4.1"/><circle cx="35.6" cy="141.7" r="4.1"/><circle cx="17.6" cy="381.9" r="4.1"/><circle cx="26.5" cy="110.7" r="3.5"/><circle cx="12.7" cy="142.3" r="4.1"/><circle cx="32.3" cy="274" r="4.1"/><circle cx="7" cy="424.3" r="4.1"/><circle cx="6.6" cy="193.8" r="4.1"/><circle cx="22.3" cy="374" r="3.5"/><circle cx="44.1" cy="397.9" r="4.1"/><circle cx="34.7" cy="389.4" r="4.1"/><circle cx="44.1" cy="102.4" r="3.5"/><circle cx="44" cy="246.8" r="3.5"/><circle cx="23.9" cy="155" r="4.1"/><circle cx="2.8" cy="429.1" r="4.1"/><circle cx="23.4" cy="408.4" r="4.1"/><circle cx="35.1" cy="276.5" r="3.5"/><circle cx="25.9" cy="318.2" r="3.5"/><circle cx="30.3" cy="372.6" r="4.1"/><circle cx="39.7" cy="446" r="4.1"/><circle cx="32.7" cy="322.2" r="4.1"/><circle cx="31.6" cy="396.5" r="4.1"/><circle cx="30.5" cy="100.9" r="3.5"/><circle cx="11.5" cy="361.3" r="3.5"/><circle cx="17" cy="372" r="3.5"/><circle cx="20.2" cy="273.9" r="3.5"/><circle cx="19.5" cy="97.2" r="3.5"/><circle cx="37.4" cy="305.3" r="3.5"/><circle cx="40.4" cy="404.3" r="3.5"/><circle cx="26" cy="381.2" r="3.5"/><circle cx="6.3" cy="336.8" r="3.5"/><circle cx="18.7" cy="328.4" r="3.5"/><circle cx="18.7" cy="145.4" r="3.5"/><circle cx="25.9" cy="135.2" r="3.5"/><circle cx="42.4" cy="282" r="3.5"/><circle cx="39.7" cy="150.4" r="3.5"/><circle cx="38.8" cy="249.8" r="3.5"/><circle cx="35.1" cy="93.5" r="3.5"/><circle cx="21.4" cy="142.8" r="3.5"/><circle cx="27" cy="388.4" r="3.5"/><circle cx="10.1" cy="250.1" r="3.5"/><circle cx="7.5" cy="101.9" r="3.5"/><circle cx="37.5" cy="450.1" r="3.5"/><circle cx="33.7" cy="121.8" r="3.5"/><circle cx="26.9" cy="245.6" r="3.5"/><circle cx="17" cy="189" r="3.5"/><circle cx="44.2" cy="205.6" r="3.5"/><circle cx="37.5" cy="97.6" r="3.5"/><circle cx="45.5" cy="262.4" r="3.5"/><circle cx="39.6" cy="396.1" r="3.5"/><circle cx="26.5" cy="293.7" r="3.5"/><circle cx="14.4" cy="90.3" r="3.5"/><circle cx="21.9" cy="132.9" r="3.5"/><circle cx="28.4" cy="233.5" r="3.5"/><circle cx="15.8" cy="337" r="3.5"/><circle cx="15.2" cy="290.1" r="3.5"/><circle cx="11.1" cy="376" r="3.5"/><circle cx="33.4" cy="232.9" r="3.5"/><circle cx="33.7" cy="304.8" r="3.5"/><circle cx="25" cy="194.8" r="3.5"/><circle cx="16.4" cy="245.3" r="3.5"/><circle cx="7.5" cy="284.9" r="3.5"/><circle cx="5.8" cy="170.5" r="3.5"/><circle cx="25.4" cy="165.4" r="3.5"/><circle cx="39.6" cy="213.1" r="3.5"/><circle cx="30.2" cy="110.4" r="3.5"/><circle cx="29.1" cy="442" r="3.5"/><circle cx="21.4" cy="325.8" r="3.5"/><circle cx="19.1" cy="177.5" r="3.5"/><circle cx="9.7" cy="282" r="3.5"/><circle cx="17.7" cy="238.3" r="3.5"/><circle cx="25" cy="377.8" r="3.5"/><circle cx="27.5" cy="223" r="3.5"/><circle cx="9.2" cy="325.1" r="3.5"/><circle cx="43.3" cy="265.1" r="3.5"/><circle cx="15.2" cy="107.1" r="3.5"/><circle cx="11.5" cy="178.3" r="3.5"/><circle cx="28.7" cy="136.8" r="3.5"/><circle cx="35.5" cy="348.8" r="3.5"/><circle cx="30.2" cy="317.5" r="3.5"/><circle cx="26.3" cy="239" r="3.5"/><circle cx="40.8" cy="237.8" r="3.5"/><circle cx="33.4" cy="415.9" r="3.5"/><circle cx="26.6" cy="262.1" r="3.5"/><circle cx="24.5" cy="440.1" r="3.5"/><circle cx="44" cy="429.8" r="3.5"/><circle cx="27.5" cy="141.8" r="3.5"/><circle cx="26" cy="198.2" r="3.5"/><circle cx="20.4" cy="170.8" r="3.5"/><circle cx="36.4" cy="317.1" r="3.5"/><circle cx="5.8" cy="353.5" r="3.5"/><circle cx="9.5" cy="265.1" r="3.5"/><circle cx="16.8" cy="268" r="3.5"/><circle cx="27" cy="205.4" r="3.5"/><circle cx="22.3" cy="191" r="3.5"/><circle cx="8.1" cy="149.3" r="3.5"/><circle cx="2.9" cy="341.5" r="3.5"/><circle cx="2.9" cy="158.5" r="3.5"/><circle cx="41" cy="325.3" r="3.5"/><circle cx="27.8" cy="121.5" r="3.5"/><circle cx="30.2" cy="278" r="3.5"/><circle cx="29.7" cy="402" r="3.5"/><circle cx="28.4" cy="377.4" r="3.5"/><circle cx="21.7" cy="390" r="3.5"/><circle cx="18.4" cy="94.9" r="3.5"/><circle cx="9.3" cy="238.7" r="3.5"/><circle cx="33.5" cy="394" r="3.5"/><circle cx="19.9" cy="297.1" r="3.5"/><circle cx="20.8" cy="290" r="3.5"/><circle cx="20.4" cy="345.9" r="3.5"/><circle cx="40.4" cy="221.3" r="3.5"/><circle cx="20.2" cy="90.9" r="3.5"/><circle cx="10.1" cy="433.1" r="3.5"/><circle cx="11.2" cy="322" r="3.5"/><circle cx="20.4" cy="162.9" r="3.5"/><circle cx="3.8" cy="262.5" r="3.5"/><circle cx="27.5" cy="324.8" r="3.5"/><circle cx="14.4" cy="273.3" r="3.5"/><circle cx="17.7" cy="421.3" r="3.5"/><circle cx="27.5" cy="406" r="3.5"/><circle cx="16.4" cy="254.3" r="3.5"/><circle cx="45.5" cy="445.4" r="3.5"/><circle cx="6.9" cy="432" r="3.5"/><circle cx="30.2" cy="405" r="3.5"/><circle cx="6.3" cy="153.8" r="3.5"/><circle cx="9.5" cy="448.1" r="3.5"/><circle cx="11.2" cy="139" r="3.5"/><circle cx="27.8" cy="304.5" r="3.5"/><circle cx="20.1" cy="417" r="3.5"/><circle cx="15.4" cy="202.6" r="3.5"/><circle cx="38.8" cy="432.8" r="3.5"/><circle cx="32.2" cy="348.5" r="3.5"/><circle cx="16.4" cy="428.3" r="3.5"/><circle cx="19.5" cy="280.2" r="3.5"/><circle cx="34.6" cy="114.3" r="3.5"/><circle cx="35.6" cy="150" r="3.5"/><circle cx="37" cy="296.6" r="3.5"/><circle cx="43.8" cy="118" r="3.5"/><circle cx="34" cy="449.6" r="3.5"/><circle cx="42.3" cy="120.9" r="3.5"/><circle cx="41.2" cy="254.4" r="3.5"/><circle cx="29.1" cy="259" r="3.5"/><circle cx="8.1" cy="444.4" r="3.5"/><circle cx="20.9" cy="166.7" r="3.5"/><circle cx="11.3" cy="169.7" r="3.5"/><circle cx="44.2" cy="388.6" r="3.5"/><circle cx="19.9" cy="114.1" r="3.5"/><circle cx="19.3" cy="305.3" r="3.5"/><circle cx="8.1" cy="332.3" r="3.5"/><circle cx="36.8" cy="214.5" r="3.5"/><circle cx="18.4" cy="277.9" r="3.5"/><circle cx="37.5" cy="267.1" r="3.5"/><circle cx="12.9" cy="172.9" r="3.5"/><circle cx="34.5" cy="241" r="3.5"/><circle cx="21.7" cy="207" r="3.5"/><circle cx="42.6" cy="335.9" r="3.5"/><circle cx="44.3" cy="405.3" r="3.5"/><circle cx="24.5" cy="257.1" r="3.5"/><circle cx="14.6" cy="195.2" r="3.5"/><circle cx="15.8" cy="154" r="3.5"/><circle cx="42.6" cy="152.9" r="3.5"/><circle cx="42.3" cy="104.9" r="3.5"/><circle cx="30.5" cy="283.9" r="3.5"/><circle cx="39.6" cy="165.2" r="3.5"/><circle cx="9.3" cy="421.7" r="3.5"/><circle cx="16" cy="145.3" r="3.5"/><circle cx="43.3" cy="448.1" r="3.5"/><circle cx="26.6" cy="445.1" r="3.5"/><circle cx="26.9" cy="339.9" r="3.5"/><circle cx="40.8" cy="420.8" r="3.5"/><circle cx="34.5" cy="441.6" r="3.5"/><circle cx="26.9" cy="428.6" r="3.5"/><circle cx="36.4" cy="134.1" r="3.5"/><circle cx="30.2" cy="134.5" r="3.5"/><circle cx="44.3" cy="222.3" r="3.5"/><circle cx="44.1" cy="285.4" r="3.5"/><circle cx="40.9" cy="102.5" r="4.4"/><circle cx="37.3" cy="308.1" r="4.4"/><circle cx="32.8" cy="426" r="4.4"/><circle cx="32.8" cy="243" r="4.4"/><circle cx="39.1" cy="254.8" r="4.4"/><circle cx="14.7" cy="447.7" r="4.4"/><circle cx="27.4" cy="338.7" r="4.4"/><circle cx="27.4" cy="155.7" r="4.4"/><circle cx="27.8" cy="423.3" r="4.4"/><circle cx="22" cy="124.2" r="4.4"/><circle cx="24.2" cy="231.3" r="4.4"/><circle cx="22" cy="307.2" r="4.4"/><circle cx="9.3" cy="334.2" r="4.4"/><circle cx="37.3" cy="125.1" r="4.4"/><circle cx="40.9" cy="285.5" r="4.4"/><circle cx="24.2" cy="414.3" r="4.4"/><circle cx="29.2" cy="108.9" r="4.4"/><circle cx="39.1" cy="437.8" r="4.4"/><circle cx="14.7" cy="264.7" r="4.4"/><circle cx="27.8" cy="240.3" r="4.4"/><circle cx="29.2" cy="291.9" r="4.4"/><circle cx="9.3" cy="151.2" r="4.4"/></g><circle cx="39.7" cy="199.1" r="3" fill="url(#gC)"/><circle cx="11.7" cy="437.2" r="3.1" fill="url(#gC)"/><circle cx="32.7" cy="225.5" r="3.1" fill="url(#gC)"/><circle cx="24.3" cy="139.1" r="3.1" fill="url(#gC)"/><circle cx="7.9" cy="85.2" r="3.1" fill="url(#gC)"/><circle cx="23.5" cy="345.2" r="2.9" fill="url(#gC)"/><circle cx="12.7" cy="325.3" r="2.9" fill="url(#gC)"/><circle cx="19.2" cy="450" r="2.9" fill="url(#gC)"/><circle cx="44.4" cy="325.6" r="2.9" fill="url(#gC)"/><circle cx="22.7" cy="427.9" r="3.1" fill="url(#gC)"/><circle cx="8.3" cy="436.7" r="2.9" fill="url(#gC)"/><circle cx="22.3" cy="301.9" r="3.2" fill="url(#gC)"/><circle cx="42.1" cy="385.5" r="3.2" fill="url(#gC)"/><circle cx="36.2" cy="308.9" r="2.9" fill="url(#gC)"/><circle cx="28.2" cy="209.9" r="3.2" fill="url(#gC)"/><circle cx="24.6" cy="416.5" r="3.1" fill="url(#gC)"/><circle cx="23.8" cy="352.7" r="2.9" fill="url(#gC)"/><circle cx="18.5" cy="301" r="3" fill="url(#gC)"/><circle cx="28.9" cy="154" r="3" fill="url(#gC)"/><circle cx="18.6" cy="325" r="3" fill="url(#gC)"/><circle cx="40" cy="118.3" r="2.9" fill="url(#gC)"/><circle cx="34.6" cy="97.3" r="3" fill="url(#gC)"/><circle cx="21.5" cy="125.5" r="2.9" fill="url(#gC)"/><circle cx="4.2" cy="349" r="3" fill="url(#gC)"/><circle cx="40.8" cy="308.8" r="3" fill="url(#gC)"/><circle cx="2.8" cy="246.1" r="2.9" fill="url(#gC)"/><circle cx="14" cy="110.5" r="3.2" fill="url(#gC)"/><circle cx="6.6" cy="90.4" r="3.2" fill="url(#gC)"/><circle cx="21.6" cy="420.8" r="3.1" fill="url(#gC)"/><circle cx="43.6" cy="432.8" r="3.2" fill="url(#gC)"/><circle cx="23.4" cy="265.6" r="3" fill="url(#gC)"/><circle cx="18.3" cy="364.5" r="3.2" fill="url(#gC)"/><circle cx="8.3" cy="253.7" r="3.2" fill="url(#gC)"/><circle cx="37.7" cy="233.1" r="3" fill="url(#gC)"/><circle cx="23.2" cy="290.1" r="3.2" fill="url(#gC)"/><circle cx="29" cy="408.4" r="3" fill="url(#gC)"/><circle cx="37" cy="336.9" r="2.9" fill="url(#gC)"/><circle cx="33.5" cy="288.3" r="3" fill="url(#gC)"/><circle cx="34.8" cy="285.4" r="2.9" fill="url(#gC)"/><circle cx="44.1" cy="214.9" r="3.1" fill="url(#gC)"/><circle cx="6.6" cy="273.4" r="3" fill="url(#gC)"/><circle cx="4.2" cy="166" r="3.1" fill="url(#gC)"/><circle cx="27.7" cy="129.4" r="3.2" fill="url(#gC)"/><circle cx="11.3" cy="258" r="3.1" fill="url(#gC)"/><circle cx="46.2" cy="280.7" r="3.2" fill="url(#gC)"/><circle cx="34.8" cy="230.6" r="3.1" fill="url(#gC)"/><circle cx="11" cy="329.2" r="3.1" fill="url(#gC)"/><circle cx="6.6" cy="161.5" r="3.2" fill="url(#gC)"/><circle cx="11.8" cy="94.5" r="3.1" fill="url(#gC)"/><circle cx="34.8" cy="102.4" r="3.2" fill="url(#gC)"/><circle cx="13.2" cy="198.2" r="3.1" fill="url(#gC)"/><circle cx="23.5" cy="162.2" r="3.1" fill="url(#gC)"/><circle cx="23.2" cy="296.8" r="3.1" fill="url(#gC)"/><circle cx="19" cy="432.9" r="3.1" fill="url(#gC)"/><circle cx="16" cy="266.1" r="3.2" fill="url(#gC)"/><circle cx="16.3" cy="165.2" r="3" fill="url(#gC)"/><circle cx="24.1" cy="312.7" r="2.9" fill="url(#gC)"/><circle cx="10.8" cy="424.9" r="3.1" fill="url(#gC)"/><circle cx="25.5" cy="95.1" r="3" fill="url(#gC)"/><circle cx="8.3" cy="356.6" r="3.1" fill="url(#gC)"/><circle cx="24" cy="241.8" r="3.1" fill="url(#gC)"/><circle cx="14.6" cy="280.5" r="2.9" fill="url(#gC)"/><circle cx="39.8" cy="412.9" r="2.9" fill="url(#gC)"/><circle cx="37" cy="225.7" r="3.1" fill="url(#gC)"/><circle cx="38.4" cy="146.1" r="3" fill="url(#gC)"/><circle cx="33.8" cy="145" r="3.1" fill="url(#gC)"/><circle cx="27.9" cy="423.8" r="3" fill="url(#gC)"/><circle cx="7" cy="241.3" r="2.9" fill="url(#gC)"/><circle cx="25.9" cy="230.2" r="3.1" fill="url(#gC)"/><circle cx="43.8" cy="408.2" r="3.2" fill="url(#gC)"/><circle cx="39.7" cy="263" r="2.9" fill="url(#gC)"/><circle cx="44.4" cy="142.6" r="3.1" fill="url(#gC)"/><circle cx="15" cy="114.4" r="3.1" fill="url(#gC)"/><circle cx="35.9" cy="117.8" r="3.1" fill="url(#gC)"/><circle cx="20.3" cy="153.6" r="3.1" fill="url(#gC)"/><circle cx="27.9" cy="240.8" r="3.1" fill="url(#gC)"/><circle cx="20.3" cy="313.4" r="3.3" fill="url(#gC)"/><circle cx="11" cy="187" r="3.2" fill="url(#gC)"/><circle cx="4.7" cy="278.1" r="3" fill="url(#gC)"/><circle cx="6.6" cy="344.5" r="3.2" fill="url(#gC)"/><circle cx="16.3" cy="348.2" r="3.1" fill="url(#gC)"/><circle cx="43.8" cy="423.9" r="3.2" fill="url(#gC)"/><circle cx="40.8" cy="292.2" r="3.3" fill="url(#gC)"/><circle cx="42.4" cy="209" r="2.9" fill="url(#gC)"/><circle cx="10.5" cy="90.4" r="2.9" fill="url(#gC)"/><circle cx="20.4" cy="378" r="2.9" fill="url(#gC)"/><circle cx="23.3" cy="433.2" r="3.2" fill="url(#gC)"/><circle cx="28.2" cy="392.9" r="3.2" fill="url(#gC)"/><circle cx="9.2" cy="365.6" r="2.9" fill="url(#gC)"/><circle cx="34.2" cy="377.9" r="3" fill="url(#gC)"/><circle cx="24.4" cy="90.2" r="3.2" fill="url(#gC)"/><circle cx="22" cy="444.2" r="3.1" fill="url(#gC)"/><circle cx="22.2" cy="283.9" r="3.1" fill="url(#gC)"/><circle cx="14.9" cy="320.9" r="3.2" fill="url(#gC)"/><circle cx="41.4" cy="133.7" r="3.2" fill="url(#gC)"/><circle cx="22" cy="261.2" r="2.9" fill="url(#gC)"/><circle cx="11.7" cy="105.3" r="3.2" fill="url(#gC)"/><circle cx="27.8" cy="169.9" r="3" fill="url(#gC)"/><circle cx="40.8" cy="109.2" r="3.1" fill="url(#gC)"/><circle cx="35" cy="436.8" r="3.2" fill="url(#gC)"/><circle cx="40.3" cy="283.9" r="3" fill="url(#gC)"/><circle cx="17.8" cy="205.7" r="3" fill="url(#gC)"/><circle cx="24.4" cy="273.2" r="3.2" fill="url(#gC)"/><circle cx="5.5" cy="97.2" r="3.2" fill="url(#gC)"/><circle cx="16.1" cy="258.8" r="3.2" fill="url(#gC)"/><circle cx="34.8" cy="413.6" r="2.9" fill="url(#gC)"/><circle cx="22.3" cy="118.9" r="3.1" fill="url(#gC)"/><circle cx="40.7" cy="157.7" r="3.2" fill="url(#gC)"/><circle cx="43.1" cy="345.8" r="3.2" fill="url(#gC)"/><circle cx="38.4" cy="329.1" r="3.1" fill="url(#gC)"/><circle cx="28.9" cy="337" r="3" fill="url(#gC)"/><circle cx="10.2" cy="345.1" r="2.9" fill="url(#gC)"/><circle cx="38.8" cy="402.1" r="2.9" fill="url(#gC)"/><circle cx="17.7" cy="102.2" r="3" fill="url(#gC)"/><circle cx="24.2" cy="392.5" r="3.1" fill="url(#gC)"/><circle cx="18.1" cy="261.1" r="3" fill="url(#gC)"/><circle cx="32.7" cy="139.2" r="2.9" fill="url(#gC)"/><circle cx="15.6" cy="362" r="2.9" fill="url(#gC)"/><circle cx="21.5" cy="110.1" r="3.1" fill="url(#gC)"/><circle cx="20" cy="138.7" r="3.2" fill="url(#gC)"/><circle cx="37" cy="408.7" r="2.9" fill="url(#gC)"/><circle cx="13" cy="149" r="3.1" fill="url(#gC)"/><circle cx="13.9" cy="368.8" r="3.2" fill="url(#gC)"/><circle cx="36.2" cy="340.5" r="3" fill="url(#gC)"/><circle cx="21.5" cy="197.4" r="3.1" fill="url(#gC)"/><circle cx="32.3" cy="91" r="3.2" fill="url(#gC)"/><circle cx="21.3" cy="156.9" r="2.9" fill="url(#gC)"/><circle cx="31.1" cy="206.8" r="3.2" fill="url(#gC)"/><circle cx="35.2" cy="221.8" r="3.2" fill="url(#gC)"/><circle cx="34.5" cy="129.3" r="3.1" fill="url(#gC)"/><circle cx="10.8" cy="241.9" r="3" fill="url(#gC)"/><circle cx="9.2" cy="246.1" r="3.1" fill="url(#gC)"/><circle cx="20.3" cy="130.4" r="3.2" fill="url(#gC)"/><circle cx="36.7" cy="445.1" r="2.9" fill="url(#gC)"/><circle cx="8.3" cy="197.1" r="2.9" fill="url(#gC)"/><circle cx="6.3" cy="361.7" r="3.1" fill="url(#gC)"/><circle cx="34.2" cy="194.9" r="3.2" fill="url(#gC)"/><circle cx="35" cy="429.8" r="2.9" fill="url(#gC)"/><circle cx="32.7" cy="201.9" r="2.9" fill="url(#gC)"/><circle cx="14.7" cy="162.4" r="3" fill="url(#gC)"/><circle cx="6.6" cy="376.8" r="3.2" fill="url(#gC)"/><circle cx="24.6" cy="98.8" r="3.1" fill="url(#gC)"/><circle cx="16.5" cy="109.6" r="3.1" fill="url(#gC)"/><circle cx="28.8" cy="345.3" r="2.9" fill="url(#gC)"/><circle cx="29.5" cy="267.1" r="2.9" fill="url(#gC)"/><circle cx="15" cy="170.2" r="3.1" fill="url(#gC)"/><circle cx="37" cy="130.9" r="3.1" fill="url(#gC)"/><circle cx="39.8" cy="229.9" r="2.9" fill="url(#gC)"/><circle cx="8.3" cy="93.8" r="2.9" fill="url(#gC)"/><circle cx="19.8" cy="258.1" r="3" fill="url(#gC)"/><circle cx="27.9" cy="249.8" r="3" fill="url(#gC)"/><circle cx="23.1" cy="213.9" r="3" fill="url(#gC)"/><circle cx="20.2" cy="202.3" r="2.9" fill="url(#gC)"/><circle cx="30.1" cy="435.8" r="2.9" fill="url(#gC)"/><circle cx="15.9" cy="432.6" r="3.1" fill="url(#gC)"/><circle cx="29.5" cy="450.1" r="3.2" fill="url(#gC)"/><circle cx="18.3" cy="181.5" r="3.1" fill="url(#gC)"/><circle cx="23.2" cy="107.1" r="3.2" fill="url(#gC)"/><circle cx="27" cy="189.1" r="2.9" fill="url(#gC)"/><circle cx="36.2" cy="197.8" r="3.1" fill="url(#gC)"/><circle cx="46.2" cy="97.7" r="3" fill="url(#gC)"/><circle cx="27.3" cy="437.2" r="3.2" fill="url(#gC)"/><circle cx="12.6" cy="340.8" r="3.1" fill="url(#gC)"/><circle cx="44.8" cy="277.7" r="3.1" fill="url(#gC)"/><circle cx="8.3" cy="380.1" r="3.2" fill="url(#gC)"/><circle cx="31.2" cy="411.8" r="3.2" fill="url(#gC)"/><circle cx="14.9" cy="137.9" r="2.9" fill="url(#gC)"/><circle cx="38" cy="160.9" r="3" fill="url(#gC)"/><circle cx="15.6" cy="179" r="2.9" fill="url(#gC)"/><circle cx="8.4" cy="158" r="3.1" fill="url(#gC)"/><circle cx="28.7" cy="203" r="2.9" fill="url(#gC)"/><circle cx="23.2" cy="113.8" r="3.1" fill="url(#gC)"/><circle cx="8.4" cy="341" r="3" fill="url(#gC)"/><circle cx="7.9" cy="268.2" r="2.9" fill="url(#gC)"/><circle cx="3" cy="253.5" r="3.2" fill="url(#gC)"/><circle cx="30.8" cy="421.4" r="2.9" fill="url(#gC)"/><circle cx="18.5" cy="230.7" r="3" fill="url(#gC)"/><circle cx="33.5" cy="217.5" r="3.1" fill="url(#gC)"/><circle cx="30.1" cy="156.9" r="2.9" fill="url(#gC)"/><circle cx="17.7" cy="158.8" r="3.2" fill="url(#gC)"/><circle cx="9.2" cy="429.1" r="3.1" fill="url(#gC)"/><circle cx="25.6" cy="102" r="2.9" fill="url(#gC)"/><circle cx="44.7" cy="436.4" r="3.1" fill="url(#gC)"/><circle cx="5.5" cy="280.2" r="2.9" fill="url(#gC)"/><circle cx="38.9" cy="242.1" r="3.1" fill="url(#gC)"/><circle cx="13.2" cy="381.2" r="2.9" fill="url(#gC)"/><circle cx="43.1" cy="162.8" r="3" fill="url(#gC)"/><circle cx="9.2" cy="182.6" r="3" fill="url(#gC)"/><circle cx="30" cy="295.9" r="3.1" fill="url(#gC)"/><circle cx="38.5" cy="384.4" r="3.1" fill="url(#gC)"/><circle cx="11.9" cy="237.2" r="3.2" fill="url(#gC)"/><circle cx="11.7" cy="288.3" r="3" fill="url(#gC)"/><circle cx="37.2" cy="288.1" r="3" fill="url(#gC)"/><circle cx="47.8" cy="448.8" r="2.9" fill="url(#gC)"/><circle cx="13.8" cy="284.2" r="3.1" fill="url(#gC)"/><circle cx="38.9" cy="425.1" r="3" fill="url(#gC)"/><circle cx="24" cy="369.3" r="2.9" fill="url(#gC)"/><circle cx="19" cy="249.9" r="2.9" fill="url(#gC)"/><circle cx="31.2" cy="228.8" r="3" fill="url(#gC)"/><circle cx="25.9" cy="413.2" r="3.2" fill="url(#gC)"/><circle cx="7.5" cy="189.8" r="3" fill="url(#gC)"/><circle cx="11.9" cy="363.8" r="3.2" fill="url(#gC)"/><circle cx="10.2" cy="162.1" r="3" fill="url(#gC)"/><circle cx="28.2" cy="144.9" r="3.1" fill="url(#gC)"/><circle cx="9.4" cy="337.6" r="3" fill="url(#gC)"/><circle cx="16.5" cy="292.6" r="3" fill="url(#gC)"/><circle cx="18.5" cy="413.7" r="3.1" fill="url(#gC)"/><circle cx="17.6" cy="198.9" r="2.9" fill="url(#gC)"/><circle cx="13.9" cy="185.8" r="3" fill="url(#gC)"/><circle cx="7.9" cy="349.7" r="3" fill="url(#gC)"/><circle cx="34.5" cy="312.3" r="3" fill="url(#gC)"/><circle cx="43.9" cy="237.9" r="3" fill="url(#gC)"/><circle cx="21.3" cy="339.9" r="2.9" fill="url(#gC)"/><circle cx="37.7" cy="416.1" r="3.1" fill="url(#gC)"/><circle cx="30.8" cy="245.9" r="2.9" fill="url(#gC)"/><circle cx="23.4" cy="120.9" r="2.9" fill="url(#gC)"/><circle cx="12" cy="189.7" r="3" fill="url(#gC)"/><circle cx="43.8" cy="240.9" r="2.9" fill="url(#gC)"/><circle cx="23.1" cy="396.9" r="3.2" fill="url(#gC)"/><circle cx="17.7" cy="341.8" r="3.1" fill="url(#gC)"/><circle cx="13" cy="261.7" r="3.2" fill="url(#gC)"/><circle cx="30.8" cy="428.9" r="2.9" fill="url(#gC)"/><circle cx="15.9" cy="249.6" r="2.9" fill="url(#gC)"/><circle cx="44.7" cy="253.4" r="3" fill="url(#gC)"/><circle cx="13.2" cy="268.5" r="3.1" fill="url(#gC)"/><circle cx="36.2" cy="380.8" r="3.2" fill="url(#gC)"/><circle cx="23.4" cy="225.4" r="3.2" fill="url(#gC)"/><circle cx="5.4" cy="259.1" r="3.2" fill="url(#gC)"/><circle cx="39.7" cy="382.1" r="2.9" fill="url(#gC)"/><circle cx="37.3" cy="322.1" r="2.9" fill="url(#gC)"/><circle cx="26.5" cy="301.1" r="3" fill="url(#gC)"/><circle cx="12" cy="372.7" r="3" fill="url(#gC)"/><circle cx="36.4" cy="420.2" r="2.9" fill="url(#gC)"/><circle cx="27.9" cy="432.8" r="3" fill="url(#gC)"/><circle cx="39.7" cy="428.7" r="2.9" fill="url(#gC)"/><circle cx="38.4" cy="258.8" r="3.2" fill="url(#gC)"/><circle cx="37" cy="313.9" r="2.9" fill="url(#gC)"/><circle cx="42.4" cy="392" r="3" fill="url(#gC)"/><circle cx="17.1" cy="175.1" r="2.9" fill="url(#gC)"/><circle cx="14.6" cy="97.5" r="3.2" fill="url(#gC)"/><circle cx="39.4" cy="389.2" r="2.9" fill="url(#gC)"/><circle cx="30.7" cy="443.8" r="3" fill="url(#gC)"/><circle cx="30.7" cy="151.1" r="2.9" fill="url(#gC)"/><circle cx="16.1" cy="441.8" r="3" fill="url(#gC)"/><circle cx="23.8" cy="169.7" r="3.3" fill="url(#gC)"/><circle cx="18.6" cy="142" r="3.1" fill="url(#gC)"/><circle cx="11" cy="370" r="3.1" fill="url(#gC)"/><circle cx="47.8" cy="209" r="3" fill="url(#gC)"/><circle cx="24" cy="424.8" r="3.2" fill="url(#gC)"/><circle cx="20.2" cy="385.3" r="3.2" fill="url(#gC)"/><circle cx="22.7" cy="412.5" r="3.1" fill="url(#gC)"/><circle cx="19.2" cy="267" r="2.9" fill="url(#gC)"/><circle cx="34.7" cy="206.4" r="2.9" fill="url(#gC)"/><circle cx="17.9" cy="150.2" r="3.1" fill="url(#gC)"/><circle cx="27" cy="372.1" r="3" fill="url(#gC)"/><circle cx="25.6" cy="285" r="3.2" fill="url(#gC)"/><circle cx="30.8" cy="238.4" r="3.3" fill="url(#gC)"/><circle cx="30.3" cy="189.6" r="3.2" fill="url(#gC)"/><circle cx="21.5" cy="308.5" r="2.9" fill="url(#gC)"/><circle cx="29.3" cy="97" r="3.2" fill="url(#gC)"/><circle cx="13.2" cy="245.3" r="3.1" fill="url(#gC)"/><circle cx="38.5" cy="201.4" r="2.9" fill="url(#gC)"/><circle cx="12.6" cy="157.8" r="2.9" fill="url(#gC)"/><circle cx="35.6" cy="324.7" r="3.2" fill="url(#gC)"/><circle cx="40" cy="301.3" r="3.2" fill="url(#gC)"/><circle cx="43.9" cy="129.4" r="3.2" fill="url(#gC)"/><circle cx="24.2" cy="209.5" r="3.1" fill="url(#gC)"/><circle cx="22.8" cy="149.6" r="2.9" fill="url(#gC)"/><circle cx="15" cy="242.5" r="3.2" fill="url(#gC)"/><circle cx="38.8" cy="219.1" r="3" fill="url(#gC)"/><circle cx="13.8" cy="349.3" r="3.2" fill="url(#gC)"/><circle cx="8.3" cy="276.8" r="3.1" fill="url(#gC)"/><circle cx="19.7" cy="425.2" r="3" fill="url(#gC)"/><circle cx="43.8" cy="225.2" r="3.1" fill="url(#gC)"/><circle cx="3" cy="436.5" r="3.2" fill="url(#gC)"/><circle cx="24.7" cy="328.3" r="3.2" fill="url(#gC)"/><circle cx="25.7" cy="308.9" r="3" fill="url(#gC)"/><circle cx="36.2" cy="125.9" r="3.2" fill="url(#gC)"/><circle cx="4.7" cy="95.1" r="2.9" fill="url(#gC)"/><circle cx="21.1" cy="276.3" r="3" fill="url(#gC)"/><circle cx="22.7" cy="229.5" r="3" fill="url(#gC)"/><circle cx="10.5" cy="273.4" r="2.9" fill="url(#gC)"/><circle cx="21.5" cy="293.1" r="3" fill="url(#gC)"/><circle cx="36.7" cy="262.1" r="2.9" fill="url(#gC)"/><circle cx="30.1" cy="252.8" r="3.2" fill="url(#gC)"/><circle cx="13.8" cy="166.3" r="3.2" fill="url(#gC)"/><circle cx="40.3" cy="100.9" r="3" fill="url(#gC)"/><circle cx="43.9" cy="420.9" r="2.9" fill="url(#gC)"/><circle cx="31.4" cy="141.4" r="3" fill="url(#gC)"/><circle cx="13" cy="444.7" r="3.2" fill="url(#gC)"/><circle cx="27.8" cy="352.9" r="3" fill="url(#gC)"/><circle cx="14" cy="293.5" r="2.9" fill="url(#gC)"/><circle cx="7.9" cy="166.7" r="3" fill="url(#gC)"/><circle cx="6.3" cy="178.7" r="3.1" fill="url(#gC)"/><circle cx="31.6" cy="213.5" r="2.9" fill="url(#gC)"/><circle cx="43.9" cy="312.4" r="3" fill="url(#gC)"/><circle cx="22.8" cy="332.6" r="3.1" fill="url(#gC)"/><circle cx="29" cy="225.4" r="3.2" fill="url(#gC)"/><circle cx="20.4" cy="195" r="3" fill="url(#gC)"/><circle cx="31.2" cy="197" r="3.3" fill="url(#gC)"/><circle cx="43.1" cy="146" r="3" fill="url(#gC)"/><circle cx="28.4" cy="194.4" r="2.5" fill="url(#gH)"/><circle cx="41.9" cy="217.9" r="2.3" fill="url(#gH)"/><circle cx="30.7" cy="260.8" r="3.2" fill="url(#gC)"/><circle cx="37.3" cy="139.1" r="3.1" fill="url(#gC)"/><circle cx="7" cy="267.1" r="2.9" fill="url(#gC)"/><circle cx="19.7" cy="242.2" r="3.2" fill="url(#gC)"/><circle cx="47.8" cy="265.8" r="3.2" fill="url(#gC)"/><circle cx="34.5" cy="258.6" r="2.3" fill="url(#gH)"/><circle cx="30.1" cy="339.9" r="3.2" fill="url(#gC)"/><circle cx="14.7" cy="345.4" r="3.2" fill="url(#gC)"/><circle cx="25.4" cy="348.4" r="2.4" fill="url(#gH)"/><circle cx="30.2" cy="222" r="2.6" fill="url(#gH)"/><circle cx="11.7" cy="254.2" r="3.1" fill="url(#gC)"/><circle cx="44.8" cy="94.7" r="3.1" fill="url(#gC)"/><circle cx="11.1" cy="193" r="2.4" fill="url(#gH)"/><circle cx="43.6" cy="234.7" r="3" fill="url(#gC)"/><circle cx="41.9" cy="400.9" r="2.6" fill="url(#gH)"/><circle cx="17.1" cy="358.1" r="3.2" fill="url(#gC)"/><circle cx="38.4" cy="441.8" r="3.2" fill="url(#gC)"/><circle cx="23.4" cy="303.9" r="2.9" fill="url(#gC)"/><circle cx="27.3" cy="254.2" r="3.1" fill="url(#gC)"/><circle cx="19.8" cy="402.1" r="3.1" fill="url(#gC)"/><circle cx="34.5" cy="424" r="2.4" fill="url(#gH)"/><circle cx="30" cy="112.9" r="2.9" fill="url(#gC)"/><circle cx="37.4" cy="122.3" r="2.6" fill="url(#gH)"/><circle cx="6.9" cy="249" r="2.6" fill="url(#gH)"/><circle cx="11.8" cy="277.5" r="3.1" fill="url(#gC)"/><circle cx="36.8" cy="294.1" r="3" fill="url(#gC)"/><circle cx="42.3" cy="441.9" r="3" fill="url(#gC)"/><circle cx="43.6" cy="417.7" r="3.2" fill="url(#gC)"/><circle cx="47.8" cy="392" r="2.9" fill="url(#gC)"/><circle cx="21.5" cy="380.4" r="3.1" fill="url(#gC)"/><circle cx="22.7" cy="244.9" r="3.1" fill="url(#gC)"/><circle cx="28.8" cy="162.3" r="3" fill="url(#gC)"/><circle cx="25.6" cy="213.4" r="2.6" fill="url(#gH)"/><circle cx="35.5" cy="165.8" r="2.5" fill="url(#gH)"/><circle cx="3.8" cy="445.5" r="2.6" fill="url(#gH)"/><circle cx="7.5" cy="372.8" r="2.9" fill="url(#gC)"/><circle cx="26.9" cy="156.9" r="2.4" fill="url(#gH)"/><circle cx="36.8" cy="397.5" r="2.4" fill="url(#gH)"/><circle cx="35.9" cy="300.8" r="3.1" fill="url(#gC)"/><circle cx="25.6" cy="396.4" r="2.5" fill="url(#gH)"/><circle cx="16.8" cy="85" r="2.6" fill="url(#gH)"/><circle cx="19.3" cy="122.3" r="2.6" fill="url(#gH)"/><circle cx="35" cy="246.8" r="3.2" fill="url(#gC)"/><circle cx="30.1" cy="126.7" r="3.2" fill="url(#gC)"/><circle cx="23.3" cy="250.2" r="3.1" fill="url(#gC)"/><circle cx="25.5" cy="278.1" r="3.1" fill="url(#gC)"/><circle cx="13" cy="332" r="2.9" fill="url(#gC)"/><circle cx="28.7" cy="319.8" r="2.4" fill="url(#gH)"/><circle cx="37" cy="153.9" r="3" fill="url(#gC)"/><circle cx="13.2" cy="85.5" r="2.9" fill="url(#gC)"/><circle cx="31.1" cy="389.8" r="3.2" fill="url(#gC)"/><circle cx="20.4" cy="353.8" r="2.4" fill="url(#gH)"/><circle cx="37.5" cy="280.6" r="2.4" fill="url(#gH)"/><circle cx="21.4" cy="404.4" r="2.9" fill="url(#gC)"/><circle cx="24.7" cy="145.3" r="3.1" fill="url(#gC)"/><circle cx="32.7" cy="384.9" r="3" fill="url(#gC)"/><circle cx="33.5" cy="400.5" r="3.2" fill="url(#gC)"/><circle cx="39.6" cy="348.2" r="2.5" fill="url(#gH)"/><circle cx="40.5" cy="277.9" r="2.4" fill="url(#gH)"/><circle cx="34.6" cy="280.3" r="2.9" fill="url(#gC)"/><circle cx="7" cy="450.1" r="2.9" fill="url(#gC)"/><circle cx="17.5" cy="317.2" r="3.1" fill="url(#gC)"/><circle cx="24.6" cy="233.5" r="3.1" fill="url(#gC)"/><circle cx="29.3" cy="280" r="3.1" fill="url(#gC)"/><circle cx="16.4" cy="437.3" r="2.5" fill="url(#gH)"/><circle cx="32.4" cy="249.5" r="3" fill="url(#gC)"/><circle cx="32.4" cy="432.5" r="3.2" fill="url(#gC)"/><circle cx="36.8" cy="111.1" r="2.9" fill="url(#gC)"/><circle cx="34.1" cy="344.6" r="2.9" fill="url(#gC)"/><circle cx="33.5" cy="211" r="2.6" fill="url(#gH)"/><circle cx="30.7" cy="334.1" r="3" fill="url(#gC)"/><circle cx="21.4" cy="221.4" r="3" fill="url(#gC)"/><circle cx="23.9" cy="338" r="3" fill="url(#gC)"/><circle cx="20" cy="321.7" r="3" fill="url(#gC)"/><circle cx="27.7" cy="312.4" r="3.2" fill="url(#gC)"/><circle cx="24.1" cy="219" r="2.9" fill="url(#gC)"/><circle cx="33.5" cy="105.3" r="3.1" fill="url(#gC)"/><circle cx="26.3" cy="422" r="2.5" fill="url(#gH)"/><circle cx="24.2" cy="202" r="2.4" fill="url(#gH)"/><circle cx="41.4" cy="316.7" r="3.1" fill="url(#gC)"/><circle cx="40.8" cy="125.8" r="3" fill="url(#gC)"/><circle cx="21.9" cy="315.9" r="2.5" fill="url(#gH)"/><circle cx="42.3" cy="258.9" r="2.9" fill="url(#gC)"/><circle cx="13.8" cy="101.2" r="3" fill="url(#gC)"/><circle cx="33.8" cy="328" r="3.1" fill="url(#gC)"/><circle cx="9.2" cy="142.1" r="2.5" fill="url(#gH)"/><circle cx="42.4" cy="99" r="2.5" fill="url(#gH)"/><circle cx="39.7" cy="245.7" r="2.9" fill="url(#gC)"/><circle cx="22.2" cy="100.9" r="3.1" fill="url(#gC)"/><circle cx="37.5" cy="210.1" r="3.2" fill="url(#gC)"/><circle cx="5.4" cy="442.1" r="3" fill="url(#gC)"/><circle cx="24.3" cy="322.1" r="2.9" fill="url(#gC)"/><circle cx="25.6" cy="149.7" r="3.1" fill="url(#gC)"/><circle cx="31.8" cy="302" r="2.9" fill="url(#gC)"/><circle cx="30.2" cy="95" r="2.3" fill="url(#gH)"/><circle cx="28.1" cy="105" r="2.3" fill="url(#gH)"/><circle cx="28.7" cy="386" r="3.1" fill="url(#gC)"/><circle cx="34.6" cy="154.4" r="2.6" fill="url(#gH)"/><circle cx="8.3" cy="173.6" r="3.2" fill="url(#gC)"/><circle cx="21.1" cy="174.9" r="3.1" fill="url(#gC)"/><circle cx="36.2" cy="157.5" r="3.2" fill="url(#gC)"/><circle cx="11.3" cy="352.7" r="2.6" fill="url(#gH)"/><circle cx="37.2" cy="194.4" r="2.4" fill="url(#gH)"/><circle cx="18.1" cy="444.1" r="3" fill="url(#gC)"/><circle cx="12.9" cy="355.9" r="2.6" fill="url(#gH)"/><circle cx="31.2" cy="380" r="3.2" fill="url(#gC)"/><circle cx="37" cy="113.6" r="2.5" fill="url(#gH)"/><circle cx="19.8" cy="219.1" r="3.1" fill="url(#gC)"/><circle cx="25.6" cy="332.7" r="3" fill="url(#gC)"/><circle cx="11" cy="146.2" r="2.9" fill="url(#gC)"/><circle cx="25.7" cy="125.9" r="3" fill="url(#gC)"/><circle cx="8.1" cy="261.4" r="2.4" fill="url(#gH)"/><circle cx="15" cy="353.2" r="3.1" fill="url(#gC)"/><circle cx="26.5" cy="118.1" r="3.1" fill="url(#gC)"/><circle cx="22.6" cy="436.2" r="2.5" fill="url(#gH)"/><circle cx="24.1" cy="402" r="3.2" fill="url(#gC)"/><circle cx="30.2" cy="293.4" r="2.3" fill="url(#gH)"/><circle cx="9.4" cy="154.6" r="2.9" fill="url(#gC)"/><circle cx="36.4" cy="237.2" r="2.9" fill="url(#gC)"/><circle cx="19.1" cy="360.5" r="2.4" fill="url(#gH)"/><circle cx="44.8" cy="133.6" r="3.2" fill="url(#gC)"/><circle cx="35" cy="253.8" r="3" fill="url(#gC)"/><circle cx="24.6" cy="281.8" r="3.2" fill="url(#gC)"/><circle cx="18.5" cy="118" r="2.9" fill="url(#gC)"/><circle cx="15" cy="297.4" r="3" fill="url(#gC)"/><circle cx="11.3" cy="441" r="3.2" fill="url(#gC)"/><circle cx="34.6" cy="337.4" r="2.4" fill="url(#gH)"/><circle cx="20.9" cy="349.7" r="2.5" fill="url(#gH)"/><circle cx="17.5" cy="134.2" r="3.1" fill="url(#gC)"/><circle cx="28.2" cy="327.9" r="3.1" fill="url(#gC)"/><circle cx="15" cy="425.5" r="2.9" fill="url(#gC)"/><circle cx="43.6" cy="249.8" r="3" fill="url(#gC)"/><circle cx="37.2" cy="105.1" r="3.2" fill="url(#gC)"/><circle cx="40.7" cy="340.7" r="3" fill="url(#gC)"/><circle cx="40.5" cy="94.9" r="2.4" fill="url(#gH)"/><circle cx="43.8" cy="301" r="2.6" fill="url(#gH)"/><circle cx="24.2" cy="385" r="2.5" fill="url(#gH)"/><circle cx="31.8" cy="119" r="3.1" fill="url(#gC)"/><circle cx="21.1" cy="93.3" r="3" fill="url(#gC)"/><circle cx="44.8" cy="316.6" r="3.1" fill="url(#gC)"/><circle cx="28.4" cy="416.5" r="2.4" fill="url(#gH)"/><circle cx="9.7" cy="99" r="2.4" fill="url(#gH)"/><circle cx="42.9" cy="322" r="2.4" fill="url(#gH)"/><circle cx="41.2" cy="437.4" r="2.4" fill="url(#gH)"/><circle cx="32.2" cy="165.5" r="2.5" fill="url(#gH)"/><circle cx="17.9" cy="333.2" r="2.9" fill="url(#gC)"/><circle cx="38" cy="343.9" r="2.9" fill="url(#gC)"/><circle cx="14.6" cy="378.2" r="2.5" fill="url(#gH)"/><circle cx="41" cy="142.3" r="2.6" fill="url(#gH)"/><circle cx="43.1" cy="329" r="3.2" fill="url(#gC)"/><circle cx="22.6" cy="253.2" r="2.5" fill="url(#gH)"/><circle cx="18.8" cy="185.4" r="2.5" fill="url(#gH)"/><circle cx="17.8" cy="388.7" r="2.9" fill="url(#gC)"/><circle cx="39.7" cy="333.4" r="2.5" fill="url(#gH)"/><circle cx="20.8" cy="107" r="2.3" fill="url(#gH)"/><circle cx="42.1" cy="202.5" r="3.1" fill="url(#gC)"/><circle cx="28.1" cy="288" r="2.3" fill="url(#gH)"/><circle cx="32.7" cy="408.5" r="2.9" fill="url(#gC)"/><circle cx="42.3" cy="287.9" r="2.3" fill="url(#gH)"/><circle cx="42.9" cy="139" r="2.4" fill="url(#gH)"/><circle cx="30.1" cy="309.7" r="3" fill="url(#gC)"/><circle cx="34.1" cy="161.6" r="2.9" fill="url(#gC)"/><circle cx="35.6" cy="333" r="2.3" fill="url(#gH)"/><circle cx="37.2" cy="377.4" r="2.3" fill="url(#gH)"/><circle cx="42.3" cy="303.9" r="2.6" fill="url(#gH)"/><circle cx="16" cy="328.3" r="2.6" fill="url(#gH)"/><circle cx="39.4" cy="206.2" r="3.2" fill="url(#gC)"/><circle cx="24.1" cy="129.7" r="2.9" fill="url(#gC)"/><circle cx="29.7" cy="219" r="2.4" fill="url(#gH)"/><circle cx="20.3" cy="336.6" r="3.2" fill="url(#gC)"/><circle cx="34.6" cy="297.3" r="2.3" fill="url(#gH)"/><circle cx="18.8" cy="368.4" r="2.3" fill="url(#gH)"/><circle cx="21.1" cy="357.9" r="3.1" fill="url(#gC)"/><circle cx="37.5" cy="393.1" r="3.2" fill="url(#gC)"/><circle cx="24" cy="186.3" r="3.2" fill="url(#gC)"/><circle cx="20.1" cy="234" r="2.6" fill="url(#gH)"/><circle cx="21.6" cy="237.8" r="3" fill="url(#gC)"/><circle cx="17.7" cy="285.2" r="3.1" fill="url(#gC)"/><circle cx="19.8" cy="441.1" r="3.2" fill="url(#gC)"/><circle cx="16" cy="449.1" r="3.2" fill="url(#gC)"/><circle cx="15.4" cy="385.6" r="2.6" fill="url(#gH)"/><circle cx="11.9" cy="420.2" r="3.2" fill="url(#gC)"/><circle cx="23.4" cy="448.6" r="3.2" fill="url(#gC)"/><circle cx="31.4" cy="324.4" r="3.1" fill="url(#gC)"/><circle cx="35.2" cy="404.8" r="3" fill="url(#gC)"/><circle cx="11.9" cy="180.8" r="3.1" fill="url(#gC)"/><circle cx="34" cy="266.6" r="2.6" fill="url(#gH)"/><circle cx="13.2" cy="428.3" r="3.1" fill="url(#gC)"/><circle cx="35.6" cy="141.7" r="2.9" fill="url(#gC)"/><circle cx="17.6" cy="381.9" r="3" fill="url(#gC)"/><circle cx="26.5" cy="110.7" r="2.6" fill="url(#gH)"/><circle cx="12.7" cy="142.3" r="3.1" fill="url(#gC)"/><circle cx="32.3" cy="274" r="3" fill="url(#gC)"/><circle cx="7" cy="424.3" r="3.2" fill="url(#gC)"/><circle cx="6.6" cy="193.8" r="3.2" fill="url(#gC)"/><circle cx="22.3" cy="374" r="2.4" fill="url(#gH)"/><circle cx="44.1" cy="397.9" r="3.1" fill="url(#gC)"/><circle cx="34.7" cy="389.4" r="3.2" fill="url(#gC)"/><circle cx="44.1" cy="102.4" r="2.3" fill="url(#gH)"/><circle cx="44" cy="246.8" r="2.6" fill="url(#gH)"/><circle cx="23.9" cy="155" r="3" fill="url(#gC)"/><circle cx="2.8" cy="429.1" r="3.2" fill="url(#gC)"/><circle cx="23.4" cy="408.4" r="2.9" fill="url(#gC)"/><circle cx="35.1" cy="276.5" r="2.4" fill="url(#gH)"/><circle cx="25.9" cy="318.2" r="2.4" fill="url(#gH)"/><circle cx="30.3" cy="372.6" r="2.9" fill="url(#gC)"/><circle cx="39.7" cy="446" r="3.1" fill="url(#gC)"/><circle cx="32.7" cy="322.2" r="3.2" fill="url(#gC)"/><circle cx="31.6" cy="396.5" r="3.1" fill="url(#gC)"/><circle cx="30.5" cy="100.9" r="2.6" fill="url(#gH)"/><circle cx="11.5" cy="361.3" r="2.3" fill="url(#gH)"/><circle cx="17" cy="372" r="2.4" fill="url(#gH)"/><circle cx="20.2" cy="273.9" r="2.4" fill="url(#gH)"/><circle cx="19.5" cy="97.2" r="2.6" fill="url(#gH)"/><circle cx="37.4" cy="305.3" r="2.5" fill="url(#gH)"/><circle cx="40.4" cy="404.3" r="2.6" fill="url(#gH)"/><circle cx="26" cy="381.2" r="2.6" fill="url(#gH)"/><circle cx="6.3" cy="336.8" r="2.5" fill="url(#gH)"/><circle cx="18.7" cy="328.4" r="2.5" fill="url(#gH)"/><circle cx="18.7" cy="145.4" r="2.6" fill="url(#gH)"/><circle cx="25.9" cy="135.2" r="2.5" fill="url(#gH)"/><circle cx="42.4" cy="282" r="2.5" fill="url(#gH)"/><circle cx="39.7" cy="150.4" r="2.6" fill="url(#gH)"/><circle cx="38.8" cy="249.8" r="2.6" fill="url(#gH)"/><circle cx="35.1" cy="93.5" r="2.4" fill="url(#gH)"/><circle cx="21.4" cy="142.8" r="2.3" fill="url(#gH)"/><circle cx="27" cy="388.4" r="2.5" fill="url(#gH)"/><circle cx="10.1" cy="250.1" r="2.6" fill="url(#gH)"/><circle cx="7.5" cy="101.9" r="2.4" fill="url(#gH)"/><circle cx="37.5" cy="450.1" r="2.6" fill="url(#gH)"/><circle cx="33.7" cy="121.8" r="2.5" fill="url(#gH)"/><circle cx="26.9" cy="245.6" r="2.4" fill="url(#gH)"/><circle cx="17" cy="189" r="2.4" fill="url(#gH)"/><circle cx="44.2" cy="205.6" r="2.5" fill="url(#gH)"/><circle cx="37.5" cy="97.6" r="2.5" fill="url(#gH)"/><circle cx="45.5" cy="262.4" r="2.4" fill="url(#gH)"/><circle cx="39.6" cy="396.1" r="2.6" fill="url(#gH)"/><circle cx="26.5" cy="293.7" r="2.4" fill="url(#gH)"/><circle cx="14.4" cy="90.3" r="2.6" fill="url(#gH)"/><circle cx="21.9" cy="132.9" r="2.6" fill="url(#gH)"/><circle cx="28.4" cy="233.5" r="2.3" fill="url(#gH)"/><circle cx="15.8" cy="337" r="2.5" fill="url(#gH)"/><circle cx="15.2" cy="290.1" r="2.5" fill="url(#gH)"/><circle cx="11.1" cy="376" r="2.6" fill="url(#gH)"/><circle cx="33.4" cy="232.9" r="2.4" fill="url(#gH)"/><circle cx="33.7" cy="304.8" r="2.4" fill="url(#gH)"/><circle cx="25" cy="194.8" r="2.4" fill="url(#gH)"/><circle cx="16.4" cy="245.3" r="2.6" fill="url(#gH)"/><circle cx="7.5" cy="284.9" r="2.4" fill="url(#gH)"/><circle cx="5.8" cy="170.5" r="2.6" fill="url(#gH)"/><circle cx="25.4" cy="165.4" r="2.3" fill="url(#gH)"/><circle cx="39.6" cy="213.1" r="2.6" fill="url(#gH)"/><circle cx="30.2" cy="110.4" r="2.3" fill="url(#gH)"/><circle cx="29.1" cy="442" r="2.5" fill="url(#gH)"/><circle cx="21.4" cy="325.8" r="2.6" fill="url(#gH)"/><circle cx="19.1" cy="177.5" r="2.4" fill="url(#gH)"/><circle cx="9.7" cy="282" r="2.5" fill="url(#gH)"/><circle cx="17.7" cy="238.3" r="2.4" fill="url(#gH)"/><circle cx="25" cy="377.8" r="2.3" fill="url(#gH)"/><circle cx="27.5" cy="223" r="2.6" fill="url(#gH)"/><circle cx="9.2" cy="325.1" r="2.5" fill="url(#gH)"/><circle cx="43.3" cy="265.1" r="2.6" fill="url(#gH)"/><circle cx="15.2" cy="107.1" r="2.3" fill="url(#gH)"/><circle cx="11.5" cy="178.3" r="2.4" fill="url(#gH)"/><circle cx="28.7" cy="136.8" r="2.4" fill="url(#gH)"/><circle cx="35.5" cy="348.8" r="2.6" fill="url(#gH)"/><circle cx="30.2" cy="317.5" r="2.3" fill="url(#gH)"/><circle cx="26.3" cy="239" r="2.3" fill="url(#gH)"/><circle cx="40.8" cy="237.8" r="2.4" fill="url(#gH)"/><circle cx="33.4" cy="415.9" r="2.4" fill="url(#gH)"/><circle cx="26.6" cy="262.1" r="2.6" fill="url(#gH)"/><circle cx="24.5" cy="440.1" r="2.6" fill="url(#gH)"/><circle cx="44" cy="429.8" r="2.4" fill="url(#gH)"/><circle cx="27.5" cy="141.8" r="2.5" fill="url(#gH)"/><circle cx="26" cy="198.2" r="2.4" fill="url(#gH)"/><circle cx="20.4" cy="170.8" r="2.5" fill="url(#gH)"/><circle cx="36.4" cy="317.1" r="2.5" fill="url(#gH)"/><circle cx="5.8" cy="353.5" r="2.3" fill="url(#gH)"/><circle cx="9.5" cy="265.1" r="2.5" fill="url(#gH)"/><circle cx="16.8" cy="268" r="2.4" fill="url(#gH)"/><circle cx="27" cy="205.4" r="2.4" fill="url(#gH)"/><circle cx="22.3" cy="191" r="2.5" fill="url(#gH)"/><circle cx="8.1" cy="149.3" r="2.5" fill="url(#gH)"/><circle cx="2.9" cy="341.5" r="2.4" fill="url(#gH)"/><circle cx="2.9" cy="158.5" r="2.5" fill="url(#gH)"/><circle cx="41" cy="325.3" r="2.6" fill="url(#gH)"/><circle cx="27.8" cy="121.5" r="2.5" fill="url(#gH)"/><circle cx="30.2" cy="278" r="2.4" fill="url(#gH)"/><circle cx="29.7" cy="402" r="2.3" fill="url(#gH)"/><circle cx="28.4" cy="377.4" r="2.4" fill="url(#gH)"/><circle cx="21.7" cy="390" r="2.6" fill="url(#gH)"/><circle cx="18.4" cy="94.9" r="2.4" fill="url(#gH)"/><circle cx="9.3" cy="238.7" r="2.6" fill="url(#gH)"/><circle cx="33.5" cy="394" r="2.6" fill="url(#gH)"/><circle cx="19.9" cy="297.1" r="2.5" fill="url(#gH)"/><circle cx="20.8" cy="290" r="2.4" fill="url(#gH)"/><circle cx="20.4" cy="345.9" r="2.5" fill="url(#gH)"/><circle cx="40.4" cy="221.3" r="2.5" fill="url(#gH)"/><circle cx="20.2" cy="90.9" r="2.6" fill="url(#gH)"/><circle cx="10.1" cy="433.1" r="2.5" fill="url(#gH)"/><circle cx="11.2" cy="322" r="2.5" fill="url(#gH)"/><circle cx="20.4" cy="162.9" r="2.5" fill="url(#gH)"/><circle cx="3.8" cy="262.5" r="2.5" fill="url(#gH)"/><circle cx="27.5" cy="324.8" r="2.4" fill="url(#gH)"/><circle cx="14.4" cy="273.3" r="2.5" fill="url(#gH)"/><circle cx="17.7" cy="421.3" r="2.4" fill="url(#gH)"/><circle cx="27.5" cy="406" r="2.5" fill="url(#gH)"/><circle cx="16.4" cy="254.3" r="2.6" fill="url(#gH)"/><circle cx="45.5" cy="445.4" r="2.4" fill="url(#gH)"/><circle cx="6.9" cy="432" r="2.4" fill="url(#gH)"/><circle cx="30.2" cy="405" r="2.4" fill="url(#gH)"/><circle cx="6.3" cy="153.8" r="2.6" fill="url(#gH)"/><circle cx="9.5" cy="448.1" r="2.5" fill="url(#gH)"/><circle cx="11.2" cy="139" r="2.4" fill="url(#gH)"/><circle cx="27.8" cy="304.5" r="2.6" fill="url(#gH)"/><circle cx="20.1" cy="417" r="2.6" fill="url(#gH)"/><circle cx="15.4" cy="202.6" r="2.6" fill="url(#gH)"/><circle cx="38.8" cy="432.8" r="2.5" fill="url(#gH)"/><circle cx="32.2" cy="348.5" r="2.3" fill="url(#gH)"/><circle cx="16.4" cy="428.3" r="2.4" fill="url(#gH)"/><circle cx="19.5" cy="280.2" r="2.3" fill="url(#gH)"/><circle cx="34.6" cy="114.3" r="2.4" fill="url(#gH)"/><circle cx="35.6" cy="150" r="2.4" fill="url(#gH)"/><circle cx="37" cy="296.6" r="2.5" fill="url(#gH)"/><circle cx="43.8" cy="118" r="2.6" fill="url(#gH)"/><circle cx="34" cy="449.6" r="2.5" fill="url(#gH)"/><circle cx="42.3" cy="120.9" r="2.4" fill="url(#gH)"/><circle cx="41.2" cy="254.4" r="2.4" fill="url(#gH)"/><circle cx="29.1" cy="259" r="2.5" fill="url(#gH)"/><circle cx="8.1" cy="444.4" r="2.5" fill="url(#gH)"/><circle cx="20.9" cy="166.7" r="2.4" fill="url(#gH)"/><circle cx="11.3" cy="169.7" r="2.5" fill="url(#gH)"/><circle cx="44.2" cy="388.6" r="2.4" fill="url(#gH)"/><circle cx="19.9" cy="114.1" r="2.5" fill="url(#gH)"/><circle cx="19.3" cy="305.3" r="2.5" fill="url(#gH)"/><circle cx="8.1" cy="332.3" r="2.3" fill="url(#gH)"/><circle cx="36.8" cy="214.5" r="2.5" fill="url(#gH)"/><circle cx="18.4" cy="277.9" r="2.4" fill="url(#gH)"/><circle cx="37.5" cy="267.1" r="2.5" fill="url(#gH)"/><circle cx="12.9" cy="172.9" r="2.5" fill="url(#gH)"/><circle cx="34.5" cy="241" r="2.5" fill="url(#gH)"/><circle cx="21.7" cy="207" r="2.6" fill="url(#gH)"/><circle cx="42.6" cy="335.9" r="2.5" fill="url(#gH)"/><circle cx="44.3" cy="405.3" r="2.5" fill="url(#gH)"/><circle cx="24.5" cy="257.1" r="2.5" fill="url(#gH)"/><circle cx="14.6" cy="195.2" r="2.3" fill="url(#gH)"/><circle cx="15.8" cy="154" r="2.5" fill="url(#gH)"/><circle cx="42.6" cy="152.9" r="2.4" fill="url(#gH)"/><circle cx="42.3" cy="104.9" r="2.4" fill="url(#gH)"/><circle cx="30.5" cy="283.9" r="2.5" fill="url(#gH)"/><circle cx="39.6" cy="165.2" r="2.4" fill="url(#gH)"/><circle cx="9.3" cy="421.7" r="2.6" fill="url(#gH)"/><circle cx="16" cy="145.3" r="2.5" fill="url(#gH)"/><circle cx="43.3" cy="448.1" r="2.6" fill="url(#gH)"/><circle cx="26.6" cy="445.1" r="2.3" fill="url(#gH)"/><circle cx="26.9" cy="339.9" r="2.5" fill="url(#gH)"/><circle cx="40.8" cy="420.8" r="2.4" fill="url(#gH)"/><circle cx="34.5" cy="441.6" r="2.5" fill="url(#gH)"/><circle cx="26.9" cy="428.6" r="2.5" fill="url(#gH)"/><circle cx="36.4" cy="134.1" r="2.5" fill="url(#gH)"/><circle cx="30.2" cy="134.5" r="2.6" fill="url(#gH)"/><circle cx="44.3" cy="222.3" r="2.4" fill="url(#gH)"/><circle cx="44.1" cy="285.4" r="2.4" fill="url(#gH)"/><circle cx="40.9" cy="102.5" r="3.5" fill="url(#gO)"/><circle cx="37.3" cy="308.1" r="3.4" fill="url(#gO)"/><circle cx="32.8" cy="426" r="3.2" fill="url(#gO)"/><circle cx="32.8" cy="243" r="3.5" fill="url(#gO)"/><circle cx="39.1" cy="254.8" r="3.2" fill="url(#gO)"/><circle cx="14.7" cy="447.7" r="3.2" fill="url(#gN)"/><circle cx="27.4" cy="338.7" r="3.4" fill="url(#gN)"/><circle cx="27.4" cy="155.7" r="3.5" fill="url(#gN)"/><circle cx="27.8" cy="423.3" r="3.5" fill="url(#gN)"/><circle cx="22" cy="124.2" r="3.5" fill="url(#gO)"/><circle cx="24.2" cy="231.3" r="3.4" fill="url(#gO)"/><circle cx="22" cy="307.2" r="3.4" fill="url(#gO)"/><circle cx="9.3" cy="334.2" r="3.3" fill="url(#gN)"/><circle cx="37.3" cy="125.1" r="3.2" fill="url(#gO)"/><circle cx="40.9" cy="285.5" r="3.3" fill="url(#gO)"/><circle cx="24.2" cy="414.3" r="3.5" fill="url(#gO)"/><circle cx="29.2" cy="108.9" r="3.4" fill="url(#gN)"/><circle cx="39.1" cy="437.8" r="3.6" fill="url(#gO)"/><circle cx="14.7" cy="264.7" r="3.5" fill="url(#gN)"/><circle cx="27.8" cy="240.3" r="3.4" fill="url(#gN)"/><circle cx="29.2" cy="291.9" r="3.4" fill="url(#gN)"/><circle cx="9.3" cy="151.2" r="3.3" fill="url(#gN)"/></g></defs>
<g clip-path="url(#clipC)"><use href="#cellC" transform="translate(901,160.8)"/><use href="#cellC" transform="translate(901,408.3)"/><use href="#cellC" transform="translate(1069.5,160.8)"/><use href="#cellC" transform="translate(1069.5,408.3)"/></g><g clip-path="url(#clipS)"><use href="#colS" transform="translate(1204,0)"/><use href="#colS" transform="translate(1248.2,0)"/><use href="#colS" transform="translate(1292.4,0)"/></g>
<defs>
<filter id="noiseA" x="0" y="0" width="100%" height="100%" color-interpolation-filters="sRGB">
<feTurbulence type="fractalNoise" baseFrequency="0.42" numOctaves="2" seed="3" result="n"/>
<feColorMatrix in="n" type="matrix" values="1 0 0 0 0  1 0 0 0 0  1 0 0 0 0  0 0 0 0 1" result="g"/>
<feComposite in="SourceGraphic" in2="g" operator="arithmetic" k1="0" k2="1" k3="0.32" k4="-0.16" result="m"/>
<feComposite in="m" in2="SourceAlpha" operator="in"/>
</filter>
<filter id="noiseB" x="0" y="0" width="100%" height="100%" color-interpolation-filters="sRGB">
<feTurbulence type="fractalNoise" baseFrequency="0.25" numOctaves="2" seed="8" result="n"/>
<feColorMatrix in="n" type="matrix" values="1 0 0 0 0  1 0 0 0 0  1 0 0 0 0  0 0 0 0 1" result="g"/>
<feComposite in="SourceGraphic" in2="g" operator="arithmetic" k1="0" k2="1" k3="0.6" k4="-0.3" result="m"/>
<feComposite in="m" in2="SourceAlpha" operator="in"/>
</filter>
<filter id="wig" x="-5%" y="-5%" width="110%" height="110%">
<feTurbulence type="fractalNoise" baseFrequency="0.09" numOctaves="2" seed="5" result="t"/>
<feDisplacementMap in="SourceGraphic" in2="t" scale="5" xChannelSelector="R" yChannelSelector="G"/>
</filter>
<filter id="halo" x="-20%" y="-20%" width="140%" height="140%"><feGaussianBlur stdDeviation="18"/></filter>
<filter id="soft" x="-10%" y="-10%" width="120%" height="120%"><feGaussianBlur stdDeviation="0.6"/></filter>
<pattern id="fringe" width="3.6" height="3.6" patternUnits="userSpaceOnUse" patternTransform="rotate(42)">
<rect width="3.6" height="1.5" fill="#000" opacity="0.22"/>
<rect y="2.2" width="3.6" height="0.9" fill="#fff" opacity="0.10"/>
</pattern>
<pattern id="fringe2" width="7.6" height="7.6" patternUnits="userSpaceOnUse" patternTransform="rotate(-36)">
<rect width="7.6" height="3.4" fill="#000" opacity="0.30"/>
<circle cx="1.9" cy="5.5" r="1.5" fill="#fff" opacity="0.22"/>
<circle cx="5.7" cy="5.5" r="1.5" fill="#fff" opacity="0.22"/>
</pattern>
<radialGradient id="tipmask" cx="965" cy="800" r="190" gradientUnits="userSpaceOnUse"><stop offset="0" stop-color="#fff" stop-opacity="1"/><stop offset="0.5" stop-color="#fff" stop-opacity="0.6"/><stop offset="1" stop-color="#fff" stop-opacity="0"/></radialGradient>
<radialGradient id="tiplight" cx="965" cy="800" r="200" gradientUnits="userSpaceOnUse"><stop offset="0" stop-color="#fff" stop-opacity="0.10"/><stop offset="1" stop-color="#fff" stop-opacity="0"/></radialGradient>
<mask id="tipM"><rect x="804.5" y="566.6" width="522.8" height="521.6999999999999" fill="url(#tipmask)"/></mask>
<clipPath id="clipDark"><polygon points="1122.7,566.6 1091,592.8 1067.6,611.6 1044,635 1020.7,658.5 1002,677.2 983.2,698.3 964.4,717 948,731 934,740.5 930.4,747.6 928,764 926.9,785 930.4,794.5 936.3,803.8 941,818 943.9,834.6 954.5,855.9 965.2,869.2 975.8,890.4 986.4,911.7 999.7,933 1013,951.6 1026.4,970.3 1039.7,991.5 1053,1012.8 1066.3,1034 1079.6,1055.4 1090.2,1074 1095.5,1088.3 1329.3,1090.3 1329.3,564.6"/></clipPath>
<clipPath id="clipD"><rect x="804.5" y="566.6" width="522.8" height="521.6999999999999"/></clipPath>
<clipPath id="clipI"><rect x="1102.4" y="703.5" width="224.19999999999982" height="220.70000000000005"/></clipPath>
</defs>
<g clip-path="url(#clipD)"><rect x="804.5" y="566.6" width="522.8" height="521.6999999999999" fill="#757575" filter="url(#noiseA)"/><polygon points="1122.7,566.6 1091,592.8 1067.6,611.6 1044,635 1020.7,658.5 1002,677.2 983.2,698.3 964.4,717 948,731 934,740.5 930.4,747.6 928,764 926.9,785 930.4,794.5 936.3,803.8 941,818 943.9,834.6 954.5,855.9 965.2,869.2 975.8,890.4 986.4,911.7 999.7,933 1013,951.6 1026.4,970.3 1039.7,991.5 1053,1012.8 1066.3,1034 1079.6,1055.4 1090.2,1074 1095.5,1088.3 1329.3,1090.3 1329.3,564.6" fill="#565656" filter="url(#noiseA)"/><polyline points="1122.7,566.6 1091,592.8 1067.6,611.6 1044,635 1020.7,658.5 1002,677.2 983.2,698.3 964.4,717 948,731 934,740.5 930.4,747.6 928,764 926.9,785 930.4,794.5 936.3,803.8 941,818 943.9,834.6 954.5,855.9 965.2,869.2 975.8,890.4 986.4,911.7 999.7,933 1013,951.6 1026.4,970.3 1039.7,991.5 1053,1012.8 1066.3,1034 1079.6,1055.4 1090.2,1074 1095.5,1088.3" fill="none" stroke="#fff" stroke-width="60" opacity="0.09" filter="url(#halo)"/><polygon points="1122.7,566.6 1091,592.8 1067.6,611.6 1044,635 1020.7,658.5 1002,677.2 983.2,698.3 964.4,717 948,731 934,740.5 930.4,747.6 928,764 926.9,785 930.4,794.5 936.3,803.8 941,818 943.9,834.6 954.5,855.9 965.2,869.2 975.8,890.4 986.4,911.7 999.7,933 1013,951.6 1026.4,970.3 1039.7,991.5 1053,1012.8 1066.3,1034 1079.6,1055.4 1090.2,1074 1095.5,1088.3 1329.3,1090.3 1329.3,564.6" fill="url(#tiplight)"/><g mask="url(#tipM)"><polygon points="1122.7,566.6 1091,592.8 1067.6,611.6 1044,635 1020.7,658.5 1002,677.2 983.2,698.3 964.4,717 948,731 934,740.5 930.4,747.6 928,764 926.9,785 930.4,794.5 936.3,803.8 941,818 943.9,834.6 954.5,855.9 965.2,869.2 975.8,890.4 986.4,911.7 999.7,933 1013,951.6 1026.4,970.3 1039.7,991.5 1053,1012.8 1066.3,1034 1079.6,1055.4 1090.2,1074 1095.5,1088.3 1329.3,1090.3 1329.3,564.6" fill="url(#fringe)"/></g><g clip-path="url(#clipDark)"><polyline points="926.9,785 930.4,794.5 936.3,803.8 941,818 943.9,834.6 954.5,855.9 965.2,869.2 975.8,890.4 986.4,911.7 999.7,933 1013,951.6 1026.4,970.3 1039.7,991.5 1053,1012.8 1066.3,1034 1079.6,1055.4 1090.2,1074 1095.5,1088.3" fill="none" stroke="#fff" stroke-opacity="0.05" stroke-width="34" transform="translate(10,0)"/><polyline points="926.9,785 930.4,794.5 936.3,803.8 941,818 943.9,834.6 954.5,855.9 965.2,869.2 975.8,890.4 986.4,911.7 999.7,933 1013,951.6 1026.4,970.3 1039.7,991.5 1053,1012.8 1066.3,1034 1079.6,1055.4 1090.2,1074 1095.5,1088.3" fill="none" stroke="url(#fringe)" stroke-width="30" transform="translate(10,0)" opacity="0.55"/></g><g filter="url(#wig)"><polyline points="1122.7,566.6 1091,592.8 1067.6,611.6 1044,635 1020.7,658.5 1002,677.2 983.2,698.3 964.4,717 948,731 934,740.5 930.4,747.6 928,764 926.9,785 930.4,794.5 936.3,803.8 941,818 943.9,834.6 954.5,855.9 965.2,869.2 975.8,890.4 986.4,911.7 999.7,933 1013,951.6 1026.4,970.3 1039.7,991.5 1053,1012.8 1066.3,1034 1079.6,1055.4 1090.2,1074 1095.5,1088.3" fill="none" stroke="#262626" stroke-width="2.2" transform="translate(3.5,0.5)" opacity="0.75"/><polyline points="1122.7,566.6 1091,592.8 1067.6,611.6 1044,635 1020.7,658.5 1002,677.2 983.2,698.3 964.4,717 948,731 934,740.5 930.4,747.6" fill="none" stroke="#2e2e2e" stroke-width="1.8" transform="translate(8,5)" opacity="0.65"/><polyline points="936.3,803.8 941,818 943.9,834.6 954.5,855.9 965.2,869.2 975.8,890.4 986.4,911.7 999.7,933 1013,951.6 1026.4,970.3 1039.7,991.5 1053,1012.8 1066.3,1034 1079.6,1055.4 1090.2,1074 1095.5,1088.3" fill="none" stroke="#2e2e2e" stroke-width="1.8" transform="translate(8,-3)" opacity="0.5"/><polyline points="1122.7,566.6 1091,592.8 1067.6,611.6 1044,635 1020.7,658.5 1002,677.2 983.2,698.3 964.4,717 948,731 934,740.5 930.4,747.6 928,764 926.9,785 930.4,794.5 936.3,803.8 941,818 943.9,834.6 954.5,855.9 965.2,869.2 975.8,890.4 986.4,911.7 999.7,933 1013,951.6 1026.4,970.3 1039.7,991.5 1053,1012.8 1066.3,1034 1079.6,1055.4 1090.2,1074 1095.5,1088.3" fill="none" stroke="#d6d6d6" stroke-width="1.6" transform="translate(-1.2,0)" opacity="0.85"/></g></g><g clip-path="url(#clipI)"><rect x="1102.4" y="703.5" width="224.19999999999982" height="220.70000000000005" fill="#8b8b8b" filter="url(#noiseB)"/><polygon points="1201,703.5 1188.2,718.3 1171.3,728.9 1156.4,735.3 1151.1,748 1145.8,769.2 1141.6,792.5 1143.7,813.6 1146.9,834.8 1156.4,851.8 1167,868.7 1173.4,885.7 1175.5,906.9 1176.6,924.2 1328.6,926.2 1328.6,701.5" fill="#727272" filter="url(#noiseB)"/><polygon points="1201,703.5 1188.2,718.3 1171.3,728.9 1156.4,735.3 1151.1,748 1145.8,769.2 1141.6,792.5 1143.7,813.6 1146.9,834.8 1156.4,851.8 1167,868.7 1173.4,885.7 1175.5,906.9 1176.6,924.2 1328.6,926.2 1328.6,701.5" fill="url(#fringe2)"/><g filter="url(#wig)"><polyline points="1201,703.5 1188.2,718.3 1171.3,728.9 1156.4,735.3 1151.1,748 1145.8,769.2 1141.6,792.5 1143.7,813.6 1146.9,834.8 1156.4,851.8 1167,868.7 1173.4,885.7 1175.5,906.9 1176.6,924.2" fill="none" stroke="#2a2a2a" stroke-width="4.5" transform="translate(4.5,1)" opacity="0.75"/><polyline points="1201,703.5 1188.2,718.3 1171.3,728.9 1156.4,735.3 1151.1,748 1145.8,769.2 1141.6,792.5 1143.7,813.6 1146.9,834.8 1156.4,851.8 1167,868.7 1173.4,885.7 1175.5,906.9 1176.6,924.2" fill="none" stroke="#e2e2e2" stroke-width="3" transform="translate(-1.2,0)" opacity="0.9"/></g></g><rect x="1103.4" y="704.5" width="222.19999999999982" height="218.70000000000005" fill="none" stroke="#fff" stroke-width="2"/><ellipse cx="932.2" cy="787.5" rx="51" ry="51.5" fill="none" stroke="#fff" stroke-width="3.2" stroke-dasharray="9.5 5.5"/><line x1="930" y1="736.5" x2="1101" y2="704.5" stroke="#fff" stroke-width="3.2" stroke-dasharray="9.5 5.5"/><line x1="925" y1="838.5" x2="1101" y2="923" stroke="#fff" stroke-width="3.2" stroke-dasharray="9.5 5.5"/><text x="824.5" y="1051.3" font-size="47" font-weight="bold" fill="#fff">100 nm</text><rect x="824.5" y="1060" width="161.5" height="10.2" fill="#fff"/><text x="1118.8" y="900.8" font-size="23" font-weight="bold" fill="#fff">10 nm</text><rect x="1125.7" y="909.4" width="38.2" height="4.5" fill="#fff"/>
</svg>
</body></html>
